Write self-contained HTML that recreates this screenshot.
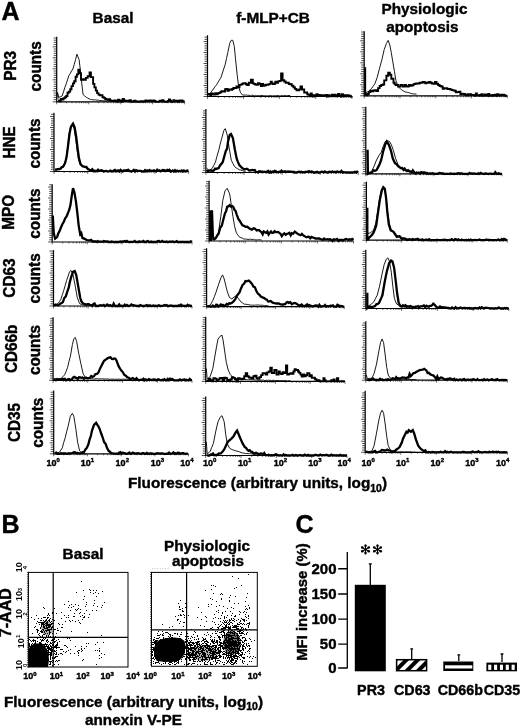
<!DOCTYPE html>
<html><head><meta charset="utf-8"><style>
html,body{margin:0;padding:0;background:#fff;}
body{width:520px;height:726px;overflow:hidden;}
svg{display:block;font-family:"Liberation Sans", sans-serif;filter:blur(0.3px);}
</style></head><body>
<svg width="520" height="726" viewBox="0 0 520 726">
<rect width="520" height="726" fill="#fff"/>
<g><path d="M52.7,101.8h4.0M53.7,99.6h3.0M53.7,97.4h3.0M53.7,95.2h3.0M53.7,93.0h3.0M52.7,90.8h4.0M53.7,88.6h3.0M53.7,86.4h3.0M53.7,84.2h3.0M53.7,82.0h3.0M52.7,79.8h4.0M53.7,77.6h3.0M53.7,75.4h3.0M53.7,73.2h3.0M53.7,71.0h3.0M52.7,68.8h4.0M53.7,66.6h3.0M53.7,64.4h3.0M53.7,62.2h3.0M53.7,60.0h3.0M52.7,57.8h4.0M53.7,55.6h3.0M53.7,53.4h3.0M53.7,51.2h3.0M53.7,49.0h3.0M52.7,46.8h4.0M53.7,44.6h3.0M53.7,42.4h3.0M53.7,40.2h3.0M53.7,38.0h3.0" stroke="#222" stroke-width="0.8" fill="none"/><path d="M56.7,101.8v2.5M66.3,101.8v1.5M72.0,101.8v1.5M76.0,101.8v1.5M79.0,101.8v1.5M81.6,101.8v1.5M83.7,101.8v1.5M85.6,101.8v1.5M87.2,101.8v1.5M88.7,101.8v2.5M98.3,101.8v1.5M103.9,101.8v1.5M107.9,101.8v1.5M111.0,101.8v1.5M113.6,101.8v1.5M115.7,101.8v1.5M117.6,101.8v1.5M119.2,101.8v1.5M120.7,101.8v2.5M130.3,101.8v1.5M135.9,101.8v1.5M139.9,101.8v1.5M143.0,101.8v1.5M145.5,101.8v1.5M147.7,101.8v1.5M149.5,101.8v1.5M151.2,101.8v1.5M152.6,101.8v2.5M162.3,101.8v1.5M167.9,101.8v1.5M171.9,101.8v1.5M175.0,101.8v1.5M177.5,101.8v1.5M179.6,101.8v1.5M181.5,101.8v1.5M183.1,101.8v1.5M184.6,101.8v2.5" stroke="#333" stroke-width="0.7" fill="none"/><path d="M56.7,36.7V101.8H184.6" stroke="#000" stroke-width="1.2" fill="none"/><path d="M58.1,98.7 L57.5,92.5 L58.6,97.3 L60.4,96.8 L62.1,96.0 L63.5,91.9 L64.8,87.5 L66.2,83.9 L67.5,79.9 L68.8,75.8 L70.2,73.6 L71.5,71.0 L72.9,69.0 L74.2,64.5 L75.6,59.6 L76.9,54.2 L79.1,59.6 L80.4,70.4 L81.8,83.9 L83.1,94.6 L84.7,96.0 L86.3,97.3 L87.7,98.0 L89.0,98.8 L90.4,99.5 L91.7,99.6 L93.1,99.8 L94.4,99.9 L95.8,99.9 L97.1,100.2 L98.5,100.1 L99.8,100.6 L101.2,100.6 L102.5,100.5 L103.9,100.8 L105.2,100.9 L106.5,101.0 L107.9,100.7 L109.2,101.0 L110.6,101.1 L111.9,100.7 L113.3,100.9 L114.6,101.2 L116.0,101.1 L117.3,101.2 L118.7,100.9 L120.0,101.1" stroke="#000" stroke-width="0.9" fill="none" stroke-linejoin="round"/><path d="M58.1,100.5 L59.4,100.5 L59.4,101.4 L60.8,101.4 L60.8,99.0 L62.1,99.0 L62.1,99.5 L63.5,99.5 L63.5,98.3 L64.8,98.3 L64.8,97.3 L66.2,97.3 L66.2,96.0 L67.5,96.0 L67.5,92.7 L68.8,92.7 L68.8,91.6 L70.2,91.6 L70.2,89.2 L71.5,89.2 L71.5,86.1 L72.9,86.1 L72.9,83.4 L74.2,83.4 L74.2,81.2 L75.6,81.2 L75.6,76.8 L76.9,76.8 L76.9,74.4 L78.3,74.4 L78.3,69.8 L79.6,69.8 L79.6,73.1 L81.0,73.1 L81.0,79.8 L82.3,79.8 L82.3,79.3 L83.7,79.3 L83.7,79.8 L85.8,79.8 L85.8,77.9 L87.7,77.9 L87.7,76.3 L89.6,76.3 L89.6,72.5 L90.9,72.5 L90.9,77.1 L93.1,77.1 L93.1,83.9 L94.4,83.9 L94.4,87.4 L95.8,87.4 L95.8,90.6 L97.1,90.6 L97.1,93.1 L98.5,93.1 L98.5,94.6 L99.8,94.6 L99.8,95.2 L101.2,95.2 L101.2,95.1 L102.5,95.1 L102.5,97.3 L103.9,97.3 L103.9,97.9 L105.2,97.9 L105.2,99.0 L106.5,99.0 L106.5,99.5 L107.7,99.5 L107.7,99.9 L108.9,99.9 L108.9,99.1 L110.0,99.1 L110.0,100.5 L111.2,100.5 L111.2,100.6 L112.3,100.6 L112.3,100.7 L113.5,100.7 L113.5,101.0 L114.6,101.0 L114.6,100.5 L115.8,100.5 L115.8,100.9 L116.9,100.9 L116.9,101.6 L118.1,101.6 L118.1,99.7 L119.2,99.7 L119.2,100.9 L120.4,100.9 L120.4,100.5 L121.5,100.5 L121.5,101.8 L122.7,101.8 L122.7,98.9 L123.9,98.9 L123.9,100.4 L125.0,100.4 L125.0,101.1 L126.2,101.1 L126.2,100.8 L127.3,100.8 L127.3,100.7 L128.5,100.7 L128.5,101.2 L129.6,101.2 L129.6,100.2 L130.8,100.2 L130.8,101.1 L131.9,101.1 L131.9,101.7 L133.0,101.7 L133.0,101.6 L134.1,101.6 L134.1,100.8 L135.3,100.8 L135.3,101.2 L136.4,101.2 L136.4,101.4 L137.5,101.4 L137.5,101.8 L138.6,101.8 L138.6,101.5 L139.7,101.5 L139.7,101.4 L140.9,101.4 L140.9,101.1 L142.0,101.1 L142.0,101.7 L143.1,101.7 L143.1,101.1 L144.2,101.1 L144.2,101.5 L145.4,101.5 L145.4,100.5 L146.5,100.5 L146.5,101.1 L147.6,101.1 L147.6,100.6 L148.7,100.6 L148.7,101.1 L149.8,101.1 L149.8,100.5 L151.0,100.5 L151.0,100.9 L152.1,100.9 L152.1,101.2 L153.2,101.2 L153.2,100.5 L154.3,100.5 L154.3,100.9 L155.4,100.9 L155.4,101.7 L156.6,101.7 L156.6,101.8 L157.7,101.8 L157.7,101.8 L158.8,101.8 L158.8,101.4 L159.9,101.4 L159.9,100.6 L161.1,100.6 L161.1,101.4 L162.2,101.4 L162.2,100.3 L163.3,100.3 L163.3,101.2 L164.4,101.2 L164.4,101.8 L165.5,101.8 L165.5,101.8 L166.7,101.8 L166.7,101.8 L167.8,101.8 L167.8,101.0 L168.9,101.0 L168.9,99.4 L170.0,99.4 L170.0,100.6 L171.1,100.6 L171.1,101.7 L172.3,101.7 L172.3,101.6 L173.4,101.6 L173.4,100.2 L174.5,100.2 L174.5,101.3 L175.6,101.3 L175.6,101.1 L176.8,101.1 L176.8,100.6 L177.9,100.6 L177.9,101.8 L179.0,101.8 L179.0,100.8 L180.1,100.8 L180.1,100.4 L181.2,100.4 L181.2,100.4 L182.4,100.4 L182.4,101.5 L183.5,101.5 L183.5,101.1 L184.6,101.1 L184.6,101.1" stroke="#000" stroke-width="1.9" fill="none" stroke-linejoin="miter"/></g>
<g><path d="M50.0,171.5h4.0M51.0,169.3h3.0M51.0,167.1h3.0M51.0,164.9h3.0M51.0,162.7h3.0M50.0,160.5h4.0M51.0,158.3h3.0M51.0,156.1h3.0M51.0,153.9h3.0M51.0,151.7h3.0M50.0,149.5h4.0M51.0,147.3h3.0M51.0,145.1h3.0M51.0,142.9h3.0M51.0,140.7h3.0M50.0,138.5h4.0M51.0,136.3h3.0M51.0,134.1h3.0M51.0,131.9h3.0M51.0,129.7h3.0M50.0,127.5h4.0M51.0,125.3h3.0M51.0,123.1h3.0M51.0,120.9h3.0M51.0,118.7h3.0M50.0,116.5h4.0M51.0,114.3h3.0" stroke="#222" stroke-width="0.8" fill="none"/><path d="M54.0,171.5v2.5M64.1,171.5v1.5M70.1,171.5v1.5M74.3,171.5v1.5M77.5,171.5v1.5M80.2,171.5v1.5M82.4,171.5v1.5M84.4,171.5v1.5M86.1,171.5v1.5M87.7,171.5v2.5M97.8,171.5v1.5M103.7,171.5v1.5M107.9,171.5v1.5M111.2,171.5v1.5M113.8,171.5v1.5M116.1,171.5v1.5M118.0,171.5v1.5M119.8,171.5v1.5M121.3,171.5v2.5M131.4,171.5v1.5M137.4,171.5v1.5M141.6,171.5v1.5M144.8,171.5v1.5M147.5,171.5v1.5M149.7,171.5v1.5M151.7,171.5v1.5M153.4,171.5v1.5M154.9,171.5v2.5M165.1,171.5v1.5M171.0,171.5v1.5M175.2,171.5v1.5M178.5,171.5v1.5M181.1,171.5v1.5M183.4,171.5v1.5M185.3,171.5v1.5M187.1,171.5v1.5M188.6,171.5v2.5" stroke="#333" stroke-width="0.7" fill="none"/><path d="M54.0,112.7V171.5H188.6" stroke="#000" stroke-width="1.2" fill="none"/><path d="M55.1,169.0 L56.5,168.9 L58.0,168.8 L59.4,168.5 L60.9,168.5 L62.5,166.3 L64.0,164.4 L65.8,159.8 L67.5,148.3 L68.9,135.3 L70.4,127.5 L72.4,125.2 L74.1,128.7 L75.6,138.2 L77.0,149.7 L78.5,159.2 L80.2,164.4 L82.5,166.2 L83.9,166.6 L85.4,167.2 L86.8,167.9 L88.3,168.3 L89.7,169.3 L91.2,169.9 L92.6,170.0 L94.0,169.9 L95.5,170.1 L96.9,170.3 L98.4,170.3 L99.8,170.3 L101.2,170.2 L102.7,170.5" stroke="#000" stroke-width="0.9" fill="none" stroke-linejoin="round"/><path d="M55.1,169.9 L56.5,169.7 L58.0,169.2 L59.4,169.0 L60.6,168.7 L61.7,167.1 L62.9,167.0 L64.0,165.2 L65.2,162.7 L66.6,156.9 L68.1,145.4 L69.5,133.8 L71.0,126.6 L73.0,123.7 L74.7,127.5 L76.2,136.7 L77.6,148.3 L79.0,158.4 L80.5,164.1 L82.5,166.2 L83.9,166.6 L85.4,167.0 L86.5,167.0 L87.7,169.0 L88.8,169.4 L90.0,170.3 L91.2,170.2 L92.3,169.2 L93.5,171.3 L94.6,171.1 L95.8,171.4 L96.9,171.1 L98.1,169.7 L99.2,170.8 L100.4,170.7 L101.5,170.3 L102.7,170.8 L103.8,171.5 L104.9,171.2 L106.0,171.0 L107.1,171.2 L108.3,171.3 L109.4,171.1 L110.5,170.6 L111.6,171.4 L112.7,171.4 L113.8,170.5 L114.9,169.9 L116.0,171.2 L117.2,170.6 L118.3,170.4 L119.4,171.4 L120.5,169.9 L121.6,170.7 L122.7,171.5 L123.8,170.4 L124.9,170.3 L126.1,170.4 L127.2,170.0 L128.3,169.8 L129.4,171.2 L130.5,171.2 L131.6,171.5 L132.7,170.9 L133.8,169.9 L135.0,171.5 L136.1,170.1 L137.2,170.6 L138.3,170.8 L139.4,170.8 L140.5,170.8 L141.6,171.2 L142.7,171.5 L143.9,171.5 L145.0,170.2 L146.1,171.4 L147.2,170.4 L148.3,171.1 L149.4,170.0 L150.5,171.0 L151.6,170.7 L152.8,170.9 L153.9,170.3 L155.0,170.8 L156.1,171.5 L157.2,169.7 L158.3,170.7 L159.4,170.5 L160.5,171.3 L161.7,170.6 L162.8,169.9 L163.9,170.0 L165.0,170.7 L166.1,170.6 L167.2,169.8 L168.3,170.5 L169.4,169.8 L170.6,171.5 L171.7,171.1 L172.8,170.4 L173.9,171.5 L175.0,170.3 L176.1,171.5 L177.2,170.7 L178.4,171.3 L179.5,170.9 L180.6,171.3 L181.7,170.5 L182.8,171.4 L183.9,170.4 L185.0,171.3 L186.1,171.1 L187.3,170.5 L188.4,170.8" stroke="#000" stroke-width="2.3" fill="none" stroke-linejoin="miter"/></g>
<g><path d="M48.2,242.0h4.0M49.2,239.8h3.0M49.2,237.6h3.0M49.2,235.4h3.0M49.2,233.2h3.0M48.2,231.0h4.0M49.2,228.8h3.0M49.2,226.6h3.0M49.2,224.4h3.0M49.2,222.2h3.0M48.2,220.0h4.0M49.2,217.8h3.0M49.2,215.6h3.0M49.2,213.4h3.0M49.2,211.2h3.0M48.2,209.0h4.0M49.2,206.8h3.0M49.2,204.6h3.0M49.2,202.4h3.0M49.2,200.2h3.0M48.2,198.0h4.0M49.2,195.8h3.0M49.2,193.6h3.0M49.2,191.4h3.0M49.2,189.2h3.0M48.2,187.0h4.0M49.2,184.8h3.0" stroke="#222" stroke-width="0.8" fill="none"/><path d="M52.2,242.0v2.5M62.7,242.0v1.5M68.9,242.0v1.5M73.2,242.0v1.5M76.6,242.0v1.5M79.4,242.0v1.5M81.7,242.0v1.5M83.8,242.0v1.5M85.6,242.0v1.5M87.2,242.0v2.5M97.7,242.0v1.5M103.8,242.0v1.5M108.2,242.0v1.5M111.6,242.0v1.5M114.3,242.0v1.5M116.7,242.0v1.5M118.7,242.0v1.5M120.5,242.0v1.5M122.1,242.0v2.5M132.6,242.0v1.5M138.8,242.0v1.5M143.1,242.0v1.5M146.5,242.0v1.5M149.3,242.0v1.5M151.6,242.0v1.5M153.7,242.0v1.5M155.5,242.0v1.5M157.1,242.0v2.5M167.6,242.0v1.5M173.7,242.0v1.5M178.1,242.0v1.5M181.5,242.0v1.5M184.2,242.0v1.5M186.6,242.0v1.5M188.6,242.0v1.5M190.4,242.0v1.5M192.0,242.0v2.5" stroke="#333" stroke-width="0.7" fill="none"/><path d="M52.2,184.3V242.0H192.0" stroke="#000" stroke-width="1.2" fill="none"/><path d="M52.8,218.4 L53.7,234.2 L55.1,239.2 L57.1,237.7 L59.4,232.2 L60.9,228.6 L62.3,225.0 L63.7,222.1 L65.2,219.2 L66.6,216.3 L68.1,213.2 L70.4,206.0 L71.8,195.9 L73.0,189.0 L74.4,193.0 L75.9,201.7 L77.3,213.2 L78.7,226.2 L80.2,234.8 L82.5,238.6 L83.9,238.9 L85.4,239.7 L86.8,240.1 L88.3,240.4 L89.7,240.6 L91.2,240.9 L92.6,240.9 L94.0,241.1 L95.5,241.1 L96.9,241.3 L98.4,241.6 L99.8,241.4 L101.2,241.9 L102.7,241.7" stroke="#000" stroke-width="0.9" fill="none" stroke-linejoin="round"/><path d="M52.8,215.5 L53.7,232.8 L55.1,238.6 L57.1,237.1 L58.3,233.2 L59.4,231.4 L60.9,227.6 L62.3,224.2 L63.7,222.0 L65.2,218.4 L66.6,216.5 L68.1,212.6 L69.2,210.0 L70.4,205.4 L71.8,195.3 L73.0,188.1 L74.4,192.4 L75.9,201.1 L77.3,212.6 L78.7,225.6 L80.2,234.2 L81.3,233.0 L82.5,238.0 L83.9,238.4 L85.4,239.2 L86.8,240.0 L88.3,240.4 L89.7,240.3 L91.2,239.8 L92.6,241.6 L94.0,241.5 L95.3,241.5 L96.5,242.0 L97.7,241.1 L99.0,241.7 L100.2,241.7 L101.5,241.7 L102.7,241.7 L103.8,241.0 L104.9,241.3 L106.0,241.5 L107.1,241.3 L108.2,241.5 L109.3,242.0 L110.4,242.0 L111.5,241.4 L112.6,241.8 L113.7,242.0 L114.8,242.0 L115.9,241.8 L117.0,242.0 L118.1,242.0 L119.2,241.9 L120.3,241.5 L121.4,241.9 L122.5,241.4 L123.6,241.6 L124.7,241.1 L125.8,241.8 L126.9,241.0 L128.1,241.9 L129.2,242.0 L130.3,242.0 L131.4,241.8 L132.5,241.9 L133.6,241.7 L134.7,241.0 L135.8,242.0 L136.9,242.0 L138.0,242.0 L139.1,241.3 L140.2,242.0 L141.3,241.6 L142.4,241.6 L143.5,240.9 L144.6,242.0 L145.7,242.0 L146.8,241.3 L147.9,241.1 L149.0,242.0 L150.1,242.0 L151.2,241.5 L152.3,242.0 L153.4,242.0 L154.5,242.0 L155.6,241.8 L156.7,241.8 L157.8,241.0 L158.9,240.9 L160.0,241.9 L161.1,241.7 L162.2,240.9 L163.3,241.8 L164.4,241.6 L165.5,242.0 L166.6,241.5 L167.7,242.0 L168.8,242.0 L169.9,241.5 L171.1,242.0 L172.2,241.4 L173.3,241.7 L174.4,242.0 L175.5,241.9 L176.6,241.1 L177.7,242.0 L178.8,242.0 L179.9,242.0 L181.0,242.0 L182.1,241.7 L183.2,242.0 L184.3,241.9 L185.4,242.0 L186.5,242.0 L187.6,242.0 L188.7,242.0 L189.8,242.0 L190.9,241.3 L192.0,242.0" stroke="#000" stroke-width="2.3" fill="none" stroke-linejoin="miter"/></g>
<g><path d="M49.5,306.0h4.0M50.5,303.8h3.0M50.5,301.6h3.0M50.5,299.4h3.0M50.5,297.2h3.0M49.5,295.0h4.0M50.5,292.8h3.0M50.5,290.6h3.0M50.5,288.4h3.0M50.5,286.2h3.0M49.5,284.0h4.0M50.5,281.8h3.0M50.5,279.6h3.0M50.5,277.4h3.0M50.5,275.2h3.0M49.5,273.0h4.0M50.5,270.8h3.0M50.5,268.6h3.0M50.5,266.4h3.0M50.5,264.2h3.0M49.5,262.0h4.0M50.5,259.8h3.0M50.5,257.6h3.0M50.5,255.4h3.0M50.5,253.2h3.0M49.5,251.0h4.0" stroke="#222" stroke-width="0.8" fill="none"/><path d="M53.5,306.0v2.5M63.9,306.0v1.5M70.0,306.0v1.5M74.3,306.0v1.5M77.7,306.0v1.5M80.4,306.0v1.5M82.8,306.0v1.5M84.8,306.0v1.5M86.5,306.0v1.5M88.1,306.0v2.5M98.5,306.0v1.5M104.6,306.0v1.5M109.0,306.0v1.5M112.3,306.0v1.5M115.1,306.0v1.5M117.4,306.0v1.5M119.4,306.0v1.5M121.2,306.0v1.5M122.8,306.0v2.5M133.2,306.0v1.5M139.3,306.0v1.5M143.6,306.0v1.5M147.0,306.0v1.5M149.7,306.0v1.5M152.0,306.0v1.5M154.0,306.0v1.5M155.8,306.0v1.5M157.4,306.0v2.5M167.8,306.0v1.5M173.9,306.0v1.5M178.2,306.0v1.5M181.6,306.0v1.5M184.3,306.0v1.5M186.6,306.0v1.5M188.6,306.0v1.5M190.4,306.0v1.5M192.0,306.0v2.5" stroke="#333" stroke-width="0.7" fill="none"/><path d="M53.5,250.2V306.0H192.0" stroke="#000" stroke-width="1.2" fill="none"/><path d="M54.2,305.0 L56.1,304.4 L58.0,303.6 L59.4,301.6 L60.9,299.2 L62.3,294.8 L63.7,290.6 L65.2,285.4 L66.6,280.5 L68.1,276.2 L69.5,271.8 L71.0,270.4 L73.0,274.7 L75.3,286.3 L77.3,297.8 L79.6,303.6 L81.1,304.3 L82.5,304.6 L83.9,305.0 L85.4,305.0 L86.8,305.1 L88.3,305.4 L89.7,305.6 L91.2,305.6" stroke="#000" stroke-width="0.9" fill="none" stroke-linejoin="round"/><path d="M54.2,305.9 L55.5,304.5 L56.8,305.0 L58.1,305.3 L59.4,304.4 L60.6,303.5 L61.7,303.0 L62.9,302.1 L64.3,298.0 L65.8,296.4 L67.2,291.8 L68.7,287.7 L69.8,282.2 L71.0,277.6 L73.0,271.8 L74.7,271.0 L76.2,274.7 L78.2,286.3 L80.2,297.8 L81.3,301.2 L82.5,303.0 L83.9,303.8 L85.4,304.4 L86.5,304.5 L87.7,304.2 L88.8,304.2 L90.0,304.9 L91.2,305.0 L92.3,305.9 L93.5,303.9 L94.6,303.4 L95.8,306.0 L96.9,306.0 L98.1,305.8 L99.2,305.7 L100.4,305.2 L101.5,305.3 L102.7,305.6 L103.8,304.9 L104.9,306.0 L106.0,305.5 L107.1,304.5 L108.2,305.3 L109.3,305.3 L110.4,305.2 L111.5,306.0 L112.6,306.0 L113.7,303.7 L114.8,305.9 L115.9,306.0 L117.0,306.0 L118.1,306.0 L119.2,304.5 L120.3,306.0 L121.4,305.7 L122.5,306.0 L123.6,306.0 L124.7,304.8 L125.8,306.0 L126.9,305.0 L128.1,306.0 L129.2,306.0 L130.3,305.4 L131.4,304.4 L132.5,305.2 L133.6,305.2 L134.7,305.6 L135.8,305.6 L136.9,306.0 L138.0,306.0 L139.1,306.0 L140.2,305.0 L141.3,305.5 L142.4,306.0 L143.5,306.0 L144.6,306.0 L145.7,305.5 L146.8,305.1 L147.9,306.0 L149.0,305.4 L150.1,305.5 L151.2,306.0 L152.3,305.8 L153.4,305.4 L154.5,306.0 L155.6,305.7 L156.7,306.0 L157.8,305.7 L158.9,305.3 L160.0,306.0 L161.1,306.0 L162.2,305.9 L163.3,305.7 L164.4,305.0 L165.5,305.5 L166.6,305.1 L167.7,306.0 L168.8,306.0 L169.9,305.6 L171.1,305.5 L172.2,306.0 L173.3,305.8 L174.4,306.0 L175.5,306.0 L176.6,306.0 L177.7,306.0 L178.8,305.3 L179.9,306.0 L181.0,304.7 L182.1,305.9 L183.2,305.7 L184.3,306.0 L185.4,305.8 L186.5,306.0 L187.6,304.8 L188.7,305.6 L189.8,305.4 L190.9,306.0 L192.0,305.9" stroke="#000" stroke-width="2.3" fill="none" stroke-linejoin="miter"/></g>
<g><path d="M49.1,380.3h4.0M50.1,378.1h3.0M50.1,375.9h3.0M50.1,373.7h3.0M50.1,371.5h3.0M49.1,369.3h4.0M50.1,367.1h3.0M50.1,364.9h3.0M50.1,362.7h3.0M50.1,360.5h3.0M49.1,358.3h4.0M50.1,356.1h3.0M50.1,353.9h3.0M50.1,351.7h3.0M50.1,349.5h3.0M49.1,347.3h4.0M50.1,345.1h3.0M50.1,342.9h3.0M50.1,340.7h3.0M50.1,338.5h3.0M49.1,336.3h4.0M50.1,334.1h3.0M50.1,331.9h3.0M50.1,329.7h3.0M50.1,327.5h3.0M49.1,325.3h4.0M50.1,323.1h3.0M50.1,320.9h3.0M50.1,318.7h3.0" stroke="#222" stroke-width="0.8" fill="none"/><path d="M53.1,380.3v2.5M63.6,380.3v1.5M69.7,380.3v1.5M74.0,380.3v1.5M77.4,380.3v1.5M80.1,380.3v1.5M82.4,380.3v1.5M84.5,380.3v1.5M86.2,380.3v1.5M87.8,380.3v2.5M98.3,380.3v1.5M104.4,380.3v1.5M108.7,380.3v1.5M112.1,380.3v1.5M114.8,380.3v1.5M117.2,380.3v1.5M119.2,380.3v1.5M121.0,380.3v1.5M122.6,380.3v2.5M133.0,380.3v1.5M139.1,380.3v1.5M143.5,380.3v1.5M146.8,380.3v1.5M149.6,380.3v1.5M151.9,380.3v1.5M153.9,380.3v1.5M155.7,380.3v1.5M157.3,380.3v2.5M167.7,380.3v1.5M173.8,380.3v1.5M178.2,380.3v1.5M181.5,380.3v1.5M184.3,380.3v1.5M186.6,380.3v1.5M188.6,380.3v1.5M190.4,380.3v1.5M192.0,380.3v2.5" stroke="#333" stroke-width="0.7" fill="none"/><path d="M53.1,317.2V380.3H192.0" stroke="#000" stroke-width="1.2" fill="none"/><path d="M53.7,379.2 L55.1,379.2 L56.5,378.8 L58.0,378.8 L59.4,378.6 L60.9,378.7 L62.7,376.8 L64.6,374.9 L66.1,371.4 L67.5,367.7 L68.9,361.8 L70.4,356.2 L72.4,344.6 L73.8,338.8 L75.3,337.4 L76.7,341.7 L78.7,353.3 L81.1,364.8 L83.1,373.5 L85.4,377.8 L86.8,378.3 L88.3,378.7 L89.6,378.5 L90.9,378.8 L92.2,378.7 L93.5,379.0 L94.8,378.9 L96.1,378.8 L97.4,378.6 L98.8,378.9 L100.1,378.9 L101.4,378.9 L102.7,378.7 L104.0,379.1 L105.3,379.0 L106.6,379.0 L107.9,378.9 L109.2,379.3 L110.6,379.1 L111.9,379.3 L113.2,379.1 L114.5,379.2 L115.8,379.4 L117.1,379.2 L118.4,379.1 L119.7,379.1 L121.0,379.4 L122.4,379.3 L123.7,379.1 L125.0,379.4 L126.3,379.2 L127.6,379.4 L128.9,379.6 L130.2,379.5 L131.5,379.5" stroke="#000" stroke-width="0.9" fill="none" stroke-linejoin="round"/><path d="M53.7,379.8 L54.8,379.3 L55.9,380.2 L57.0,379.1 L58.1,379.8 L59.2,379.3 L60.3,379.6 L61.4,379.5 L62.5,378.7 L63.6,379.2 L64.7,378.9 L65.9,380.3 L67.0,379.9 L68.1,379.2 L69.3,379.2 L70.5,380.1 L71.8,379.4 L73.0,377.7 L74.3,376.9 L75.5,377.7 L76.7,378.1 L77.9,378.9 L79.0,377.3 L80.2,377.4 L81.3,377.8 L82.5,377.5 L83.7,378.6 L84.8,378.2 L86.0,377.5 L87.1,378.2 L88.3,378.1 L89.7,377.9 L91.2,376.1 L92.6,376.9 L94.0,376.2 L95.5,374.1 L96.9,374.0 L98.4,372.6 L99.8,369.1 L101.2,366.3 L102.7,363.4 L104.1,360.8 L105.6,359.6 L106.7,359.0 L107.9,358.0 L109.0,357.6 L110.5,357.2 L111.9,359.0 L113.1,359.1 L114.2,358.5 L115.4,358.8 L116.5,360.5 L118.6,366.2 L120.0,368.6 L121.4,370.6 L122.9,372.3 L124.3,374.9 L125.8,375.6 L127.2,377.2 L128.7,377.8 L130.1,379.2 L131.5,378.7 L132.8,378.0 L134.0,378.8 L135.2,379.8 L136.5,378.2 L137.7,379.6 L139.0,380.3 L140.2,379.8 L141.3,379.6 L142.4,380.0 L143.5,378.8 L144.6,380.3 L145.7,379.5 L146.8,380.3 L147.9,380.0 L149.0,379.1 L150.1,379.5 L151.2,379.8 L152.3,379.9 L153.4,379.3 L154.5,379.3 L155.6,379.8 L156.7,380.3 L157.8,379.3 L158.9,379.3 L160.0,380.1 L161.1,380.3 L162.2,379.7 L163.3,380.3 L164.4,379.2 L165.5,380.3 L166.6,380.3 L167.7,379.0 L168.9,380.3 L170.0,378.8 L171.1,379.8 L172.2,379.0 L173.3,379.8 L174.4,380.3 L175.5,380.3 L176.6,380.3 L177.7,380.3 L178.8,380.3 L179.9,379.5 L181.0,380.3 L182.1,380.0 L183.2,379.9 L184.3,379.3 L185.4,380.3 L186.5,379.7 L187.6,380.2 L188.7,380.3 L189.8,378.9 L190.9,380.0 L192.0,380.1" stroke="#000" stroke-width="2.3" fill="none" stroke-linejoin="miter"/></g>
<g><path d="M49.7,453.8h4.0M50.7,451.6h3.0M50.7,449.4h3.0M50.7,447.2h3.0M50.7,445.0h3.0M49.7,442.8h4.0M50.7,440.6h3.0M50.7,438.4h3.0M50.7,436.2h3.0M50.7,434.0h3.0M49.7,431.8h4.0M50.7,429.6h3.0M50.7,427.4h3.0M50.7,425.2h3.0M50.7,423.0h3.0M49.7,420.8h4.0M50.7,418.6h3.0M50.7,416.4h3.0M50.7,414.2h3.0M50.7,412.0h3.0M49.7,409.8h4.0M50.7,407.6h3.0M50.7,405.4h3.0M50.7,403.2h3.0M50.7,401.0h3.0M49.7,398.8h4.0M50.7,396.6h3.0M50.7,394.4h3.0M50.7,392.2h3.0" stroke="#222" stroke-width="0.8" fill="none"/><path d="M53.7,453.8v2.5M63.8,453.8v1.5M69.8,453.8v1.5M74.0,453.8v1.5M77.3,453.8v1.5M79.9,453.8v1.5M82.2,453.8v1.5M84.1,453.8v1.5M85.9,453.8v1.5M87.4,453.8v2.5M97.5,453.8v1.5M103.5,453.8v1.5M107.7,453.8v1.5M111.0,453.8v1.5M113.6,453.8v1.5M115.9,453.8v1.5M117.8,453.8v1.5M119.6,453.8v1.5M121.1,453.8v2.5M131.2,453.8v1.5M137.2,453.8v1.5M141.4,453.8v1.5M144.7,453.8v1.5M147.3,453.8v1.5M149.6,453.8v1.5M151.5,453.8v1.5M153.3,453.8v1.5M154.8,453.8v2.5M164.9,453.8v1.5M170.9,453.8v1.5M175.1,453.8v1.5M178.4,453.8v1.5M181.0,453.8v1.5M183.3,453.8v1.5M185.2,453.8v1.5M187.0,453.8v1.5M188.5,453.8v2.5" stroke="#333" stroke-width="0.7" fill="none"/><path d="M53.7,390.4V453.8H188.5" stroke="#000" stroke-width="1.2" fill="none"/><path d="M55.1,453.1 L56.5,452.8 L58.0,452.7 L59.4,452.2 L60.9,450.0 L62.3,447.9 L63.7,442.5 L65.2,437.8 L66.6,431.9 L68.1,426.3 L70.4,416.2 L72.4,413.3 L73.8,416.2 L75.9,429.2 L77.6,442.1 L79.6,450.8 L81.9,453.1 L83.7,453.5 L85.4,453.7" stroke="#000" stroke-width="0.9" fill="none" stroke-linejoin="round"/><path d="M55.1,453.7 L56.2,452.7 L57.3,453.8 L58.4,453.8 L59.6,453.8 L60.7,453.3 L61.8,453.8 L62.9,453.2 L64.0,453.8 L65.1,453.3 L66.2,453.6 L67.4,453.8 L68.5,453.2 L69.6,453.6 L70.7,453.3 L71.8,453.1 L72.9,452.8 L74.0,452.2 L75.2,452.4 L76.3,453.4 L77.4,452.9 L78.5,453.2 L79.6,453.4 L81.1,453.1 L82.5,452.2 L83.9,452.2 L85.4,449.5 L86.8,447.9 L88.3,444.6 L89.7,439.2 L90.9,435.8 L92.0,430.6 L94.0,424.8 L96.1,422.8 L97.2,424.6 L98.4,426.3 L99.8,429.4 L101.2,433.5 L102.7,437.5 L104.1,442.1 L105.6,443.8 L107.0,447.9 L108.5,450.7 L109.9,451.7 L111.3,453.2 L112.8,453.4 L114.2,453.6 L115.7,453.6 L117.1,453.7 L118.2,453.8 L119.3,452.6 L120.4,452.2 L121.5,453.7 L122.6,452.8 L123.7,453.0 L124.8,453.1 L125.9,453.8 L127.1,453.8 L128.2,453.4 L129.3,452.6 L130.4,453.8 L131.5,453.7 L132.6,452.7 L133.7,452.8 L134.8,453.8 L135.9,453.4 L137.0,453.5 L138.1,453.1 L139.2,453.3 L140.3,453.8 L141.4,453.8 L142.5,453.1 L143.6,453.2 L144.7,453.8 L145.8,453.8 L146.9,453.0 L148.0,453.8 L149.1,453.6 L150.2,453.5 L151.3,453.5 L152.5,453.6 L153.6,453.8 L154.7,453.8 L155.8,453.8 L156.9,453.1 L158.0,453.3 L159.1,453.4 L160.2,453.7 L161.3,453.4 L162.4,453.4 L163.5,453.7 L164.6,453.8 L165.7,453.8 L166.8,453.6 L167.9,453.8 L169.0,452.6 L170.1,453.8 L171.2,453.6 L172.3,453.5 L173.4,452.4 L174.5,453.8 L175.6,453.2 L176.7,453.8 L177.8,452.7 L179.0,452.8 L180.1,453.8 L181.2,453.3 L182.3,453.2 L183.4,453.2 L184.5,453.7 L185.6,453.8 L186.7,453.7 L187.8,453.7" stroke="#000" stroke-width="2.3" fill="none" stroke-linejoin="miter"/></g>
<g><path d="M203.5,96.5h4.0M204.5,94.3h3.0M204.5,92.1h3.0M204.5,89.9h3.0M204.5,87.7h3.0M203.5,85.5h4.0M204.5,83.3h3.0M204.5,81.1h3.0M204.5,78.9h3.0M204.5,76.7h3.0M203.5,74.5h4.0M204.5,72.3h3.0M204.5,70.1h3.0M204.5,67.9h3.0M204.5,65.7h3.0M203.5,63.5h4.0M204.5,61.3h3.0M204.5,59.1h3.0M204.5,56.9h3.0M204.5,54.7h3.0M203.5,52.5h4.0M204.5,50.3h3.0M204.5,48.1h3.0M204.5,45.9h3.0M204.5,43.7h3.0M203.5,41.5h4.0M204.5,39.3h3.0M204.5,37.1h3.0" stroke="#222" stroke-width="0.8" fill="none"/><path d="M207.5,96.5v2.5M218.4,96.5v1.5M224.7,96.5v1.5M229.2,96.5v1.5M232.7,96.5v1.5M235.6,96.5v1.5M238.0,96.5v1.5M240.1,96.5v1.5M241.9,96.5v1.5M243.6,96.5v2.5M254.4,96.5v1.5M260.8,96.5v1.5M265.3,96.5v1.5M268.8,96.5v1.5M271.6,96.5v1.5M274.1,96.5v1.5M276.2,96.5v1.5M278.0,96.5v1.5M279.6,96.5v2.5M290.5,96.5v1.5M296.9,96.5v1.5M301.4,96.5v1.5M304.9,96.5v1.5M307.7,96.5v1.5M310.1,96.5v1.5M312.2,96.5v1.5M314.1,96.5v1.5M315.7,96.5v2.5M326.6,96.5v1.5M332.9,96.5v1.5M337.4,96.5v1.5M340.9,96.5v1.5M343.8,96.5v1.5M346.2,96.5v1.5M348.3,96.5v1.5M350.1,96.5v1.5M351.8,96.5v2.5" stroke="#333" stroke-width="0.7" fill="none"/><path d="M207.5,35.3V96.5H351.8" stroke="#000" stroke-width="1.2" fill="none"/><path d="M207.5,83.4 L207.5,94.2 L208.8,95.1 L210.3,93.2 L211.8,91.1 L213.4,89.0 L214.9,86.8 L216.5,84.9 L218.0,82.3 L219.5,79.9 L221.1,77.2 L222.4,73.0 L223.7,69.0 L225.1,64.9 L226.5,58.5 L227.8,52.6 L229.7,43.4 L231.2,40.3 L232.8,40.3 L234.3,46.5 L235.5,58.8 L237.1,74.2 L238.6,86.5 L240.5,92.6 L242.6,95.1 L243.9,95.0 L245.2,95.1 L246.5,95.0 L247.8,95.3 L249.1,95.3 L250.4,95.5 L251.7,95.2 L253.0,95.4 L254.3,95.8 L255.6,95.4 L256.9,95.9 L258.2,95.5 L259.5,95.7 L260.9,95.5 L262.2,95.5 L263.6,95.5 L264.9,95.9 L266.2,95.7 L267.6,95.9 L268.9,95.7 L270.2,95.7 L271.6,95.5 L272.9,96.0 L274.3,95.5 L275.6,95.8 L276.9,95.5 L278.3,95.6 L279.6,95.8 L280.9,95.9 L282.3,95.5 L283.6,95.7 L285.0,95.6 L286.3,95.7 L287.6,95.5 L289.0,95.5 L290.3,95.7" stroke="#000" stroke-width="0.9" fill="none" stroke-linejoin="round"/><path d="M207.5,94.2 L208.9,94.2 L208.9,93.9 L210.3,93.9 L210.3,95.1 L211.5,95.1 L211.5,93.5 L212.8,93.5 L212.8,94.1 L214.0,94.1 L214.0,94.6 L215.2,94.6 L215.2,93.3 L216.5,93.3 L216.5,94.2 L217.7,94.2 L217.7,93.4 L218.9,93.4 L218.9,92.9 L220.2,92.9 L220.2,92.3 L221.4,92.3 L221.4,91.3 L222.6,91.3 L222.6,91.1 L223.8,91.1 L223.8,91.5 L225.1,91.5 L225.1,89.2 L226.3,89.2 L226.3,89.0 L227.5,89.0 L227.5,90.9 L228.8,90.9 L228.8,89.5 L229.9,89.5 L229.9,89.5 L231.1,89.5 L231.1,89.8 L232.2,89.8 L232.2,89.0 L233.4,89.0 L233.4,88.0 L234.9,88.0 L234.9,88.1 L236.5,88.1 L236.5,86.5 L238.0,86.5 L238.0,87.4 L239.5,87.4 L239.5,84.9 L241.1,84.9 L241.1,84.4 L242.6,84.4 L242.6,83.4 L244.2,83.4 L244.2,83.2 L245.7,83.2 L245.7,84.3 L247.2,84.3 L247.2,85.1 L248.8,85.1 L248.8,82.8 L250.9,82.8 L250.9,79.7 L252.8,79.7 L252.8,83.4 L254.0,83.4 L254.0,83.9 L255.2,83.9 L255.2,84.5 L256.5,84.5 L256.5,84.9 L258.0,84.9 L258.0,83.2 L259.5,83.2 L259.5,84.0 L260.8,84.0 L260.8,86.0 L262.0,86.0 L262.0,84.0 L263.2,84.0 L263.2,85.8 L264.6,85.8 L264.6,85.2 L265.9,85.2 L265.9,84.7 L267.2,84.7 L267.2,84.9 L268.4,84.9 L268.4,84.4 L269.5,84.4 L269.5,83.9 L270.7,83.9 L270.7,81.8 L271.8,81.8 L271.8,83.4 L273.0,83.4 L273.0,84.1 L274.2,84.1 L274.2,83.8 L275.3,83.8 L275.3,81.7 L276.5,81.7 L276.5,82.8 L278.0,82.8 L278.0,81.4 L279.5,81.4 L279.5,80.9 L281.1,80.9 L281.1,73.5 L282.6,73.5 L282.6,80.3 L284.2,80.3 L284.2,81.5 L285.7,81.5 L285.7,82.8 L287.2,82.8 L287.2,82.6 L288.8,82.6 L288.8,84.0 L290.3,84.0 L290.3,84.3 L291.8,84.3 L291.8,85.8 L293.4,85.8 L293.4,87.2 L294.9,87.2 L294.9,88.9 L296.5,88.9 L296.5,90.3 L298.0,90.3 L298.0,90.2 L299.2,90.2 L299.2,89.4 L300.5,89.4 L300.5,86.5 L302.0,86.5 L302.0,89.5 L304.2,89.5 L304.2,92.6 L305.7,92.6 L305.7,92.4 L307.2,92.4 L307.2,94.2 L308.4,94.2 L308.4,94.9 L309.5,94.9 L309.5,95.5 L310.7,95.5 L310.7,93.4 L311.8,93.4 L311.8,95.1 L313.0,95.1 L313.0,96.2 L314.2,96.2 L314.2,95.3 L315.3,95.3 L315.3,95.4 L316.5,95.4 L316.5,94.2 L317.6,94.2 L317.6,95.3 L318.8,95.3 L318.8,94.9 L319.9,94.9 L319.9,95.2 L321.1,95.2 L321.1,95.7 L322.3,95.7 L322.3,95.3 L323.4,95.3 L323.4,95.5 L324.6,95.5 L324.6,95.7 L325.8,95.7 L325.8,95.0 L327.0,95.0 L327.0,96.5 L328.2,96.5 L328.2,95.2 L329.4,95.2 L329.4,96.4 L330.5,96.4 L330.5,96.0 L331.7,96.0 L331.7,94.6 L332.9,94.6 L332.9,95.2 L334.1,95.2 L334.1,94.8 L335.3,94.8 L335.3,96.4 L336.5,96.4 L336.5,95.1 L338.0,95.1 L338.0,94.0 L339.5,94.0 L339.5,95.7 L340.7,95.7 L340.7,96.5 L341.8,96.5 L341.8,94.1 L342.9,94.1 L342.9,95.3 L344.0,95.3 L344.0,96.4 L345.1,96.4 L345.1,95.1 L346.2,95.1 L346.2,95.1 L347.3,95.1 L347.3,95.3 L348.5,95.3 L348.5,95.8 L349.6,95.8 L349.6,95.8 L350.7,95.8 L350.7,96.5 L351.8,96.5 L351.8,96.3" stroke="#000" stroke-width="1.9" fill="none" stroke-linejoin="miter"/></g>
<g><path d="M201.9,172.5h4.0M202.9,170.3h3.0M202.9,168.1h3.0M202.9,165.9h3.0M202.9,163.7h3.0M201.9,161.5h4.0M202.9,159.3h3.0M202.9,157.1h3.0M202.9,154.9h3.0M202.9,152.7h3.0M201.9,150.5h4.0M202.9,148.3h3.0M202.9,146.1h3.0M202.9,143.9h3.0M202.9,141.7h3.0M201.9,139.5h4.0M202.9,137.3h3.0M202.9,135.1h3.0M202.9,132.9h3.0M202.9,130.7h3.0M201.9,128.5h4.0M202.9,126.3h3.0M202.9,124.1h3.0M202.9,121.9h3.0M202.9,119.7h3.0M201.9,117.5h4.0M202.9,115.3h3.0M202.9,113.1h3.0M202.9,110.9h3.0" stroke="#222" stroke-width="0.8" fill="none"/><path d="M205.9,172.5v2.5M217.4,172.5v1.5M224.1,172.5v1.5M228.8,172.5v1.5M232.5,172.5v1.5M235.5,172.5v1.5M238.1,172.5v1.5M240.3,172.5v1.5M242.2,172.5v1.5M244.0,172.5v2.5M255.4,172.5v1.5M262.1,172.5v1.5M266.9,172.5v1.5M270.6,172.5v1.5M273.6,172.5v1.5M276.2,172.5v1.5M278.4,172.5v1.5M280.3,172.5v1.5M282.1,172.5v2.5M293.5,172.5v1.5M300.2,172.5v1.5M305.0,172.5v1.5M308.7,172.5v1.5M311.7,172.5v1.5M314.2,172.5v1.5M316.4,172.5v1.5M318.4,172.5v1.5M320.1,172.5v2.5M331.6,172.5v1.5M338.3,172.5v1.5M343.0,172.5v1.5M346.7,172.5v1.5M349.8,172.5v1.5M352.3,172.5v1.5M354.5,172.5v1.5M356.5,172.5v1.5M358.2,172.5v2.5" stroke="#333" stroke-width="0.7" fill="none"/><path d="M205.9,108.9V172.5H358.2" stroke="#000" stroke-width="1.2" fill="none"/><path d="M206.6,168.2 L209.1,170.4 L210.7,169.5 L212.3,168.2 L213.9,165.2 L215.5,161.9 L217.0,156.1 L218.6,150.8 L220.2,144.1 L221.8,138.1 L224.0,130.1 L225.3,128.6 L227.2,134.9 L229.1,147.6 L231.3,160.3 L232.9,163.4 L234.5,166.6 L236.1,167.8 L237.7,168.7 L239.3,169.8 L240.8,170.0 L242.4,170.5 L244.0,171.2 L245.6,171.4" stroke="#000" stroke-width="0.9" fill="none" stroke-linejoin="round"/><path d="M206.6,171.4 L207.8,170.6 L209.0,170.8 L210.2,170.5 L211.4,170.5 L212.6,171.1 L213.9,170.4 L215.1,168.7 L216.2,169.1 L217.4,168.4 L218.6,168.2 L220.0,165.4 L221.4,163.9 L222.8,161.9 L224.3,156.3 L225.9,150.8 L227.0,148.8 L228.1,141.3 L229.7,134.9 L231.0,134.0 L232.9,138.1 L234.8,149.2 L236.7,158.7 L238.0,162.1 L239.3,165.0 L240.8,166.6 L242.4,168.2 L244.0,169.3 L245.6,169.2 L246.8,168.7 L248.0,169.4 L249.2,170.5 L250.4,170.4 L251.5,170.2 L252.6,170.0 L253.7,170.4 L254.8,170.1 L255.9,171.8 L257.0,172.0 L258.1,172.5 L259.2,171.3 L260.4,171.4 L261.5,171.7 L262.6,171.6 L263.7,172.1 L264.8,171.7 L265.9,172.2 L267.0,171.6 L268.1,170.9 L269.2,172.5 L270.4,171.5 L271.5,172.5 L272.6,171.6 L273.7,171.9 L274.8,170.8 L275.9,171.2 L277.0,172.1 L278.1,172.2 L279.3,171.7 L280.4,171.9 L281.5,170.7 L282.6,171.9 L283.7,171.5 L284.8,171.2 L285.9,172.1 L287.0,171.6 L288.1,171.4 L289.3,171.7 L290.4,171.7 L291.5,171.7 L292.6,172.0 L293.7,171.7 L294.8,172.5 L295.9,172.5 L297.0,172.5 L298.2,171.8 L299.3,171.6 L300.4,172.2 L301.5,171.8 L302.6,172.5 L303.7,172.1 L304.8,172.3 L305.9,171.7 L307.1,172.1 L308.2,171.4 L309.3,171.2 L310.4,172.1 L311.5,171.4 L312.6,171.7 L313.7,172.5 L314.8,172.5 L315.9,172.1 L317.1,171.8 L318.2,172.5 L319.3,172.5 L320.4,172.4 L321.5,171.6 L322.6,171.8 L323.7,172.5 L324.8,171.5 L326.0,172.2 L327.1,172.5 L328.2,172.5 L329.3,171.8 L330.4,172.0 L331.5,172.0 L332.6,171.5 L333.7,172.2 L334.8,171.7 L336.0,172.5 L337.1,171.6 L338.2,171.9 L339.3,171.9 L340.4,172.3 L341.5,170.9 L342.6,172.5 L343.7,172.1 L344.9,172.3 L346.0,172.5 L347.1,172.3 L348.2,172.5 L349.3,172.4 L350.4,172.5 L351.5,172.5 L352.6,172.5 L353.8,172.3 L354.9,171.8 L356.0,172.5 L357.1,171.7 L358.2,172.3" stroke="#000" stroke-width="2.3" fill="none" stroke-linejoin="miter"/></g>
<g><path d="M205.1,241.0h4.0M206.1,238.8h3.0M206.1,236.6h3.0M206.1,234.4h3.0M206.1,232.2h3.0M205.1,230.0h4.0M206.1,227.8h3.0M206.1,225.6h3.0M206.1,223.4h3.0M206.1,221.2h3.0M205.1,219.0h4.0M206.1,216.8h3.0M206.1,214.6h3.0M206.1,212.4h3.0M206.1,210.2h3.0M205.1,208.0h4.0M206.1,205.8h3.0M206.1,203.6h3.0M206.1,201.4h3.0M206.1,199.2h3.0M205.1,197.0h4.0M206.1,194.8h3.0M206.1,192.6h3.0M206.1,190.4h3.0M206.1,188.2h3.0M205.1,186.0h4.0M206.1,183.8h3.0M206.1,181.6h3.0" stroke="#222" stroke-width="0.8" fill="none"/><path d="M209.1,241.0v2.5M220.0,241.0v1.5M226.3,241.0v1.5M230.8,241.0v1.5M234.3,241.0v1.5M237.2,241.0v1.5M239.6,241.0v1.5M241.7,241.0v1.5M243.5,241.0v1.5M245.2,241.0v2.5M256.1,241.0v1.5M262.4,241.0v1.5M266.9,241.0v1.5M270.4,241.0v1.5M273.3,241.0v1.5M275.7,241.0v1.5M277.8,241.0v1.5M279.6,241.0v1.5M281.3,241.0v2.5M292.2,241.0v1.5M298.5,241.0v1.5M303.0,241.0v1.5M306.5,241.0v1.5M309.4,241.0v1.5M311.8,241.0v1.5M313.9,241.0v1.5M315.7,241.0v1.5M317.4,241.0v2.5M328.3,241.0v1.5M334.6,241.0v1.5M339.1,241.0v1.5M342.6,241.0v1.5M345.5,241.0v1.5M347.9,241.0v1.5M350.0,241.0v1.5M351.8,241.0v1.5M353.5,241.0v2.5" stroke="#333" stroke-width="0.7" fill="none"/><path d="M209.1,180.7V241.0H353.5" stroke="#000" stroke-width="1.2" fill="none"/><path d="M210.7,240.0 L212.3,239.4 L213.9,239.1 L215.5,238.5 L217.0,235.2 L218.6,232.1 L220.8,216.3 L222.8,200.4 L225.0,190.9 L227.2,188.3 L229.7,194.0 L231.3,205.1 L232.9,216.3 L234.5,225.8 L236.1,232.1 L237.7,234.8 L239.3,236.9 L240.8,237.6 L242.4,238.2 L244.0,239.1 L245.4,239.0 L246.7,239.3 L248.0,239.4 L249.4,239.4 L250.7,239.1 L252.1,239.7 L253.4,239.3 L254.7,239.7 L256.1,240.0 L257.4,239.8 L258.8,239.8 L260.1,239.8 L261.5,240.0" stroke="#000" stroke-width="0.9" fill="none" stroke-linejoin="round"/><path d="M210.1,211.5 L212.0,211.5 L212.9,236.9 L214.2,239.4 L215.5,238.5 L217.0,235.9 L218.6,233.7 L220.2,227.8 L221.8,225.8 L223.4,219.2 L225.0,213.1 L226.1,211.3 L227.2,206.7 L228.5,206.4 L229.7,205.1 L231.0,206.6 L232.3,206.1 L233.4,207.2 L234.5,209.9 L235.6,211.0 L236.7,214.7 L238.6,219.4 L239.7,220.7 L240.8,222.6 L242.4,225.3 L244.0,225.8 L245.6,226.9 L247.2,226.7 L248.8,228.0 L250.4,228.9 L251.9,229.7 L253.5,228.3 L255.1,228.8 L256.7,230.5 L257.9,230.2 L259.1,230.2 L260.3,231.4 L261.5,232.1 L262.7,234.3 L263.8,231.5 L265.0,232.2 L266.2,232.8 L267.4,231.5 L268.6,234.6 L269.8,232.8 L271.0,231.5 L272.2,233.0 L273.4,232.7 L274.6,231.2 L275.7,232.1 L276.9,232.2 L278.1,231.9 L279.3,232.9 L280.5,233.7 L281.8,236.1 L283.0,234.5 L284.3,233.3 L285.6,234.8 L286.8,234.0 L288.1,233.5 L289.4,232.8 L290.7,235.3 L291.9,233.2 L293.2,233.7 L294.8,231.6 L296.4,232.8 L298.0,234.1 L299.5,234.7 L300.7,235.2 L301.9,234.0 L303.1,235.2 L304.3,235.9 L305.5,236.8 L306.7,237.2 L307.9,236.7 L309.1,236.9 L310.3,238.3 L311.6,236.9 L312.9,237.5 L314.1,237.8 L315.4,238.5 L316.7,238.6 L317.9,238.5 L319.2,238.5 L320.5,239.1 L321.8,239.4 L322.9,239.8 L324.1,238.6 L325.3,239.6 L326.5,239.3 L327.7,239.1 L328.9,239.5 L330.1,239.3 L331.3,240.0 L332.5,241.0 L333.6,239.3 L334.8,239.7 L336.0,239.6 L337.2,239.0 L338.4,240.8 L339.6,240.0 L340.8,240.0 L342.1,240.0 L343.3,240.5 L344.6,239.4 L345.9,238.9 L347.1,239.4 L348.4,239.7 L349.7,239.3 L350.9,239.8 L352.2,238.9 L353.5,240.0" stroke="#000" stroke-width="2.3" fill="none" stroke-linejoin="miter"/><rect x="209.1" y="210.8" width="3.2" height="30.2" fill="#000"/></g>
<g><path d="M202.6,306.6h4.0M203.6,304.4h3.0M203.6,302.2h3.0M203.6,300.0h3.0M203.6,297.8h3.0M202.6,295.6h4.0M203.6,293.4h3.0M203.6,291.2h3.0M203.6,289.0h3.0M203.6,286.8h3.0M202.6,284.6h4.0M203.6,282.4h3.0M203.6,280.2h3.0M203.6,278.0h3.0M203.6,275.8h3.0M202.6,273.6h4.0M203.6,271.4h3.0M203.6,269.2h3.0M203.6,267.0h3.0M203.6,264.8h3.0M202.6,262.6h4.0M203.6,260.4h3.0M203.6,258.2h3.0M203.6,256.0h3.0M203.6,253.8h3.0M202.6,251.6h4.0M203.6,249.4h3.0" stroke="#222" stroke-width="0.8" fill="none"/><path d="M206.6,306.6v2.5M217.0,306.6v1.5M223.0,306.6v1.5M227.3,306.6v1.5M230.6,306.6v1.5M233.4,306.6v1.5M235.7,306.6v1.5M237.7,306.6v1.5M239.4,306.6v1.5M241.0,306.6v2.5M251.4,306.6v1.5M257.4,306.6v1.5M261.7,306.6v1.5M265.0,306.6v1.5M267.8,306.6v1.5M270.1,306.6v1.5M272.1,306.6v1.5M273.8,306.6v1.5M275.4,306.6v2.5M285.8,306.6v1.5M291.8,306.6v1.5M296.1,306.6v1.5M299.4,306.6v1.5M302.2,306.6v1.5M304.5,306.6v1.5M306.5,306.6v1.5M308.2,306.6v1.5M309.8,306.6v2.5M320.2,306.6v1.5M326.2,306.6v1.5M330.5,306.6v1.5M333.8,306.6v1.5M336.6,306.6v1.5M338.9,306.6v1.5M340.9,306.6v1.5M342.6,306.6v1.5M344.2,306.6v2.5" stroke="#333" stroke-width="0.7" fill="none"/><path d="M206.6,248.2V306.6H344.2" stroke="#000" stroke-width="1.2" fill="none"/><path d="M207.2,306.0 L208.8,305.5 L210.3,305.1 L212.8,300.5 L214.3,296.8 L215.8,292.8 L217.4,288.0 L218.9,283.5 L221.1,277.4 L222.6,274.9 L224.2,278.9 L225.7,285.1 L227.2,291.2 L229.4,297.4 L231.8,298.9 L234.3,296.8 L236.5,295.8 L238.6,298.9 L241.1,302.0 L242.6,303.0 L244.2,304.2 L245.7,304.2 L247.2,304.5 L248.8,304.7 L250.3,305.1 L251.6,305.1 L252.9,305.2 L254.3,305.2 L255.6,305.1 L256.9,305.0 L258.2,305.0 L259.5,305.1 L260.9,305.3 L262.2,305.2 L263.5,305.4 L264.8,305.8 L266.1,305.5 L267.5,305.8 L268.8,306.0" stroke="#000" stroke-width="0.9" fill="none" stroke-linejoin="round"/><path d="M207.2,306.6 L208.3,306.4 L209.5,306.2 L210.6,306.6 L211.7,306.6 L212.8,305.6 L213.9,306.6 L215.1,306.6 L216.2,304.7 L217.3,304.9 L218.4,306.6 L219.5,306.0 L220.8,304.5 L222.0,305.1 L223.2,305.0 L224.5,306.1 L225.7,305.1 L226.8,304.0 L228.0,304.6 L229.2,303.3 L230.3,303.5 L231.6,303.0 L233.0,301.8 L234.3,300.5 L235.5,298.8 L236.8,295.9 L238.0,294.3 L239.5,292.5 L241.1,288.2 L242.6,285.0 L244.2,283.5 L245.4,281.1 L246.6,281.4 L248.8,280.5 L250.9,282.6 L252.2,284.3 L253.4,286.6 L254.9,287.3 L256.5,291.2 L258.0,293.8 L259.5,294.9 L261.1,296.7 L262.6,297.4 L264.2,298.1 L265.7,299.2 L266.9,299.7 L268.2,301.6 L269.4,301.4 L270.7,301.0 L272.1,302.2 L273.4,302.9 L274.5,303.2 L275.7,303.4 L276.8,303.5 L278.0,303.5 L279.2,303.7 L280.5,304.4 L281.7,304.4 L282.9,304.8 L284.2,304.2 L285.3,304.2 L286.5,302.4 L287.6,302.0 L288.8,302.9 L290.3,302.2 L291.8,304.2 L293.4,303.3 L294.9,302.9 L296.5,303.8 L298.0,304.8 L299.2,305.3 L300.3,305.3 L301.5,304.4 L302.6,305.4 L303.7,306.1 L304.9,305.8 L306.0,305.3 L307.1,304.4 L308.2,305.6 L309.3,305.0 L310.4,305.7 L311.6,306.1 L312.7,306.6 L313.8,306.1 L314.9,305.7 L316.0,305.4 L317.2,305.6 L318.3,306.6 L319.4,304.8 L320.5,306.4 L321.6,306.5 L322.8,306.2 L323.9,306.2 L325.0,305.0 L326.1,306.6 L327.2,306.0 L328.4,306.5 L329.5,306.0 L330.6,305.7 L331.7,305.8 L332.9,305.4 L334.0,306.6 L335.1,306.6 L336.3,306.6 L337.4,304.7 L338.5,305.2 L339.6,306.6 L340.8,305.9 L341.9,306.0 L343.0,306.6 L344.2,306.6" stroke="#000" stroke-width="2.3" fill="none" stroke-linejoin="miter"/></g>
<g><path d="M201.7,381.4h4.0M202.7,379.2h3.0M202.7,377.0h3.0M202.7,374.8h3.0M202.7,372.6h3.0M201.7,370.4h4.0M202.7,368.2h3.0M202.7,366.0h3.0M202.7,363.8h3.0M202.7,361.6h3.0M201.7,359.4h4.0M202.7,357.2h3.0M202.7,355.0h3.0M202.7,352.8h3.0M202.7,350.6h3.0M201.7,348.4h4.0M202.7,346.2h3.0M202.7,344.0h3.0M202.7,341.8h3.0M202.7,339.6h3.0M201.7,337.4h4.0M202.7,335.2h3.0M202.7,333.0h3.0M202.7,330.8h3.0M202.7,328.6h3.0M201.7,326.4h4.0M202.7,324.2h3.0M202.7,322.0h3.0M202.7,319.8h3.0M202.7,317.6h3.0" stroke="#222" stroke-width="0.8" fill="none"/><path d="M205.7,381.4v2.5M216.2,381.4v1.5M222.3,381.4v1.5M226.7,381.4v1.5M230.0,381.4v1.5M232.8,381.4v1.5M235.1,381.4v1.5M237.2,381.4v1.5M238.9,381.4v1.5M240.5,381.4v2.5M251.0,381.4v1.5M257.1,381.4v1.5M261.5,381.4v1.5M264.9,381.4v1.5M267.6,381.4v1.5M270.0,381.4v1.5M272.0,381.4v1.5M273.8,381.4v1.5M275.4,381.4v2.5M285.8,381.4v1.5M292.0,381.4v1.5M296.3,381.4v1.5M299.7,381.4v1.5M302.4,381.4v1.5M304.8,381.4v1.5M306.8,381.4v1.5M308.6,381.4v1.5M310.2,381.4v2.5M320.7,381.4v1.5M326.8,381.4v1.5M331.1,381.4v1.5M334.5,381.4v1.5M337.3,381.4v1.5M339.6,381.4v1.5M341.6,381.4v1.5M343.4,381.4v1.5M345.0,381.4v2.5" stroke="#333" stroke-width="0.7" fill="none"/><path d="M205.7,316.8V381.4H345.0" stroke="#000" stroke-width="1.2" fill="none"/><path d="M206.3,368.5 L207.2,379.2 L208.8,377.9 L210.3,376.2 L212.8,368.5 L214.9,356.2 L216.5,346.9 L218.0,339.2 L220.2,336.2 L222.0,335.2 L223.2,340.8 L224.5,350.0 L226.3,362.3 L228.2,370.0 L230.3,374.6 L231.8,376.1 L233.4,377.7 L234.9,378.3 L236.5,378.6 L238.0,379.2 L239.3,379.4 L240.7,379.1 L242.0,379.6 L243.4,379.4 L244.7,379.3 L246.1,379.7 L247.4,379.7 L248.8,379.8 L250.1,379.6 L251.5,379.7 L252.8,379.7 L254.2,379.9 L255.5,380.1 L256.8,380.0 L258.2,380.2 L259.5,380.2 L260.9,380.2 L262.2,380.1 L263.6,380.1 L264.9,380.6 L266.2,380.3 L267.6,380.4 L268.9,380.2 L270.2,380.3 L271.6,380.6 L272.9,380.3 L274.3,380.4 L275.6,380.5 L276.9,380.6 L278.3,380.4 L279.6,380.6 L280.9,380.8 L282.3,380.5 L283.6,380.7 L285.0,380.6 L286.3,380.9 L287.6,381.0 L289.0,380.7 L290.3,380.8" stroke="#000" stroke-width="0.9" fill="none" stroke-linejoin="round"/><path d="M206.3,380.8 L207.6,380.8 L207.6,381.1 L209.0,381.1 L209.0,378.8 L210.3,378.8 L210.3,380.2 L211.8,380.2 L211.8,381.4 L213.4,381.4 L213.4,378.3 L214.9,378.3 L214.9,378.6 L216.5,378.6 L216.5,380.2 L218.0,380.2 L218.0,379.6 L219.5,379.6 L219.5,378.3 L221.1,378.3 L221.1,378.0 L222.6,378.0 L222.6,380.2 L224.2,380.2 L224.2,377.8 L225.7,377.8 L225.7,378.3 L227.2,378.3 L227.2,380.0 L228.8,380.0 L228.8,380.2 L230.3,380.2 L230.3,379.5 L231.8,379.5 L231.8,377.1 L233.4,377.1 L233.4,377.9 L234.9,377.9 L234.9,379.2 L236.5,379.2 L236.5,381.4 L238.0,381.4 L238.0,378.3 L239.5,378.3 L239.5,378.7 L241.1,378.7 L241.1,379.2 L242.6,379.2 L242.6,378.7 L244.2,378.7 L244.2,376.2 L245.7,376.2 L245.7,373.1 L247.2,373.1 L247.2,376.2 L248.8,376.2 L248.8,377.5 L250.3,377.5 L250.3,377.7 L251.8,377.7 L251.8,378.6 L253.4,378.6 L253.4,376.2 L254.9,376.2 L254.9,375.7 L256.5,375.7 L256.5,378.3 L258.0,378.3 L258.0,378.9 L259.5,378.9 L259.5,377.1 L261.1,377.1 L261.1,375.1 L262.6,375.1 L262.6,373.1 L264.2,373.1 L264.2,373.3 L265.7,373.3 L265.7,374.6 L267.2,374.6 L267.2,372.4 L268.8,372.4 L268.8,371.5 L270.3,371.5 L270.3,367.8 L271.8,367.8 L271.8,373.1 L273.1,373.1 L273.1,373.0 L274.3,373.0 L274.3,370.0 L276.5,370.0 L276.5,374.6 L278.6,374.6 L278.6,371.5 L279.8,371.5 L279.8,373.4 L281.1,373.4 L281.1,374.0 L282.6,374.0 L282.6,372.3 L284.2,372.3 L284.2,373.1 L286.0,373.1 L286.0,365.4 L287.2,365.4 L287.2,374.6 L288.8,374.6 L288.8,373.9 L290.3,373.9 L290.3,373.1 L291.8,373.1 L291.8,373.7 L293.4,373.7 L293.4,371.5 L294.6,371.5 L294.6,369.2 L295.8,369.2 L295.8,370.0 L298.0,370.0 L298.0,371.5 L299.2,371.5 L299.2,372.9 L300.5,372.9 L300.5,374.6 L301.7,374.6 L301.7,376.5 L302.9,376.5 L302.9,374.4 L304.2,374.4 L304.2,376.2 L305.7,376.2 L305.7,375.3 L307.2,375.3 L307.2,373.1 L309.4,373.1 L309.4,376.2 L310.6,376.2 L310.6,375.2 L311.8,375.2 L311.8,377.7 L313.4,377.7 L313.4,377.8 L314.9,377.8 L314.9,379.2 L316.5,379.2 L316.5,380.1 L318.0,380.1 L318.0,380.2 L319.5,380.2 L319.5,381.2 L321.1,381.2 L321.1,381.4 L322.2,381.4 L322.2,381.4 L323.4,381.4 L323.4,378.3 L324.5,378.3 L324.5,380.1 L325.6,380.1 L325.6,381.4 L326.8,381.4 L326.8,381.4 L327.9,381.4 L327.9,381.4 L329.1,381.4 L329.1,381.4 L330.2,381.4 L330.2,381.3 L331.3,381.3 L331.3,380.3 L332.5,380.3 L332.5,381.3 L333.6,381.3 L333.6,379.4 L334.7,379.4 L334.7,381.4 L335.9,381.4 L335.9,381.4 L337.0,381.4 L337.0,378.2 L338.2,378.2 L338.2,381.4 L339.3,381.4 L339.3,381.4 L340.4,381.4 L340.4,381.4 L341.6,381.4 L341.6,381.3 L342.7,381.3 L342.7,381.4 L343.9,381.4 L343.9,381.4 L345.0,381.4 L345.0,381.4" stroke="#000" stroke-width="1.9" fill="none" stroke-linejoin="miter"/></g>
<g><path d="M201.7,455.5h4.0M202.7,453.3h3.0M202.7,451.1h3.0M202.7,448.9h3.0M202.7,446.7h3.0M201.7,444.5h4.0M202.7,442.3h3.0M202.7,440.1h3.0M202.7,437.9h3.0M202.7,435.7h3.0M201.7,433.5h4.0M202.7,431.3h3.0M202.7,429.1h3.0M202.7,426.9h3.0M202.7,424.7h3.0M201.7,422.5h4.0M202.7,420.3h3.0M202.7,418.1h3.0M202.7,415.9h3.0M202.7,413.7h3.0M201.7,411.5h4.0M202.7,409.3h3.0M202.7,407.1h3.0M202.7,404.9h3.0M202.7,402.7h3.0M201.7,400.5h4.0M202.7,398.3h3.0" stroke="#222" stroke-width="0.8" fill="none"/><path d="M205.7,455.5v2.5M216.3,455.5v1.5M222.6,455.5v1.5M227.0,455.5v1.5M230.4,455.5v1.5M233.2,455.5v1.5M235.6,455.5v1.5M237.6,455.5v1.5M239.4,455.5v1.5M241.0,455.5v2.5M251.7,455.5v1.5M257.9,455.5v1.5M262.3,455.5v1.5M265.7,455.5v1.5M268.5,455.5v1.5M270.9,455.5v1.5M272.9,455.5v1.5M274.7,455.5v1.5M276.4,455.5v2.5M287.0,455.5v1.5M293.2,455.5v1.5M297.6,455.5v1.5M301.0,455.5v1.5M303.8,455.5v1.5M306.2,455.5v1.5M308.3,455.5v1.5M310.1,455.5v1.5M311.7,455.5v2.5M322.3,455.5v1.5M328.5,455.5v1.5M332.9,455.5v1.5M336.4,455.5v1.5M339.2,455.5v1.5M341.5,455.5v1.5M343.6,455.5v1.5M345.4,455.5v1.5M347.0,455.5v2.5" stroke="#333" stroke-width="0.7" fill="none"/><path d="M205.7,396.6V455.5H347.0" stroke="#000" stroke-width="1.2" fill="none"/><path d="M206.3,441.8 L207.2,454.2 L208.8,452.7 L210.3,451.1 L211.8,447.2 L213.4,443.4 L215.8,431.1 L218.0,421.8 L220.2,417.2 L222.0,415.7 L224.2,421.8 L225.7,434.2 L227.2,443.4 L229.4,448.0 L231.8,449.5 L233.4,450.1 L234.9,450.5 L236.5,451.1 L238.0,451.3 L239.5,451.9 L241.1,452.6 L242.6,452.9 L244.2,453.2 L245.5,453.5 L246.8,453.5 L248.1,453.5 L249.4,453.7 L250.7,453.7 L252.1,453.9 L253.4,454.2 L254.9,454.6 L256.5,454.8 L258.0,454.7 L259.5,455.1" stroke="#000" stroke-width="0.9" fill="none" stroke-linejoin="round"/><path d="M207.2,455.5 L208.4,455.3 L209.5,455.5 L210.7,454.5 L211.8,454.8 L213.0,453.5 L214.2,455.2 L215.3,454.9 L216.5,455.1 L217.6,454.5 L218.8,453.4 L219.9,453.6 L221.1,453.2 L222.6,451.5 L224.2,449.5 L226.3,444.9 L227.5,442.2 L228.8,440.9 L230.0,439.8 L231.2,438.8 L233.4,436.6 L235.5,432.6 L237.1,430.5 L238.6,434.2 L240.5,438.8 L242.6,443.4 L244.8,447.1 L246.0,447.8 L247.2,449.5 L248.5,450.8 L249.7,450.2 L250.9,451.7 L252.3,451.9 L253.6,453.5 L254.9,453.2 L256.1,452.8 L257.2,453.4 L258.4,454.0 L259.5,454.2 L260.7,453.4 L261.8,453.5 L263.0,454.6 L264.2,453.0 L265.3,454.8 L266.5,455.2 L267.6,455.2 L268.8,454.8 L269.9,455.4 L271.1,455.1 L272.2,455.4 L273.4,455.2 L274.5,455.0 L275.7,454.2 L276.8,454.6 L278.0,455.4 L279.1,455.5 L280.2,455.2 L281.4,455.5 L282.5,455.5 L283.6,454.4 L284.7,455.5 L285.8,454.9 L287.0,455.4 L288.1,455.5 L289.2,455.5 L290.3,455.5 L291.4,455.4 L292.5,454.8 L293.6,455.5 L294.8,455.5 L295.9,455.0 L297.0,455.5 L298.1,455.5 L299.2,455.1 L300.3,455.1 L301.4,455.3 L302.5,455.5 L303.6,455.5 L304.8,454.7 L305.9,455.3 L307.0,455.5 L308.1,454.9 L309.2,455.5 L310.3,455.5 L311.4,455.5 L312.5,455.5 L313.7,455.5 L314.8,454.9 L315.9,455.0 L317.0,455.2 L318.1,455.5 L319.2,455.3 L320.3,454.6 L321.4,455.4 L322.5,455.2 L323.7,455.2 L324.8,455.4 L325.9,454.9 L327.0,455.0 L328.1,455.5 L329.2,455.5 L330.3,455.5 L331.4,454.7 L332.5,455.5 L333.7,455.2 L334.8,455.3 L335.9,455.5 L337.0,455.2 L338.1,455.5 L339.2,455.5 L340.3,454.9 L341.4,455.5 L342.6,455.5 L343.7,455.5 L344.8,455.4 L345.9,455.5 L347.0,455.5" stroke="#000" stroke-width="2.3" fill="none" stroke-linejoin="miter"/></g>
<g><path d="M360.2,95.8h4.0M361.2,93.6h3.0M361.2,91.4h3.0M361.2,89.2h3.0M361.2,87.0h3.0M360.2,84.8h4.0M361.2,82.6h3.0M361.2,80.4h3.0M361.2,78.2h3.0M361.2,76.0h3.0M360.2,73.8h4.0M361.2,71.6h3.0M361.2,69.4h3.0M361.2,67.2h3.0M361.2,65.0h3.0M360.2,62.8h4.0M361.2,60.6h3.0M361.2,58.4h3.0M361.2,56.2h3.0M361.2,54.0h3.0M360.2,51.8h4.0M361.2,49.6h3.0M361.2,47.4h3.0M361.2,45.2h3.0M361.2,43.0h3.0M360.2,40.8h4.0M361.2,38.6h3.0M361.2,36.4h3.0M361.2,34.2h3.0M361.2,32.0h3.0" stroke="#222" stroke-width="0.8" fill="none"/><path d="M364.2,95.8v2.5M375.0,95.8v1.5M381.3,95.8v1.5M385.7,95.8v1.5M389.2,95.8v1.5M392.0,95.8v1.5M394.4,95.8v1.5M396.5,95.8v1.5M398.3,95.8v1.5M400.0,95.8v2.5M410.7,95.8v1.5M417.0,95.8v1.5M421.5,95.8v1.5M425.0,95.8v1.5M427.8,95.8v1.5M430.2,95.8v1.5M432.3,95.8v1.5M434.1,95.8v1.5M435.8,95.8v2.5M446.5,95.8v1.5M452.8,95.8v1.5M457.3,95.8v1.5M460.8,95.8v1.5M463.6,95.8v1.5M466.0,95.8v1.5M468.1,95.8v1.5M469.9,95.8v1.5M471.5,95.8v2.5M482.3,95.8v1.5M488.6,95.8v1.5M493.1,95.8v1.5M496.5,95.8v1.5M499.4,95.8v1.5M501.8,95.8v1.5M503.8,95.8v1.5M505.7,95.8v1.5M507.3,95.8v2.5" stroke="#333" stroke-width="0.7" fill="none"/><path d="M364.2,31.2V95.8H507.3" stroke="#000" stroke-width="1.2" fill="none"/><path d="M365.8,92.7 L367.3,92.0 L368.8,91.2 L370.4,89.5 L371.9,88.1 L373.5,85.7 L375.0,83.5 L377.2,77.3 L379.6,68.1 L382.1,58.8 L384.2,49.6 L386.4,43.5 L388.2,40.4 L389.8,45.0 L391.3,52.7 L392.8,61.9 L394.4,71.2 L395.9,80.4 L398.1,86.5 L399.6,88.0 L401.2,89.6 L402.7,90.6 L404.2,91.4 L405.8,92.1 L407.3,92.3 L408.8,92.7 L410.4,93.3 L411.9,93.6 L413.5,94.0 L415.0,93.9 L416.5,94.2" stroke="#000" stroke-width="0.9" fill="none" stroke-linejoin="round"/><path d="M364.2,68.1 L365.2,68.1 L365.2,68.1 L365.2,68.1 L365.2,94.2 L366.4,94.2 L366.4,95.4 L367.6,95.4 L367.6,94.0 L368.8,94.0 L368.8,92.1 L370.4,92.1 L370.4,90.7 L371.9,90.7 L371.9,91.2 L373.5,91.2 L373.5,90.5 L375.0,90.5 L375.0,90.2 L376.5,90.2 L376.5,91.0 L378.1,91.0 L378.1,88.1 L379.6,88.1 L379.6,86.0 L381.2,86.0 L381.2,85.0 L382.7,85.0 L382.7,84.5 L384.2,84.5 L384.2,80.4 L386.4,80.4 L386.4,75.8 L388.2,75.8 L388.2,72.7 L389.8,72.7 L389.8,74.8 L391.3,74.8 L391.3,78.8 L393.5,78.8 L393.5,82.8 L394.7,82.8 L394.7,84.4 L395.9,84.4 L395.9,85.0 L398.1,85.0 L398.1,86.5 L399.3,86.5 L399.3,86.5 L400.5,86.5 L400.5,85.0 L402.7,85.0 L402.7,86.5 L404.8,86.5 L404.8,85.0 L406.1,85.0 L406.1,86.3 L407.3,86.3 L407.3,86.5 L408.8,86.5 L408.8,85.0 L410.4,85.0 L410.4,85.9 L411.9,85.9 L411.9,85.2 L413.5,85.2 L413.5,84.1 L415.0,84.1 L415.0,83.8 L416.5,83.8 L416.5,83.5 L418.1,83.5 L418.1,83.5 L419.6,83.5 L419.6,82.8 L421.2,82.8 L421.2,82.8 L422.7,82.8 L422.7,81.9 L423.9,81.9 L423.9,82.1 L425.2,82.1 L425.2,83.2 L426.4,83.2 L426.4,82.8 L427.6,82.8 L427.6,82.9 L428.8,82.9 L428.8,81.9 L430.4,81.9 L430.4,82.8 L431.9,82.8 L431.9,83.5 L433.5,83.5 L433.5,83.7 L435.0,83.7 L435.0,81.9 L436.5,81.9 L436.5,83.7 L438.1,83.7 L438.1,85.0 L439.6,85.0 L439.6,86.0 L441.2,86.0 L441.2,86.5 L442.7,86.5 L442.7,88.8 L444.2,88.8 L444.2,88.1 L445.8,88.1 L445.8,88.3 L447.3,88.3 L447.3,89.0 L448.8,89.0 L448.8,88.9 L450.4,88.9 L450.4,89.6 L451.9,89.6 L451.9,90.1 L453.5,90.1 L453.5,90.5 L454.6,90.5 L454.6,90.7 L455.8,90.7 L455.8,92.4 L456.9,92.4 L456.9,92.0 L458.1,92.0 L458.1,92.1 L459.2,92.1 L459.2,91.7 L460.4,91.7 L460.4,94.1 L461.5,94.1 L461.5,93.6 L462.7,93.6 L462.7,93.9 L463.9,93.9 L463.9,94.0 L465.2,94.0 L465.2,94.9 L466.4,94.9 L466.4,95.3 L467.6,95.3 L467.6,94.3 L468.8,94.3 L468.8,94.8 L470.0,94.8 L470.0,94.1 L471.2,94.1 L471.2,95.0 L472.3,95.0 L472.3,94.9 L473.5,94.9 L473.5,95.1 L474.6,95.1 L474.6,95.8 L475.8,95.8 L475.8,93.5 L476.9,93.5 L476.9,95.3 L478.1,95.3 L478.1,95.2 L479.2,95.2 L479.2,95.8 L480.3,95.8 L480.3,95.0 L481.4,95.0 L481.4,94.3 L482.6,94.3 L482.6,95.5 L483.7,95.5 L483.7,95.8 L484.8,95.8 L484.8,94.5 L485.9,94.5 L485.9,95.0 L487.1,95.0 L487.1,95.8 L488.2,95.8 L488.2,94.0 L489.3,94.0 L489.3,95.8 L490.4,95.8 L490.4,95.1 L491.6,95.1 L491.6,95.7 L492.7,95.7 L492.7,95.0 L493.8,95.0 L493.8,95.6 L494.9,95.6 L494.9,94.7 L496.1,94.7 L496.1,95.8 L497.2,95.8 L497.2,94.1 L498.3,94.1 L498.3,95.3 L499.4,95.3 L499.4,95.5 L500.6,95.5 L500.6,94.8 L501.7,94.8 L501.7,95.3 L502.8,95.3 L502.8,94.8 L503.9,94.8 L503.9,95.1 L505.1,95.1 L505.1,95.8 L506.2,95.8 L506.2,95.8 L507.3,95.8 L507.3,95.8" stroke="#000" stroke-width="1.9" fill="none" stroke-linejoin="miter"/></g>
<g><path d="M361.8,173.8h4.0M362.8,171.6h3.0M362.8,169.4h3.0M362.8,167.2h3.0M362.8,165.0h3.0M361.8,162.8h4.0M362.8,160.6h3.0M362.8,158.4h3.0M362.8,156.2h3.0M362.8,154.0h3.0M361.8,151.8h4.0M362.8,149.6h3.0M362.8,147.4h3.0M362.8,145.2h3.0M362.8,143.0h3.0M361.8,140.8h4.0M362.8,138.6h3.0M362.8,136.4h3.0M362.8,134.2h3.0M362.8,132.0h3.0M361.8,129.8h4.0M362.8,127.6h3.0M362.8,125.4h3.0M362.8,123.2h3.0M362.8,121.0h3.0M361.8,118.8h4.0M362.8,116.6h3.0M362.8,114.4h3.0M362.8,112.2h3.0M362.8,110.0h3.0M361.8,107.8h4.0" stroke="#222" stroke-width="0.8" fill="none"/><path d="M365.8,173.8v2.5M376.1,173.8v1.5M382.0,173.8v1.5M386.3,173.8v1.5M389.6,173.8v1.5M392.3,173.8v1.5M394.6,173.8v1.5M396.6,173.8v1.5M398.3,173.8v1.5M399.9,173.8v2.5M410.1,173.8v1.5M416.1,173.8v1.5M420.4,173.8v1.5M423.6,173.8v1.5M426.3,173.8v1.5M428.6,173.8v1.5M430.6,173.8v1.5M432.3,173.8v1.5M433.9,173.8v2.5M444.2,173.8v1.5M450.1,173.8v1.5M454.4,173.8v1.5M457.7,173.8v1.5M460.4,173.8v1.5M462.7,173.8v1.5M464.7,173.8v1.5M466.4,173.8v1.5M467.9,173.8v2.5M478.2,173.8v1.5M484.2,173.8v1.5M488.5,173.8v1.5M491.7,173.8v1.5M494.4,173.8v1.5M496.7,173.8v1.5M498.7,173.8v1.5M500.4,173.8v1.5M502.0,173.8v2.5" stroke="#333" stroke-width="0.7" fill="none"/><path d="M365.8,106.8V173.8H502.0" stroke="#000" stroke-width="1.2" fill="none"/><path d="M368.8,173.2 L370.4,172.0 L371.9,170.8 L374.1,166.2 L376.5,160.0 L379.0,155.4 L381.2,152.3 L383.3,146.2 L385.2,141.5 L387.3,140.6 L389.5,141.5 L391.3,144.6 L393.5,150.8 L395.6,158.5 L398.1,164.6 L399.6,166.6 L401.2,168.3 L402.7,169.0 L404.2,170.1 L405.8,170.8 L407.3,171.2 L408.8,171.7 L410.4,172.3 L411.9,172.7 L413.5,172.9 L415.0,172.8 L416.5,173.2 L417.9,173.3 L419.3,173.5 L420.7,173.3 L422.1,173.4 L423.5,173.6 L424.9,173.5 L426.3,173.4 L427.7,173.6 L429.1,173.8 L430.5,173.7 L431.9,173.8" stroke="#000" stroke-width="0.9" fill="none" stroke-linejoin="round"/><path d="M366.4,150.8 L367.6,150.8 L367.9,173.8 L369.3,173.0 L370.6,172.9 L371.9,172.6 L373.5,170.3 L375.0,170.8 L376.5,170.2 L378.1,167.1 L379.6,164.2 L381.2,160.0 L383.3,150.8 L385.2,144.6 L386.7,141.5 L388.8,144.6 L391.0,150.8 L392.8,158.5 L395.0,163.1 L396.5,164.1 L398.1,166.2 L399.6,167.2 L401.2,168.3 L402.3,168.1 L403.5,169.9 L404.6,168.6 L405.8,170.2 L406.9,171.0 L408.1,170.2 L409.2,171.1 L410.4,171.4 L411.6,172.3 L412.8,170.4 L414.1,172.2 L415.3,173.5 L416.5,172.6 L417.7,173.1 L418.8,172.6 L420.0,173.4 L421.2,172.2 L422.3,172.6 L423.5,172.4 L424.6,172.4 L425.8,173.2 L426.9,173.0 L428.0,173.8 L429.2,173.3 L430.3,173.4 L431.4,173.6 L432.6,173.2 L433.7,173.5 L434.8,173.8 L436.0,173.8 L437.1,173.6 L438.2,173.8 L439.4,173.0 L440.5,173.1 L441.6,173.6 L442.8,173.3 L443.9,173.8 L445.0,173.8 L446.2,173.8 L447.3,173.8 L448.4,173.8 L449.5,173.8 L450.7,173.4 L451.8,173.8 L452.9,173.8 L454.0,173.6 L455.1,173.8 L456.2,173.8 L457.4,173.3 L458.5,173.2 L459.6,173.8 L460.7,173.4 L461.8,173.4 L462.9,173.8 L464.1,173.8 L465.2,173.8 L466.3,173.8 L467.4,173.8 L468.5,173.8 L469.6,172.9 L470.7,173.6 L471.9,173.4 L473.0,173.8 L474.1,173.4 L475.2,173.7 L476.3,173.8 L477.4,173.8 L478.6,173.3 L479.7,173.8 L480.8,172.9 L481.9,173.5 L483.0,173.8 L484.1,173.8 L485.3,173.4 L486.4,173.6 L487.5,173.8 L488.6,173.8 L489.7,173.7 L490.8,173.6 L492.0,173.8 L493.1,173.8 L494.2,173.8 L495.3,172.3 L496.4,173.8 L497.5,173.8 L498.7,173.2 L499.8,173.8 L500.9,173.8 L502.0,173.8" stroke="#000" stroke-width="2.3" fill="none" stroke-linejoin="miter"/></g>
<g><path d="M362.4,240.2h4.0M363.4,238.0h3.0M363.4,235.8h3.0M363.4,233.6h3.0M363.4,231.4h3.0M362.4,229.2h4.0M363.4,227.0h3.0M363.4,224.8h3.0M363.4,222.6h3.0M363.4,220.4h3.0M362.4,218.2h4.0M363.4,216.0h3.0M363.4,213.8h3.0M363.4,211.6h3.0M363.4,209.4h3.0M362.4,207.2h4.0M363.4,205.0h3.0M363.4,202.8h3.0M363.4,200.6h3.0M363.4,198.4h3.0M362.4,196.2h4.0M363.4,194.0h3.0M363.4,191.8h3.0M363.4,189.6h3.0M363.4,187.4h3.0M362.4,185.2h4.0M363.4,183.0h3.0" stroke="#222" stroke-width="0.8" fill="none"/><path d="M366.4,240.2v2.5M377.0,240.2v1.5M383.2,240.2v1.5M387.6,240.2v1.5M391.0,240.2v1.5M393.8,240.2v1.5M396.2,240.2v1.5M398.2,240.2v1.5M400.0,240.2v1.5M401.6,240.2v2.5M412.2,240.2v1.5M418.4,240.2v1.5M422.8,240.2v1.5M426.2,240.2v1.5M429.0,240.2v1.5M431.4,240.2v1.5M433.4,240.2v1.5M435.2,240.2v1.5M436.9,240.2v2.5M447.5,240.2v1.5M453.7,240.2v1.5M458.1,240.2v1.5M461.5,240.2v1.5M464.3,240.2v1.5M466.6,240.2v1.5M468.7,240.2v1.5M470.5,240.2v1.5M472.1,240.2v2.5M482.7,240.2v1.5M488.9,240.2v1.5M493.3,240.2v1.5M496.7,240.2v1.5M499.5,240.2v1.5M501.8,240.2v1.5M503.9,240.2v1.5M505.7,240.2v1.5M507.3,240.2v2.5" stroke="#333" stroke-width="0.7" fill="none"/><path d="M366.4,181.8V240.2H507.3" stroke="#000" stroke-width="1.2" fill="none"/><path d="M367.9,233.5 L370.4,232.8 L371.9,231.5 L373.5,230.4 L375.9,222.7 L377.8,210.4 L379.6,198.1 L381.5,189.8 L383.0,187.3 L384.5,188.8 L386.1,197.2 L387.6,211.3 L389.2,223.6 L391.3,229.8 L393.5,232.2 L395.0,233.8 L396.5,235.3 L398.1,236.2 L399.6,236.8 L401.2,237.8 L402.5,238.0 L403.8,237.9 L405.1,238.3 L406.4,238.4 L407.7,239.0 L409.1,239.0 L410.4,239.3 L411.8,239.5 L413.1,239.6 L414.5,239.4 L415.9,239.7 L417.2,239.6 L418.6,239.5 L420.0,239.6 L421.3,239.7 L422.7,239.9" stroke="#000" stroke-width="0.9" fill="none" stroke-linejoin="round"/><path d="M366.4,208.8 L367.3,208.8 L367.3,239.6 L367.9,239.6 L369.2,237.6 L370.4,236.5 L371.9,235.0 L373.5,232.8 L374.8,229.7 L376.2,225.8 L378.1,211.9 L379.9,199.6 L381.8,190.4 L383.3,187.3 L384.8,188.8 L386.1,198.1 L387.3,211.9 L388.8,224.2 L390.7,230.4 L392.1,231.0 L393.5,231.9 L395.6,235.0 L396.8,236.9 L398.1,236.5 L399.6,236.3 L401.2,238.1 L402.3,239.0 L403.5,238.5 L404.6,238.6 L405.8,239.0 L406.9,240.0 L408.1,239.8 L409.2,239.3 L410.4,239.6 L411.6,239.6 L412.8,239.0 L414.1,239.7 L415.3,239.4 L416.5,239.0 L417.7,238.8 L418.8,239.8 L420.0,239.7 L421.2,240.2 L422.3,239.4 L423.5,240.2 L424.6,240.1 L425.8,239.6 L426.9,239.7 L428.0,240.2 L429.2,239.3 L430.3,240.2 L431.4,240.1 L432.6,240.2 L433.7,240.2 L434.8,240.2 L436.0,240.2 L437.1,239.7 L438.2,240.2 L439.4,240.2 L440.5,240.2 L441.6,240.2 L442.8,240.0 L443.9,240.0 L445.0,239.8 L446.2,240.2 L447.3,240.2 L448.4,240.2 L449.5,240.0 L450.6,240.0 L451.8,239.2 L452.9,240.0 L454.0,240.2 L455.1,239.1 L456.2,239.4 L457.3,240.2 L458.4,239.4 L459.5,240.2 L460.6,240.2 L461.8,239.6 L462.9,240.2 L464.0,240.2 L465.1,240.2 L466.2,239.9 L467.3,240.2 L468.4,239.7 L469.5,240.2 L470.6,239.6 L471.7,240.2 L472.9,240.1 L474.0,240.2 L475.1,240.0 L476.2,240.2 L477.3,240.2 L478.4,240.0 L479.5,239.5 L480.6,240.2 L481.7,240.2 L482.9,240.2 L484.0,240.2 L485.1,240.2 L486.2,239.5 L487.3,239.8 L488.4,240.0 L489.5,239.9 L490.6,240.2 L491.7,240.2 L492.9,240.2 L494.0,240.2 L495.1,240.2 L496.2,240.2 L497.3,239.9 L498.4,239.5 L499.5,240.2 L500.6,240.2 L501.7,239.0 L502.9,240.1 L504.0,238.9 L505.1,239.4 L506.2,240.0 L507.3,240.2" stroke="#000" stroke-width="2.3" fill="none" stroke-linejoin="miter"/></g>
<g><path d="M361.8,308.5h4.0M362.8,306.3h3.0M362.8,304.1h3.0M362.8,301.9h3.0M362.8,299.7h3.0M361.8,297.5h4.0M362.8,295.3h3.0M362.8,293.1h3.0M362.8,290.9h3.0M362.8,288.7h3.0M361.8,286.5h4.0M362.8,284.3h3.0M362.8,282.1h3.0M362.8,279.9h3.0M362.8,277.7h3.0M361.8,275.5h4.0M362.8,273.3h3.0M362.8,271.1h3.0M362.8,268.9h3.0M362.8,266.7h3.0M361.8,264.5h4.0M362.8,262.3h3.0M362.8,260.1h3.0M362.8,257.9h3.0M362.8,255.7h3.0M361.8,253.5h4.0M362.8,251.3h3.0" stroke="#222" stroke-width="0.8" fill="none"/><path d="M365.8,308.5v2.5M376.6,308.5v1.5M382.9,308.5v1.5M387.3,308.5v1.5M390.8,308.5v1.5M393.6,308.5v1.5M396.0,308.5v1.5M398.1,308.5v1.5M399.9,308.5v1.5M401.6,308.5v2.5M412.3,308.5v1.5M418.6,308.5v1.5M423.1,308.5v1.5M426.5,308.5v1.5M429.4,308.5v1.5M431.8,308.5v1.5M433.8,308.5v1.5M435.7,308.5v1.5M437.3,308.5v2.5M448.1,308.5v1.5M454.4,308.5v1.5M458.8,308.5v1.5M462.3,308.5v1.5M465.1,308.5v1.5M467.5,308.5v1.5M469.6,308.5v1.5M471.4,308.5v1.5M473.1,308.5v2.5M483.8,308.5v1.5M490.1,308.5v1.5M494.6,308.5v1.5M498.0,308.5v1.5M500.9,308.5v1.5M503.3,308.5v1.5M505.3,308.5v1.5M507.2,308.5v1.5M508.8,308.5v2.5" stroke="#333" stroke-width="0.7" fill="none"/><path d="M365.8,249.8V308.5H508.8" stroke="#000" stroke-width="1.2" fill="none"/><path d="M367.9,306.1 L369.5,305.4 L371.0,304.5 L372.5,302.9 L374.1,301.5 L375.6,298.2 L377.2,295.3 L379.6,286.1 L382.1,273.8 L384.2,264.5 L386.4,259.0 L387.9,257.8 L389.5,261.5 L391.3,272.2 L392.8,286.1 L394.4,298.4 L396.5,303.9 L398.1,304.9 L399.6,306.1 L401.2,306.5 L402.7,306.6 L404.2,307.0 L405.6,307.1 L407.0,306.9 L408.3,307.1 L409.7,307.2 L411.1,307.1 L412.4,307.5 L413.8,307.5 L415.2,307.7 L416.5,307.6" stroke="#000" stroke-width="0.9" fill="none" stroke-linejoin="round"/><path d="M366.4,293.8 L367.3,293.8 L367.3,308.2 L368.5,307.5 L369.6,306.8 L370.8,306.9 L371.9,307.0 L373.5,306.6 L375.0,306.1 L376.3,304.3 L377.7,303.9 L379.0,303.0 L380.1,300.5 L381.3,297.9 L382.4,295.3 L384.5,283.0 L385.8,276.4 L387.0,270.7 L389.2,263.0 L391.0,260.5 L392.5,261.5 L394.1,267.6 L395.6,279.9 L397.2,293.8 L398.7,303.0 L400.5,306.1 L401.8,306.6 L403.0,305.2 L404.2,306.1 L405.5,305.3 L406.7,306.8 L407.9,306.3 L409.2,306.8 L410.4,306.1 L411.6,306.6 L412.8,306.9 L414.1,307.5 L415.3,306.7 L416.5,306.7 L417.8,306.2 L419.0,307.4 L420.2,306.3 L421.5,306.3 L422.7,306.1 L423.9,305.4 L425.2,307.2 L426.4,305.7 L427.6,306.4 L428.8,306.7 L430.0,305.9 L431.1,305.8 L432.2,305.2 L433.3,303.7 L434.4,304.5 L436.5,307.0 L437.7,307.6 L438.8,307.6 L440.0,306.5 L441.2,307.3 L442.4,307.2 L443.6,307.5 L444.8,307.3 L446.1,307.5 L447.3,307.9 L448.5,307.8 L449.7,308.4 L450.9,308.5 L452.0,307.5 L453.2,308.3 L454.4,308.5 L455.6,307.2 L456.8,308.5 L458.0,308.2 L459.1,308.2 L460.3,307.5 L461.5,308.1 L462.7,308.2 L463.8,307.9 L464.9,308.0 L466.1,308.1 L467.2,308.2 L468.3,308.4 L469.4,308.0 L470.6,308.5 L471.7,308.2 L472.8,308.5 L473.9,308.5 L475.1,307.9 L476.2,308.3 L477.3,308.1 L478.4,308.5 L479.6,307.5 L480.7,308.5 L481.8,307.3 L482.9,308.0 L484.1,308.5 L485.2,307.8 L486.3,307.9 L487.4,307.9 L488.6,308.2 L489.7,308.1 L490.8,308.5 L491.9,308.1 L493.1,308.5 L494.2,308.5 L495.3,308.1 L496.4,308.5 L497.6,308.0 L498.7,307.5 L499.8,308.0 L500.9,308.5 L502.1,308.3 L503.2,308.5 L504.3,308.0 L505.4,308.5 L506.6,308.0 L507.7,308.5 L508.8,308.5" stroke="#000" stroke-width="2.3" fill="none" stroke-linejoin="miter"/></g>
<g><path d="M361.8,380.2h4.0M362.8,378.0h3.0M362.8,375.8h3.0M362.8,373.6h3.0M362.8,371.4h3.0M361.8,369.2h4.0M362.8,367.0h3.0M362.8,364.8h3.0M362.8,362.6h3.0M362.8,360.4h3.0M361.8,358.2h4.0M362.8,356.0h3.0M362.8,353.8h3.0M362.8,351.6h3.0M362.8,349.4h3.0M361.8,347.2h4.0M362.8,345.0h3.0M362.8,342.8h3.0M362.8,340.6h3.0M362.8,338.4h3.0M361.8,336.2h4.0M362.8,334.0h3.0M362.8,331.8h3.0M362.8,329.6h3.0M362.8,327.4h3.0M361.8,325.2h4.0M362.8,323.0h3.0" stroke="#222" stroke-width="0.8" fill="none"/><path d="M365.8,380.2v2.5M376.4,380.2v1.5M382.7,380.2v1.5M387.1,380.2v1.5M390.5,380.2v1.5M393.3,380.2v1.5M395.7,380.2v1.5M397.7,380.2v1.5M399.6,380.2v1.5M401.2,380.2v2.5M411.8,380.2v1.5M418.1,380.2v1.5M422.5,380.2v1.5M425.9,380.2v1.5M428.7,380.2v1.5M431.1,380.2v1.5M433.1,380.2v1.5M434.9,380.2v1.5M436.6,380.2v2.5M447.2,380.2v1.5M453.4,380.2v1.5M457.8,380.2v1.5M461.3,380.2v1.5M464.1,380.2v1.5M466.4,380.2v1.5M468.5,380.2v1.5M470.3,380.2v1.5M471.9,380.2v2.5M482.6,380.2v1.5M488.8,380.2v1.5M493.2,380.2v1.5M496.7,380.2v1.5M499.5,380.2v1.5M501.8,380.2v1.5M503.9,380.2v1.5M505.7,380.2v1.5M507.3,380.2v2.5" stroke="#333" stroke-width="0.7" fill="none"/><path d="M365.8,321.2V380.2H507.3" stroke="#000" stroke-width="1.2" fill="none"/><path d="M366.4,375.0 L367.3,379.0 L368.8,378.4 L370.4,378.4 L371.9,378.1 L374.1,373.5 L376.5,364.2 L378.7,351.9 L380.5,342.7 L382.1,339.0 L383.6,342.7 L385.2,355.0 L386.7,367.3 L388.2,375.0 L390.4,378.1 L391.9,378.5 L393.5,378.7 L395.0,379.0 L396.3,379.2 L397.7,379.0 L399.0,379.1 L400.4,378.8 L401.7,379.2 L403.1,379.1 L404.4,379.3 L405.8,379.4 L407.1,379.2 L408.5,379.4 L409.8,379.3 L411.2,379.6 L412.5,379.5 L413.8,379.5 L415.2,379.7 L416.5,379.6" stroke="#000" stroke-width="0.9" fill="none" stroke-linejoin="round"/><path d="M367.3,379.6 L368.5,380.1 L369.6,380.0 L370.8,379.8 L371.9,379.0 L373.1,378.5 L374.2,379.6 L375.4,380.0 L376.5,380.0 L377.7,379.9 L378.8,380.2 L380.0,378.8 L381.2,379.7 L382.3,379.4 L383.5,380.2 L384.6,380.2 L385.8,379.6 L386.9,380.2 L388.1,379.2 L389.2,379.8 L390.4,380.0 L391.5,379.1 L392.7,378.3 L393.8,378.5 L395.0,379.0 L396.2,377.1 L397.5,378.7 L398.7,378.3 L399.9,378.9 L401.2,378.1 L402.4,377.4 L403.6,377.6 L404.8,377.6 L406.1,378.6 L407.3,377.5 L408.5,377.5 L409.6,373.9 L410.8,376.1 L411.9,375.0 L413.5,373.1 L415.0,372.8 L416.5,371.8 L418.1,371.0 L419.6,370.0 L421.2,369.8 L422.7,369.7 L424.2,368.8 L426.4,370.4 L427.6,373.0 L428.8,372.8 L430.4,374.4 L431.9,375.0 L433.5,375.6 L435.0,377.2 L436.2,379.1 L437.3,376.5 L438.5,379.3 L439.6,378.4 L440.9,377.4 L442.2,377.7 L443.5,378.6 L444.7,379.4 L446.0,379.5 L447.3,379.0 L448.5,379.0 L449.6,378.5 L450.8,378.7 L451.9,379.3 L453.1,379.5 L454.2,378.8 L455.4,380.2 L456.5,379.6 L457.6,379.9 L458.7,380.2 L459.8,379.4 L461.0,379.7 L462.1,380.2 L463.2,379.4 L464.3,379.1 L465.4,380.2 L466.5,379.8 L467.6,379.6 L468.7,379.7 L469.8,379.9 L470.9,379.6 L472.0,380.0 L473.1,379.2 L474.2,379.4 L475.3,380.2 L476.4,380.2 L477.5,379.1 L478.6,380.2 L479.7,380.2 L480.8,380.2 L481.9,379.7 L483.0,380.2 L484.1,379.2 L485.2,380.2 L486.3,379.8 L487.4,379.5 L488.5,380.2 L489.6,379.8 L490.7,379.9 L491.9,379.2 L493.0,379.9 L494.1,379.9 L495.2,380.2 L496.3,379.4 L497.4,379.3 L498.5,380.1 L499.6,380.1 L500.7,380.2 L501.8,379.9 L502.9,380.0 L504.0,380.2 L505.1,379.9 L506.2,380.2 L507.3,380.2" stroke="#000" stroke-width="2.3" fill="none" stroke-linejoin="miter"/></g>
<g><path d="M361.2,452.3h4.0M362.2,450.1h3.0M362.2,447.9h3.0M362.2,445.7h3.0M362.2,443.5h3.0M361.2,441.3h4.0M362.2,439.1h3.0M362.2,436.9h3.0M362.2,434.7h3.0M362.2,432.5h3.0M361.2,430.3h4.0M362.2,428.1h3.0M362.2,425.9h3.0M362.2,423.7h3.0M362.2,421.5h3.0M361.2,419.3h4.0M362.2,417.1h3.0M362.2,414.9h3.0M362.2,412.7h3.0M362.2,410.5h3.0M361.2,408.3h4.0M362.2,406.1h3.0M362.2,403.9h3.0M362.2,401.7h3.0M362.2,399.5h3.0M361.2,397.3h4.0M362.2,395.1h3.0M362.2,392.9h3.0" stroke="#222" stroke-width="0.8" fill="none"/><path d="M365.2,452.3v2.5M375.9,452.3v1.5M382.1,452.3v1.5M386.6,452.3v1.5M390.0,452.3v1.5M392.8,452.3v1.5M395.2,452.3v1.5M397.3,452.3v1.5M399.1,452.3v1.5M400.7,452.3v2.5M411.4,452.3v1.5M417.7,452.3v1.5M422.1,452.3v1.5M425.6,452.3v1.5M428.4,452.3v1.5M430.7,452.3v1.5M432.8,452.3v1.5M434.6,452.3v1.5M436.2,452.3v2.5M446.9,452.3v1.5M453.2,452.3v1.5M457.6,452.3v1.5M461.1,452.3v1.5M463.9,452.3v1.5M466.3,452.3v1.5M468.3,452.3v1.5M470.1,452.3v1.5M471.8,452.3v2.5M482.5,452.3v1.5M488.7,452.3v1.5M493.2,452.3v1.5M496.6,452.3v1.5M499.4,452.3v1.5M501.8,452.3v1.5M503.9,452.3v1.5M505.7,452.3v1.5M507.3,452.3v2.5" stroke="#333" stroke-width="0.7" fill="none"/><path d="M365.2,390.8V452.3H507.3" stroke="#000" stroke-width="1.2" fill="none"/><path d="M365.8,451.7 L367.3,451.5 L368.8,451.6 L370.4,451.3 L371.9,451.1 L374.1,445.5 L376.5,433.2 L378.7,420.9 L380.5,413.2 L382.1,410.2 L383.6,413.2 L385.2,424.0 L386.7,436.3 L388.2,445.5 L390.4,450.2 L391.9,450.9 L393.5,451.1 L395.0,451.7 L396.3,451.7 L397.7,452.0 L399.0,452.1 L400.4,451.8 L401.7,451.8 L403.1,452.0 L404.4,452.0 L405.8,451.9 L407.1,452.0 L408.5,452.0 L409.8,451.9 L411.2,452.0 L412.5,452.3 L413.8,452.3 L415.2,452.3 L416.5,452.3" stroke="#000" stroke-width="0.9" fill="none" stroke-linejoin="round"/><path d="M365.8,452.3 L366.9,451.8 L368.1,452.3 L369.2,452.3 L370.4,452.1 L371.5,452.3 L372.7,452.3 L373.8,451.5 L375.0,450.9 L376.2,452.3 L377.3,452.3 L378.5,451.9 L379.6,451.7 L380.8,450.9 L381.9,450.0 L383.1,450.2 L384.2,450.5 L385.8,450.4 L387.3,449.5 L388.8,450.4 L390.4,450.5 L391.9,452.2 L393.5,451.1 L395.0,450.9 L396.5,449.5 L398.1,448.3 L399.6,447.1 L401.8,442.5 L403.0,438.7 L404.2,436.3 L406.4,431.7 L407.6,432.6 L408.8,430.2 L411.0,431.7 L412.8,430.2 L414.1,433.2 L415.9,439.4 L418.1,445.5 L419.6,447.6 L421.2,449.2 L422.7,450.2 L424.2,451.1 L425.4,450.3 L426.5,452.3 L427.7,452.3 L428.8,452.0 L430.1,452.3 L431.3,452.3 L432.5,452.0 L433.8,452.1 L435.0,452.3 L436.1,452.3 L437.2,452.1 L438.3,452.3 L439.4,452.3 L440.6,451.8 L441.7,452.3 L442.8,452.3 L443.9,452.3 L445.0,451.2 L446.1,452.3 L447.2,451.8 L448.3,452.3 L449.5,452.3 L450.6,451.7 L451.7,452.1 L452.8,452.3 L453.9,452.3 L455.0,452.3 L456.1,452.3 L457.2,452.3 L458.4,452.3 L459.5,452.3 L460.6,452.3 L461.7,452.3 L462.8,452.0 L463.9,451.9 L465.0,452.3 L466.1,452.3 L467.3,452.3 L468.4,452.3 L469.5,452.3 L470.6,452.3 L471.7,451.9 L472.8,451.6 L473.9,452.2 L475.0,452.3 L476.2,451.9 L477.3,452.3 L478.4,451.3 L479.5,452.3 L480.6,452.2 L481.7,452.3 L482.8,452.3 L483.9,452.2 L485.1,452.0 L486.2,452.3 L487.3,452.3 L488.4,452.0 L489.5,451.8 L490.6,452.3 L491.7,452.2 L492.8,451.6 L494.0,452.3 L495.1,452.0 L496.2,451.8 L497.3,452.3 L498.4,451.8 L499.5,452.3 L500.6,452.3 L501.7,452.3 L502.9,452.3 L504.0,452.1 L505.1,452.3 L506.2,452.3 L507.3,452.3" stroke="#000" stroke-width="2.3" fill="none" stroke-linejoin="miter"/></g>
<g font-family='"Liberation Sans", sans-serif' fill="#000" stroke="#000" stroke-width="0.4">
<text x="1.5" y="20" font-size="25" font-weight="bold" text-anchor="start" >A</text>
<text x="113" y="23" font-size="15.3" font-weight="bold" text-anchor="middle" >Basal</text>
<text x="273" y="22.8" font-size="15.3" font-weight="bold" text-anchor="middle" >f-MLP+CB</text>
<text x="424.5" y="13.5" font-size="15.3" font-weight="bold" text-anchor="middle" >Physiologic</text>
<text x="422.3" y="32.2" font-size="15.3" font-weight="bold" text-anchor="middle" >apoptosis</text>
<text transform="translate(15.8,65.9) rotate(-90) scale(1,1.06)" font-size="15.3" font-weight="bold" text-anchor="middle">PR3</text>
<text transform="translate(40.6,66.4) rotate(-90) scale(1,1.06)" font-size="15.3" font-weight="bold" text-anchor="middle">counts</text>
<text transform="translate(15.3,142.4) rotate(-90) scale(1,1.06)" font-size="15.3" font-weight="bold" text-anchor="middle">HNE</text>
<text transform="translate(40.2,143.5) rotate(-90) scale(1,1.06)" font-size="15.3" font-weight="bold" text-anchor="middle">counts</text>
<text transform="translate(14.1,212.3) rotate(-90) scale(1,1.06)" font-size="15.3" font-weight="bold" text-anchor="middle">MPO</text>
<text transform="translate(40.2,213.6) rotate(-90) scale(1,1.06)" font-size="15.3" font-weight="bold" text-anchor="middle">counts</text>
<text transform="translate(14.9,278.1) rotate(-90) scale(1,1.06)" font-size="15.3" font-weight="bold" text-anchor="middle">CD63</text>
<text transform="translate(39.6,278.4) rotate(-90) scale(1,1.06)" font-size="15.3" font-weight="bold" text-anchor="middle">counts</text>
<text transform="translate(17.2,348.8) rotate(-90) scale(1,1.06)" font-size="15.3" font-weight="bold" text-anchor="middle">CD66b</text>
<text transform="translate(40.2,350.0) rotate(-90) scale(1,1.06)" font-size="15.3" font-weight="bold" text-anchor="middle">counts</text>
<text transform="translate(19.6,422.5) rotate(-90) scale(1,1.06)" font-size="15.3" font-weight="bold" text-anchor="middle">CD35</text>
<text transform="translate(42.8,422.7) rotate(-90) scale(1,1.06)" font-size="15.3" font-weight="bold" text-anchor="middle">counts</text>
<text x="53.1" y="465.5" font-size="9" font-weight="bold" text-anchor="middle">10<tspan font-size="6" dy="-3.5">0</tspan></text>
<text x="87.4" y="465.5" font-size="9" font-weight="bold" text-anchor="middle">10<tspan font-size="6" dy="-3.5">1</tspan></text>
<text x="122.3" y="465.5" font-size="9" font-weight="bold" text-anchor="middle">10<tspan font-size="6" dy="-3.5">2</tspan></text>
<text x="157.4" y="465.5" font-size="9" font-weight="bold" text-anchor="middle">10<tspan font-size="6" dy="-3.5">3</tspan></text>
<text x="186.9" y="465.5" font-size="9" font-weight="bold" text-anchor="middle">10<tspan font-size="6" dy="-3.5">4</tspan></text>
<text x="209.6" y="465.5" font-size="9" font-weight="bold" text-anchor="middle">10<tspan font-size="6" dy="-3.5">0</tspan></text>
<text x="244.7" y="465.5" font-size="9" font-weight="bold" text-anchor="middle">10<tspan font-size="6" dy="-3.5">1</tspan></text>
<text x="280.4" y="465.5" font-size="9" font-weight="bold" text-anchor="middle">10<tspan font-size="6" dy="-3.5">2</tspan></text>
<text x="315" y="465.5" font-size="9" font-weight="bold" text-anchor="middle">10<tspan font-size="6" dy="-3.5">3</tspan></text>
<text x="344.2" y="465.5" font-size="9" font-weight="bold" text-anchor="middle">10<tspan font-size="6" dy="-3.5">4</tspan></text>
<text x="368.1" y="465.5" font-size="9" font-weight="bold" text-anchor="middle">10<tspan font-size="6" dy="-3.5">0</tspan></text>
<text x="402.7" y="465.5" font-size="9" font-weight="bold" text-anchor="middle">10<tspan font-size="6" dy="-3.5">1</tspan></text>
<text x="437.3" y="465.5" font-size="9" font-weight="bold" text-anchor="middle">10<tspan font-size="6" dy="-3.5">2</tspan></text>
<text x="471.9" y="465.5" font-size="9" font-weight="bold" text-anchor="middle">10<tspan font-size="6" dy="-3.5">3</tspan></text>
<text x="502.6" y="465.5" font-size="9" font-weight="bold" text-anchor="middle">10<tspan font-size="6" dy="-3.5">4</tspan></text>
<text x="128" y="488" font-size="15.3" font-weight="bold">Fluorescence (arbitrary units, log<tspan font-size="10.5" dy="3.5">10</tspan><tspan dy="-3.5">)</tspan></text>
<text x="1.5" y="532.7" font-size="25" font-weight="bold" text-anchor="start" >B</text>
<text x="83" y="558.5" font-size="15.3" font-weight="bold" text-anchor="middle" >Basal</text>
<text x="207" y="551.2" font-size="15.3" font-weight="bold" text-anchor="middle" >Physiologic</text>
<text x="208" y="566.3" font-size="15.3" font-weight="bold" text-anchor="middle" >apoptosis</text>
</g>
<g><clipPath id="clip1"><rect x="28.4" y="572.4" width="99.6" height="94.60000000000002"/></clipPath><g clip-path="url(#clip1)"><path d="M28.4,649.0 L31.0,645.5 L35.0,643.5 L40.0,643.5 L44.0,645.5 L47.0,649.0 L48.5,654.0 L49.0,660.0 L48.0,667.0 L28.4,667.0Z" fill="#000" fill-opacity="1.0"/><path d="M42.0,622.0 L46.0,620.0 L50.0,622.0 L52.0,627.0 L52.0,633.0 L48.0,636.0 L43.0,634.0 L41.0,628.0Z" fill="#000" fill-opacity="0.3"/><path d="M38 648h1v1h-1zM29 655h1v1h-1zM29 643h1v1h-1zM39 656h1v1h-1zM42 647h1v1h-1zM38 654h1v1h-1zM39 653h1v1h-1zM47 656h1v1h-1zM45 652h1v1h-1zM39 663h1v1h-1zM43 656h1v1h-1zM29 658h1v1h-1zM38 660h1v1h-1zM39 663h1v1h-1zM37 656h1v1h-1zM43 646h1v1h-1zM34 650h1v1h-1zM53 654h1v1h-1zM43 659h1v1h-1zM35 642h1v1h-1zM45 651h1v1h-1zM43 644h1v1h-1zM34 665h1v1h-1zM49 644h1v1h-1zM43 656h1v1h-1zM40 647h1v1h-1zM42 663h1v1h-1zM34 643h1v1h-1zM31 661h1v1h-1zM30 653h1v1h-1zM36 655h1v1h-1zM50 658h1v1h-1zM48 653h1v1h-1zM34 658h1v1h-1zM39 645h1v1h-1zM41 650h1v1h-1zM30 650h1v1h-1zM36 665h1v1h-1zM38 654h1v1h-1zM41 640h1v1h-1zM47 646h1v1h-1zM41 645h1v1h-1zM30 651h1v1h-1zM53 660h1v1h-1zM33 652h1v1h-1zM33 660h1v1h-1zM31 649h1v1h-1zM43 656h1v1h-1zM42 664h1v1h-1zM47 644h1v1h-1zM42 640h1v1h-1zM36 652h1v1h-1zM39 655h1v1h-1zM38 648h1v1h-1zM46 662h1v1h-1zM36 657h1v1h-1zM43 663h1v1h-1zM41 660h1v1h-1zM35 646h1v1h-1zM34 663h1v1h-1zM45 656h1v1h-1zM33 657h1v1h-1zM32 654h1v1h-1zM39 655h1v1h-1zM45 665h1v1h-1zM44 665h1v1h-1zM33 645h1v1h-1zM40 645h1v1h-1zM29 661h1v1h-1zM33 665h1v1h-1zM44 657h1v1h-1zM54 651h1v1h-1zM37 646h1v1h-1zM37 656h1v1h-1zM39 653h1v1h-1zM46 636h1v1h-1zM33 652h1v1h-1zM52 639h1v1h-1zM35 645h1v1h-1zM32 660h1v1h-1zM33 657h1v1h-1zM47 662h1v1h-1zM35 664h1v1h-1zM39 654h1v1h-1zM40 661h1v1h-1zM51 653h1v1h-1zM35 659h1v1h-1zM31 641h1v1h-1zM44 651h1v1h-1zM47 646h1v1h-1zM42 657h1v1h-1zM42 652h1v1h-1zM38 644h1v1h-1zM42 648h1v1h-1zM34 660h1v1h-1zM45 646h1v1h-1zM54 650h1v1h-1zM44 662h1v1h-1zM39 656h1v1h-1zM52 662h1v1h-1zM41 640h1v1h-1zM32 664h1v1h-1zM39 647h1v1h-1zM32 652h1v1h-1zM43 658h1v1h-1zM45 648h1v1h-1zM45 650h1v1h-1zM38 653h1v1h-1zM36 651h1v1h-1zM43 656h1v1h-1zM46 654h1v1h-1zM41 658h1v1h-1zM52 665h1v1h-1zM43 651h1v1h-1zM37 664h1v1h-1zM47 661h1v1h-1zM39 655h1v1h-1zM44 654h1v1h-1zM30 650h1v1h-1zM36 657h1v1h-1zM56 644h1v1h-1zM41 654h1v1h-1zM47 653h1v1h-1zM33 644h1v1h-1zM37 664h1v1h-1zM35 660h1v1h-1zM43 658h1v1h-1zM46 654h1v1h-1zM31 645h1v1h-1zM45 652h1v1h-1zM35 661h1v1h-1zM43 650h1v1h-1zM32 663h1v1h-1zM38 656h1v1h-1zM38 658h1v1h-1zM35 654h1v1h-1zM48 660h1v1h-1zM43 662h1v1h-1zM38 651h1v1h-1zM42 653h1v1h-1zM41 632h1v1h-1zM41 648h1v1h-1zM45 660h1v1h-1zM43 651h1v1h-1zM41 652h1v1h-1zM39 653h1v1h-1zM43 638h1v1h-1zM45 643h1v1h-1zM36 650h1v1h-1zM33 656h1v1h-1zM35 643h1v1h-1zM37 657h1v1h-1zM52 651h1v1h-1zM43 647h1v1h-1zM32 659h1v1h-1zM37 656h1v1h-1zM32 648h1v1h-1zM35 653h1v1h-1zM35 658h1v1h-1zM42 659h1v1h-1zM41 647h1v1h-1zM29 661h1v1h-1zM38 655h1v1h-1zM32 648h1v1h-1zM32 643h1v1h-1zM38 664h1v1h-1zM32 655h1v1h-1zM29 660h1v1h-1zM52 645h1v1h-1zM40 655h1v1h-1zM43 650h1v1h-1zM32 640h1v1h-1zM29 663h1v1h-1zM37 644h1v1h-1zM48 641h1v1h-1zM48 652h1v1h-1zM40 660h1v1h-1zM40 665h1v1h-1zM38 652h1v1h-1zM32 643h1v1h-1zM32 662h1v1h-1zM59 660h1v1h-1zM42 644h1v1h-1zM42 653h1v1h-1zM40 639h1v1h-1zM31 644h1v1h-1zM45 653h1v1h-1zM40 646h1v1h-1zM41 661h1v1h-1zM41 653h1v1h-1zM31 650h1v1h-1zM42 659h1v1h-1zM43 655h1v1h-1zM36 655h1v1h-1zM30 647h1v1h-1zM40 650h1v1h-1zM35 664h1v1h-1zM36 665h1v1h-1zM41 640h1v1h-1zM47 653h1v1h-1zM39 644h1v1h-1zM33 659h1v1h-1zM49 664h1v1h-1zM47 663h1v1h-1zM39 633h1v1h-1zM44 662h1v1h-1zM31 651h1v1h-1zM30 654h1v1h-1zM37 654h1v1h-1zM29 658h1v1h-1zM35 662h1v1h-1zM40 643h1v1h-1zM34 658h1v1h-1zM44 655h1v1h-1zM42 646h1v1h-1zM46 654h1v1h-1zM42 647h1v1h-1zM37 631h1v1h-1zM36 659h1v1h-1zM30 648h1v1h-1zM37 655h1v1h-1zM31 660h1v1h-1zM48 647h1v1h-1zM30 646h1v1h-1zM32 649h1v1h-1zM30 646h1v1h-1zM50 649h1v1h-1zM45 643h1v1h-1zM42 644h1v1h-1zM34 660h1v1h-1zM33 639h1v1h-1zM33 653h1v1h-1zM42 647h1v1h-1zM35 655h1v1h-1zM31 658h1v1h-1zM37 653h1v1h-1zM35 647h1v1h-1zM33 644h1v1h-1zM39 660h1v1h-1zM42 650h1v1h-1zM51 661h1v1h-1zM30 653h1v1h-1zM43 665h1v1h-1zM34 640h1v1h-1zM39 665h1v1h-1zM42 649h1v1h-1zM33 640h1v1h-1zM54 658h1v1h-1zM32 650h1v1h-1zM39 649h1v1h-1zM34 651h1v1h-1zM46 653h1v1h-1zM49 648h1v1h-1zM33 651h1v1h-1zM33 654h1v1h-1zM46 664h1v1h-1zM29 665h1v1h-1zM36 648h1v1h-1zM44 659h1v1h-1zM34 655h1v1h-1zM39 657h1v1h-1zM38 657h1v1h-1zM33 640h1v1h-1zM48 652h1v1h-1zM47 663h1v1h-1zM44 659h1v1h-1zM30 655h1v1h-1zM40 660h1v1h-1zM41 646h1v1h-1zM33 652h1v1h-1zM36 648h1v1h-1zM40 654h1v1h-1zM42 639h1v1h-1zM34 662h1v1h-1zM38 650h1v1h-1zM39 654h1v1h-1zM45 664h1v1h-1zM45 657h1v1h-1zM44 661h1v1h-1zM47 640h1v1h-1zM40 655h1v1h-1zM39 653h1v1h-1zM37 658h1v1h-1zM39 656h1v1h-1zM29 644h1v1h-1zM32 640h1v1h-1zM33 648h1v1h-1zM34 650h1v1h-1zM55 661h1v1h-1zM31 651h1v1h-1zM29 648h1v1h-1zM35 654h1v1h-1zM33 661h1v1h-1zM35 642h1v1h-1zM35 641h1v1h-1zM47 642h1v1h-1zM41 656h1v1h-1zM41 646h1v1h-1zM47 657h1v1h-1zM34 656h1v1h-1zM39 653h1v1h-1zM34 654h1v1h-1zM39 651h1v1h-1zM45 656h1v1h-1zM37 648h1v1h-1zM47 665h1v1h-1zM43 640h1v1h-1zM35 662h1v1h-1zM38 665h1v1h-1zM34 661h1v1h-1zM42 635h1v1h-1zM34 653h1v1h-1zM32 647h1v1h-1zM50 654h1v1h-1zM44 644h1v1h-1zM41 649h1v1h-1zM42 661h1v1h-1zM34 654h1v1h-1zM32 663h1v1h-1zM52 658h1v1h-1zM33 649h1v1h-1zM35 662h1v1h-1zM34 661h1v1h-1zM58 664h1v1h-1zM57 645h1v1h-1zM45 638h1v1h-1zM50 648h1v1h-1zM44 662h1v1h-1zM40 642h1v1h-1zM37 647h1v1h-1zM48 650h1v1h-1zM30 660h1v1h-1zM47 653h1v1h-1zM40 658h1v1h-1zM34 645h1v1h-1zM42 652h1v1h-1zM41 656h1v1h-1zM31 653h1v1h-1zM42 658h1v1h-1zM31 647h1v1h-1zM40 656h1v1h-1zM44 645h1v1h-1zM45 656h1v1h-1zM45 644h1v1h-1zM44 649h1v1h-1zM33 646h1v1h-1zM51 650h1v1h-1zM35 640h1v1h-1zM44 654h1v1h-1zM39 645h1v1h-1zM29 655h1v1h-1zM48 645h1v1h-1zM36 653h1v1h-1zM43 647h1v1h-1zM40 661h1v1h-1zM37 654h1v1h-1zM42 659h1v1h-1zM48 646h1v1h-1zM47 653h1v1h-1zM46 637h1v1h-1zM35 661h1v1h-1zM43 664h1v1h-1zM51 654h1v1h-1zM30 651h1v1h-1zM47 647h1v1h-1zM52 644h1v1h-1zM42 648h1v1h-1zM30 655h1v1h-1zM34 656h1v1h-1zM32 661h1v1h-1zM42 655h1v1h-1zM32 651h1v1h-1zM44 654h1v1h-1zM34 647h1v1h-1zM39 645h1v1h-1zM35 645h1v1h-1zM50 652h1v1h-1zM41 657h1v1h-1zM43 653h1v1h-1zM44 655h1v1h-1zM39 652h1v1h-1zM41 654h1v1h-1zM30 652h1v1h-1zM36 651h1v1h-1zM37 661h1v1h-1zM46 644h1v1h-1zM36 651h1v1h-1zM35 664h1v1h-1zM41 652h1v1h-1zM40 651h1v1h-1zM40 664h1v1h-1zM44 654h1v1h-1zM32 653h1v1h-1zM38 647h1v1h-1zM36 655h1v1h-1zM49 654h1v1h-1zM56 645h1v1h-1zM36 664h1v1h-1zM41 650h1v1h-1zM34 657h1v1h-1zM41 664h1v1h-1zM42 661h1v1h-1zM37 660h1v1h-1zM31 661h1v1h-1zM32 664h1v1h-1zM34 645h1v1h-1zM44 657h1v1h-1zM33 644h1v1h-1zM44 639h1v1h-1zM34 663h1v1h-1zM35 658h1v1h-1zM41 659h1v1h-1zM46 660h1v1h-1zM34 645h1v1h-1zM35 649h1v1h-1zM41 664h1v1h-1zM44 649h1v1h-1zM39 655h1v1h-1zM34 665h1v1h-1zM42 657h1v1h-1zM32 664h1v1h-1zM36 654h1v1h-1zM35 658h1v1h-1zM37 652h1v1h-1zM49 661h1v1h-1zM43 659h1v1h-1zM37 657h1v1h-1zM42 655h1v1h-1zM34 650h1v1h-1zM35 649h1v1h-1zM30 654h1v1h-1zM45 652h1v1h-1zM41 644h1v1h-1zM44 645h1v1h-1zM43 649h1v1h-1zM33 644h1v1h-1zM30 653h1v1h-1zM47 648h1v1h-1zM35 654h1v1h-1zM33 654h1v1h-1zM39 663h1v1h-1zM32 653h1v1h-1zM36 664h1v1h-1zM29 656h1v1h-1zM44 659h1v1h-1zM32 646h1v1h-1zM35 643h1v1h-1zM44 656h1v1h-1zM36 650h1v1h-1zM41 652h1v1h-1zM42 651h1v1h-1zM46 641h1v1h-1zM31 660h1v1h-1zM46 662h1v1h-1zM41 644h1v1h-1zM57 656h1v1h-1zM48 649h1v1h-1zM30 662h1v1h-1zM44 649h1v1h-1zM39 644h1v1h-1zM46 657h1v1h-1zM50 657h1v1h-1zM40 655h1v1h-1zM41 657h1v1h-1zM30 654h1v1h-1zM47 648h1v1h-1zM42 640h1v1h-1zM38 665h1v1h-1zM35 658h1v1h-1zM40 637h1v1h-1zM31 664h1v1h-1zM51 654h1v1h-1zM46 657h1v1h-1zM33 659h1v1h-1zM41 647h1v1h-1zM34 644h1v1h-1zM35 654h1v1h-1zM30 640h1v1h-1zM43 665h1v1h-1zM30 655h1v1h-1zM32 633h1v1h-1zM54 657h1v1h-1zM43 659h1v1h-1zM49 652h1v1h-1zM39 646h1v1h-1zM39 642h1v1h-1zM40 663h1v1h-1zM51 648h1v1h-1zM42 661h1v1h-1zM39 656h1v1h-1zM42 657h1v1h-1zM39 643h1v1h-1zM39 648h1v1h-1zM46 637h1v1h-1zM45 655h1v1h-1zM29 645h1v1h-1zM46 649h1v1h-1zM37 655h1v1h-1zM45 633h1v1h-1zM47 648h1v1h-1zM34 659h1v1h-1zM40 636h1v1h-1zM42 653h1v1h-1zM29 650h1v1h-1zM49 649h1v1h-1zM34 643h1v1h-1zM32 646h1v1h-1zM46 662h1v1h-1zM30 661h1v1h-1zM32 647h1v1h-1zM43 654h1v1h-1zM57 656h1v1h-1zM35 660h1v1h-1zM50 653h1v1h-1zM33 663h1v1h-1zM29 657h1v1h-1zM33 657h1v1h-1zM31 659h1v1h-1zM35 658h1v1h-1zM40 644h1v1h-1zM37 647h1v1h-1zM41 659h1v1h-1zM34 660h1v1h-1zM33 655h1v1h-1zM42 659h1v1h-1zM32 653h1v1h-1zM29 650h1v1h-1zM33 658h1v1h-1zM35 652h1v1h-1zM38 652h1v1h-1zM37 647h1v1h-1zM33 645h1v1h-1zM44 662h1v1h-1zM43 657h1v1h-1zM33 659h1v1h-1zM32 663h1v1h-1zM50 662h1v1h-1zM40 663h1v1h-1zM38 648h1v1h-1zM52 660h1v1h-1zM48 651h1v1h-1zM50 664h1v1h-1zM33 650h1v1h-1zM40 664h1v1h-1zM34 640h1v1h-1zM46 664h1v1h-1zM37 655h1v1h-1zM41 658h1v1h-1zM38 647h1v1h-1zM29 639h1v1h-1zM51 652h1v1h-1zM32 658h1v1h-1zM50 663h1v1h-1zM45 662h1v1h-1zM35 655h1v1h-1zM40 653h1v1h-1zM36 652h1v1h-1zM30 659h1v1h-1zM48 652h1v1h-1zM41 663h1v1h-1zM32 654h1v1h-1zM51 653h1v1h-1zM53 661h1v1h-1zM40 659h1v1h-1zM43 651h1v1h-1zM47 657h1v1h-1zM53 654h1v1h-1zM42 640h1v1h-1zM33 648h1v1h-1zM45 649h1v1h-1zM47 650h1v1h-1zM45 650h1v1h-1zM36 659h1v1h-1zM41 641h1v1h-1zM40 644h1v1h-1zM45 661h1v1h-1zM55 656h1v1h-1zM34 661h1v1h-1zM30 650h1v1h-1zM29 658h1v1h-1zM38 654h1v1h-1zM41 661h1v1h-1zM40 658h1v1h-1zM34 663h1v1h-1zM49 631h1v1h-1zM44 646h1v1h-1zM40 655h1v1h-1zM35 652h1v1h-1zM37 658h1v1h-1zM37 660h1v1h-1zM36 664h1v1h-1zM37 648h1v1h-1zM53 639h1v1h-1zM39 652h1v1h-1zM40 651h1v1h-1zM30 657h1v1h-1zM37 653h1v1h-1zM39 653h1v1h-1zM43 648h1v1h-1zM43 654h1v1h-1zM41 657h1v1h-1zM34 652h1v1h-1zM37 660h1v1h-1zM57 661h1v1h-1zM37 649h1v1h-1zM38 654h1v1h-1zM40 654h1v1h-1zM37 665h1v1h-1zM51 655h1v1h-1zM50 662h1v1h-1zM47 657h1v1h-1zM39 661h1v1h-1zM30 655h1v1h-1zM39 659h1v1h-1zM35 648h1v1h-1zM45 651h1v1h-1zM36 655h1v1h-1zM41 655h1v1h-1zM29 646h1v1h-1zM46 652h1v1h-1zM36 647h1v1h-1zM45 658h1v1h-1zM33 641h1v1h-1zM52 650h1v1h-1zM33 645h1v1h-1zM43 648h1v1h-1zM33 646h1v1h-1zM33 651h1v1h-1zM33 665h1v1h-1zM46 657h1v1h-1zM42 651h1v1h-1zM49 649h1v1h-1zM32 649h1v1h-1zM51 655h1v1h-1zM37 648h1v1h-1zM45 655h1v1h-1zM41 651h1v1h-1zM41 656h1v1h-1zM49 654h1v1h-1zM46 663h1v1h-1zM48 652h1v1h-1zM36 650h1v1h-1zM38 645h1v1h-1zM31 651h1v1h-1zM35 663h1v1h-1zM29 653h1v1h-1zM40 652h1v1h-1zM29 648h1v1h-1zM33 650h1v1h-1zM33 658h1v1h-1zM37 638h1v1h-1zM50 655h1v1h-1zM34 663h1v1h-1zM37 653h1v1h-1zM31 662h1v1h-1zM44 648h1v1h-1zM33 664h1v1h-1zM32 651h1v1h-1zM31 653h1v1h-1zM44 655h1v1h-1zM45 659h1v1h-1zM37 641h1v1h-1zM44 654h1v1h-1zM33 659h1v1h-1zM45 660h1v1h-1zM33 654h1v1h-1zM57 644h1v1h-1zM38 655h1v1h-1zM50 659h1v1h-1zM39 652h1v1h-1zM47 655h1v1h-1zM37 656h1v1h-1zM43 655h1v1h-1zM40 661h1v1h-1zM32 653h1v1h-1zM38 660h1v1h-1zM42 651h1v1h-1zM29 652h1v1h-1zM33 662h1v1h-1zM43 655h1v1h-1zM29 644h1v1h-1zM38 659h1v1h-1zM41 652h1v1h-1zM42 639h1v1h-1zM39 656h1v1h-1zM36 662h1v1h-1zM30 650h1v1h-1zM41 643h1v1h-1zM41 658h1v1h-1zM37 651h1v1h-1zM51 650h1v1h-1zM39 661h1v1h-1zM37 663h1v1h-1zM38 657h1v1h-1zM37 660h1v1h-1zM32 662h1v1h-1zM46 646h1v1h-1zM31 660h1v1h-1zM50 642h1v1h-1zM34 652h1v1h-1zM50 661h1v1h-1zM45 648h1v1h-1zM54 646h1v1h-1zM38 647h1v1h-1zM30 657h1v1h-1zM30 660h1v1h-1zM42 655h1v1h-1zM43 664h1v1h-1zM46 645h1v1h-1zM43 662h1v1h-1zM34 651h1v1h-1zM47 660h1v1h-1zM34 662h1v1h-1zM51 647h1v1h-1zM36 652h1v1h-1zM41 664h1v1h-1zM50 653h1v1h-1zM40 662h1v1h-1zM47 652h1v1h-1zM53 617h1v1h-1zM47 617h1v1h-1zM44 621h1v1h-1zM55 636h1v1h-1zM50 626h1v1h-1zM36 615h1v1h-1zM47 630h1v1h-1zM49 621h1v1h-1zM42 629h1v1h-1zM57 630h1v1h-1zM46 625h1v1h-1zM48 627h1v1h-1zM39 635h1v1h-1zM48 629h1v1h-1zM44 632h1v1h-1zM51 621h1v1h-1zM51 621h1v1h-1zM37 631h1v1h-1zM41 622h1v1h-1zM41 625h1v1h-1zM44 626h1v1h-1zM48 635h1v1h-1zM48 629h1v1h-1zM48 630h1v1h-1zM51 627h1v1h-1zM40 620h1v1h-1zM47 624h1v1h-1zM44 622h1v1h-1zM42 632h1v1h-1zM50 618h1v1h-1zM47 625h1v1h-1zM44 632h1v1h-1zM48 626h1v1h-1zM42 631h1v1h-1zM47 627h1v1h-1zM43 634h1v1h-1zM31 617h1v1h-1zM38 618h1v1h-1zM41 622h1v1h-1zM44 627h1v1h-1zM53 629h1v1h-1zM47 625h1v1h-1zM48 630h1v1h-1zM42 636h1v1h-1zM46 631h1v1h-1zM34 627h1v1h-1zM44 634h1v1h-1zM51 627h1v1h-1zM49 624h1v1h-1zM41 632h1v1h-1zM40 622h1v1h-1zM40 620h1v1h-1zM44 631h1v1h-1zM41 630h1v1h-1zM37 621h1v1h-1zM42 629h1v1h-1zM53 612h1v1h-1zM46 635h1v1h-1zM46 635h1v1h-1zM52 627h1v1h-1zM39 622h1v1h-1zM54 620h1v1h-1zM41 623h1v1h-1zM52 626h1v1h-1zM38 622h1v1h-1zM49 632h1v1h-1zM54 629h1v1h-1zM48 620h1v1h-1zM43 617h1v1h-1zM45 628h1v1h-1zM46 620h1v1h-1zM49 631h1v1h-1zM52 613h1v1h-1zM34 619h1v1h-1zM49 632h1v1h-1zM50 626h1v1h-1zM47 624h1v1h-1zM43 620h1v1h-1zM62 624h1v1h-1zM49 629h1v1h-1zM50 625h1v1h-1zM51 637h1v1h-1zM43 622h1v1h-1zM41 623h1v1h-1zM40 627h1v1h-1zM49 633h1v1h-1zM52 623h1v1h-1zM47 621h1v1h-1zM46 626h1v1h-1zM49 625h1v1h-1zM41 631h1v1h-1zM45 617h1v1h-1zM37 630h1v1h-1zM37 630h1v1h-1zM54 629h1v1h-1zM50 629h1v1h-1zM43 627h1v1h-1zM37 629h1v1h-1zM49 626h1v1h-1zM51 624h1v1h-1zM38 634h1v1h-1zM46 622h1v1h-1zM43 623h1v1h-1zM47 618h1v1h-1zM47 623h1v1h-1zM49 624h1v1h-1zM49 620h1v1h-1zM48 624h1v1h-1zM51 628h1v1h-1zM51 623h1v1h-1zM43 625h1v1h-1zM41 624h1v1h-1zM52 619h1v1h-1zM43 626h1v1h-1zM54 638h1v1h-1zM43 623h1v1h-1zM47 622h1v1h-1zM36 629h1v1h-1zM48 627h1v1h-1zM49 627h1v1h-1zM43 629h1v1h-1zM46 626h1v1h-1zM41 626h1v1h-1zM46 620h1v1h-1zM42 623h1v1h-1zM46 622h1v1h-1zM41 626h1v1h-1zM40 627h1v1h-1zM42 624h1v1h-1zM52 612h1v1h-1zM39 622h1v1h-1zM45 620h1v1h-1zM41 622h1v1h-1zM41 626h1v1h-1zM43 625h1v1h-1zM46 630h1v1h-1zM43 623h1v1h-1zM48 613h1v1h-1zM46 620h1v1h-1zM50 624h1v1h-1zM42 632h1v1h-1zM43 620h1v1h-1zM48 614h1v1h-1zM45 630h1v1h-1zM40 631h1v1h-1zM44 622h1v1h-1zM38 634h1v1h-1zM53 623h1v1h-1zM48 614h1v1h-1zM46 628h1v1h-1zM42 622h1v1h-1zM45 621h1v1h-1zM38 630h1v1h-1zM50 629h1v1h-1zM50 632h1v1h-1zM44 608h1v1h-1zM46 622h1v1h-1zM40 628h1v1h-1zM41 618h1v1h-1zM58 623h1v1h-1zM47 629h1v1h-1zM49 625h1v1h-1zM48 625h1v1h-1zM44 624h1v1h-1zM49 630h1v1h-1zM48 617h1v1h-1zM45 628h1v1h-1zM44 628h1v1h-1zM47 633h1v1h-1zM35 626h1v1h-1zM51 629h1v1h-1zM43 624h1v1h-1zM44 628h1v1h-1zM50 622h1v1h-1zM51 628h1v1h-1zM36 623h1v1h-1zM45 621h1v1h-1zM46 625h1v1h-1zM46 624h1v1h-1zM47 622h1v1h-1zM49 615h1v1h-1zM46 623h1v1h-1zM44 627h1v1h-1zM43 607h1v1h-1zM39 624h1v1h-1zM45 623h1v1h-1zM43 630h1v1h-1zM46 619h1v1h-1zM42 631h1v1h-1zM47 628h1v1h-1zM46 627h1v1h-1zM43 620h1v1h-1zM41 620h1v1h-1zM55 629h1v1h-1zM46 625h1v1h-1zM38 630h1v1h-1zM37 632h1v1h-1zM44 617h1v1h-1zM53 620h1v1h-1zM45 625h1v1h-1zM71 604h1v1h-1zM72 620h1v1h-1zM61 612h1v1h-1zM65 621h1v1h-1zM66 617h1v1h-1zM64 604h1v1h-1zM64 615h1v1h-1zM49 619h1v1h-1zM90 592h1v1h-1zM80 609h1v1h-1zM75 604h1v1h-1zM47 615h1v1h-1zM74 616h1v1h-1zM101 607h1v1h-1zM44 621h1v1h-1zM62 627h1v1h-1zM73 606h1v1h-1zM53 620h1v1h-1zM76 610h1v1h-1zM89 614h1v1h-1zM70 610h1v1h-1zM61 612h1v1h-1zM84 616h1v1h-1zM84 596h1v1h-1zM69 605h1v1h-1zM71 607h1v1h-1zM69 638h1v1h-1zM96 596h1v1h-1zM93 593h1v1h-1zM87 632h1v1h-1zM102 591h1v1h-1zM94 600h1v1h-1zM69 620h1v1h-1zM86 602h1v1h-1zM80 612h1v1h-1zM93 590h1v1h-1zM56 613h1v1h-1zM76 592h1v1h-1zM68 607h1v1h-1zM78 605h1v1h-1zM59 624h1v1h-1zM75 621h1v1h-1zM71 631h1v1h-1zM53 631h1v1h-1zM79 613h1v1h-1zM80 623h1v1h-1zM68 617h1v1h-1zM80 616h1v1h-1zM75 609h1v1h-1zM97 606h1v1h-1zM78 608h1v1h-1zM61 627h1v1h-1zM98 593h1v1h-1zM86 610h1v1h-1zM70 621h1v1h-1zM93 605h1v1h-1zM54 608h1v1h-1zM94 603h1v1h-1zM81 581h1v1h-1zM96 590h1v1h-1zM83 617h1v1h-1zM77 609h1v1h-1zM83 590h1v1h-1zM77 609h1v1h-1zM60 631h1v1h-1zM57 628h1v1h-1zM86 604h1v1h-1zM68 615h1v1h-1zM85 606h1v1h-1zM58 630h1v1h-1zM84 613h1v1h-1zM79 622h1v1h-1zM61 618h1v1h-1zM89 589h1v1h-1zM104 602h1v1h-1zM95 592h1v1h-1zM84 617h1v1h-1zM74 613h1v1h-1zM88 617h1v1h-1zM83 599h1v1h-1zM78 620h1v1h-1zM82 619h1v1h-1zM102 605h1v1h-1zM73 616h1v1h-1zM55 629h1v1h-1zM68 601h1v1h-1zM96 610h1v1h-1zM92 610h1v1h-1zM90 590h1v1h-1zM82 615h1v1h-1zM70 649h1v1h-1zM79 650h1v1h-1zM99 650h1v1h-1zM66 646h1v1h-1zM62 649h1v1h-1zM62 654h1v1h-1zM82 660h1v1h-1zM86 643h1v1h-1zM70 653h1v1h-1zM56 647h1v1h-1zM65 652h1v1h-1zM70 640h1v1h-1zM65 645h1v1h-1zM95 644h1v1h-1zM77 651h1v1h-1zM66 651h1v1h-1zM81 648h1v1h-1zM54 642h1v1h-1zM103 642h1v1h-1zM63 651h1v1h-1zM66 651h1v1h-1zM101 657h1v1h-1zM67 647h1v1h-1zM55 654h1v1h-1zM54 653h1v1h-1zM56 633h1v1h-1zM57 645h1v1h-1zM66 651h1v1h-1zM99 651h1v1h-1zM101 653h1v1h-1zM86 646h1v1h-1zM55 641h1v1h-1zM104 654h1v1h-1zM78 650h1v1h-1zM97 650h1v1h-1zM61 649h1v1h-1zM54 658h1v1h-1zM58 660h1v1h-1zM82 650h1v1h-1zM68 650h1v1h-1zM67 638h1v1h-1zM81 646h1v1h-1zM81 649h1v1h-1zM78 653h1v1h-1zM74 653h1v1h-1zM55 647h1v1h-1zM56 648h1v1h-1zM74 653h1v1h-1zM99 648h1v1h-1zM97 642h1v1h-1zM99 658h1v1h-1zM60 653h1v1h-1zM75 646h1v1h-1zM56 653h1v1h-1zM64 645h1v1h-1zM101 635h1v1h-1zM55 646h1v1h-1zM81 648h1v1h-1zM81 651h1v1h-1zM78 652h1v1h-1zM56 656h1v1h-1zM54 639h1v1h-1zM95 650h1v1h-1zM84 648h1v1h-1zM78 655h1v1h-1zM83 659h1v1h-1zM96 664h1v1h-1zM88 643h1v1h-1zM99 655h1v1h-1zM78 652h1v1h-1zM48 647h1v1h-1zM54 639h1v1h-1zM54 641h1v1h-1zM55 645h1v1h-1zM57 647h1v1h-1zM48 654h1v1h-1zM56 654h1v1h-1zM46 640h1v1h-1zM55 651h1v1h-1zM50 646h1v1h-1zM52 633h1v1h-1zM47 639h1v1h-1zM56 645h1v1h-1zM43 646h1v1h-1zM50 642h1v1h-1zM46 641h1v1h-1zM53 644h1v1h-1zM55 657h1v1h-1zM50 636h1v1h-1zM48 648h1v1h-1zM54 646h1v1h-1zM51 649h1v1h-1zM56 652h1v1h-1zM50 643h1v1h-1zM51 643h1v1h-1zM48 655h1v1h-1zM52 640h1v1h-1zM53 640h1v1h-1zM48 636h1v1h-1zM47 644h1v1h-1zM52 647h1v1h-1zM53 648h1v1h-1zM50 656h1v1h-1zM47 640h1v1h-1zM60 649h1v1h-1zM47 659h1v1h-1zM51 646h1v1h-1zM48 647h1v1h-1zM54 647h1v1h-1zM50 650h1v1h-1zM56 648h1v1h-1zM50 645h1v1h-1zM53 643h1v1h-1zM57 643h1v1h-1zM56 646h1v1h-1zM54 639h1v1h-1zM51 640h1v1h-1zM48 647h1v1h-1zM47 661h1v1h-1zM58 654h1v1h-1zM51 643h1v1h-1zM45 653h1v1h-1zM47 647h1v1h-1zM49 647h1v1h-1zM58 647h1v1h-1zM51 654h1v1h-1zM49 634h1v1h-1zM48 646h1v1h-1zM48 654h1v1h-1zM56 640h1v1h-1zM52 649h1v1h-1zM50 643h1v1h-1zM53 645h1v1h-1zM59 647h1v1h-1zM51 649h1v1h-1zM52 644h1v1h-1zM54 653h1v1h-1zM52 650h1v1h-1zM46 644h1v1h-1zM52 645h1v1h-1zM56 650h1v1h-1zM51 643h1v1h-1zM50 646h1v1h-1zM58 639h1v1h-1zM55 645h1v1h-1zM58 654h1v1h-1zM48 650h1v1h-1zM46 652h1v1h-1zM51 640h1v1h-1zM51 651h1v1h-1zM61 653h1v1h-1zM53 647h1v1h-1zM43 637h1v1h-1zM42 639h1v1h-1zM55 656h1v1h-1zM53 645h1v1h-1zM54 664h1v1h-1zM52 657h1v1h-1zM57 642h1v1h-1zM52 642h1v1h-1zM53 644h1v1h-1zM48 652h1v1h-1zM51 646h1v1h-1zM55 651h1v1h-1zM56 660h1v1h-1zM46 651h1v1h-1zM44 654h1v1h-1zM59 641h1v1h-1zM56 652h1v1h-1z" fill="#000" shape-rendering="crispEdges"/></g><rect x="28.4" y="572.4" width="99.6" height="94.60000000000002" fill="none" stroke="#000" stroke-width="1"/><path d="M26.9,572.4h2M26.9,574.6h2M26.9,576.8h2M26.9,579.0h2M26.9,581.2h2M26.9,583.4h2M26.9,585.6h2M26.9,587.8h2M26.9,590.0h2M26.9,592.2h2M26.9,594.4h2M26.9,596.6h2M26.9,598.8h2M26.9,601.0h2M26.9,603.2h2M26.9,605.4h2M26.9,607.6h2M26.9,609.8h2M26.9,612.0h2M26.9,614.2h2M26.9,616.4h2M26.9,618.6h2M26.9,620.8h2M26.9,623.0h2M26.9,625.2h2M26.9,627.4h2M26.9,629.6h2M26.9,631.8h2M26.9,634.0h2M26.9,636.2h2M26.9,638.4h2M26.9,640.6h2M26.9,642.8h2M26.9,645.0h2M26.9,647.2h2M26.9,649.4h2M26.9,651.6h2M26.9,653.8h2M26.9,656.0h2M26.9,658.2h2M26.9,660.4h2M26.9,662.6h2M26.9,664.8h2M26.9,667.0h2" stroke="#000" stroke-width="0.7"/><path d="M53.2,572.4V667.0M28.4,637.3H128.0" stroke="#000" stroke-width="1.2"/></g>
<g><clipPath id="clip2"><rect x="151.5" y="572.4" width="105.80000000000001" height="93.89999999999998"/></clipPath><g clip-path="url(#clip2)"><ellipse cx="232" cy="643" rx="9" ry="12" fill="#000" fill-opacity="0.55"/><ellipse cx="204" cy="653" rx="14" ry="8" fill="#000" fill-opacity="0.3"/><path d="M154.0,648.0 L156.0,642.5 L160.0,639.5 L167.0,638.0 L175.0,637.5 L181.0,638.5 L184.5,641.0 L185.5,646.0 L184.5,654.0 L181.0,659.0 L175.0,661.5 L165.0,662.0 L157.0,661.0 L154.0,656.0Z" fill="#000" fill-opacity="1.0"/><path d="M197 644h1v1h-1zM173 651h1v1h-1zM179 638h1v1h-1zM164 643h1v1h-1zM156 643h1v1h-1zM162 647h1v1h-1zM158 653h1v1h-1zM162 624h1v1h-1zM183 646h1v1h-1zM160 652h1v1h-1zM171 650h1v1h-1zM158 651h1v1h-1zM153 648h1v1h-1zM169 651h1v1h-1zM166 653h1v1h-1zM165 645h1v1h-1zM185 641h1v1h-1zM166 632h1v1h-1zM170 635h1v1h-1zM175 648h1v1h-1zM169 637h1v1h-1zM154 652h1v1h-1zM153 663h1v1h-1zM179 644h1v1h-1zM166 640h1v1h-1zM170 656h1v1h-1zM166 645h1v1h-1zM176 646h1v1h-1zM177 646h1v1h-1zM187 646h1v1h-1zM154 649h1v1h-1zM159 641h1v1h-1zM165 655h1v1h-1zM165 647h1v1h-1zM177 638h1v1h-1zM175 647h1v1h-1zM168 647h1v1h-1zM163 644h1v1h-1zM180 656h1v1h-1zM174 645h1v1h-1zM152 655h1v1h-1zM180 651h1v1h-1zM177 660h1v1h-1zM194 659h1v1h-1zM188 652h1v1h-1zM178 650h1v1h-1zM171 645h1v1h-1zM176 661h1v1h-1zM166 651h1v1h-1zM175 649h1v1h-1zM179 651h1v1h-1zM154 641h1v1h-1zM177 654h1v1h-1zM181 651h1v1h-1zM170 636h1v1h-1zM185 642h1v1h-1zM181 640h1v1h-1zM160 650h1v1h-1zM163 644h1v1h-1zM179 655h1v1h-1zM173 647h1v1h-1zM158 645h1v1h-1zM162 649h1v1h-1zM177 648h1v1h-1zM159 644h1v1h-1zM184 651h1v1h-1zM171 652h1v1h-1zM175 650h1v1h-1zM183 656h1v1h-1zM204 639h1v1h-1zM170 658h1v1h-1zM168 660h1v1h-1zM153 639h1v1h-1zM166 644h1v1h-1zM156 654h1v1h-1zM172 650h1v1h-1zM164 652h1v1h-1zM167 644h1v1h-1zM175 652h1v1h-1zM169 655h1v1h-1zM155 648h1v1h-1zM162 660h1v1h-1zM187 647h1v1h-1zM155 653h1v1h-1zM165 648h1v1h-1zM156 654h1v1h-1zM171 653h1v1h-1zM172 642h1v1h-1zM161 645h1v1h-1zM180 649h1v1h-1zM187 651h1v1h-1zM177 654h1v1h-1zM178 639h1v1h-1zM182 650h1v1h-1zM157 654h1v1h-1zM173 660h1v1h-1zM177 652h1v1h-1zM186 656h1v1h-1zM174 659h1v1h-1zM158 655h1v1h-1zM169 641h1v1h-1zM173 652h1v1h-1zM189 657h1v1h-1zM168 648h1v1h-1zM157 638h1v1h-1zM166 640h1v1h-1zM160 656h1v1h-1zM171 643h1v1h-1zM155 648h1v1h-1zM189 645h1v1h-1zM189 643h1v1h-1zM166 655h1v1h-1zM159 650h1v1h-1zM152 655h1v1h-1zM182 644h1v1h-1zM171 646h1v1h-1zM176 656h1v1h-1zM173 651h1v1h-1zM197 635h1v1h-1zM165 646h1v1h-1zM166 655h1v1h-1zM160 639h1v1h-1zM155 653h1v1h-1zM180 656h1v1h-1zM188 645h1v1h-1zM180 655h1v1h-1zM167 643h1v1h-1zM179 644h1v1h-1zM165 642h1v1h-1zM189 649h1v1h-1zM162 648h1v1h-1zM166 650h1v1h-1zM175 658h1v1h-1zM156 650h1v1h-1zM162 631h1v1h-1zM165 641h1v1h-1zM179 648h1v1h-1zM168 638h1v1h-1zM170 634h1v1h-1zM171 661h1v1h-1zM154 656h1v1h-1zM185 648h1v1h-1zM182 650h1v1h-1zM163 633h1v1h-1zM156 638h1v1h-1zM197 652h1v1h-1zM166 639h1v1h-1zM189 640h1v1h-1zM186 658h1v1h-1zM169 644h1v1h-1zM168 639h1v1h-1zM176 663h1v1h-1zM179 658h1v1h-1zM160 652h1v1h-1zM156 646h1v1h-1zM169 650h1v1h-1zM158 638h1v1h-1zM164 655h1v1h-1zM166 649h1v1h-1zM186 656h1v1h-1zM178 661h1v1h-1zM171 642h1v1h-1zM159 637h1v1h-1zM173 646h1v1h-1zM175 656h1v1h-1zM159 651h1v1h-1zM184 650h1v1h-1zM180 648h1v1h-1zM157 648h1v1h-1zM162 660h1v1h-1zM154 651h1v1h-1zM173 648h1v1h-1zM173 643h1v1h-1zM156 638h1v1h-1zM162 643h1v1h-1zM171 647h1v1h-1zM161 644h1v1h-1zM174 639h1v1h-1zM165 655h1v1h-1zM160 651h1v1h-1zM185 659h1v1h-1zM160 655h1v1h-1zM166 652h1v1h-1zM162 651h1v1h-1zM159 652h1v1h-1zM190 638h1v1h-1zM152 654h1v1h-1zM178 646h1v1h-1zM176 653h1v1h-1zM175 661h1v1h-1zM161 655h1v1h-1zM171 644h1v1h-1zM175 639h1v1h-1zM155 663h1v1h-1zM181 645h1v1h-1zM158 631h1v1h-1zM168 636h1v1h-1zM188 636h1v1h-1zM169 627h1v1h-1zM164 660h1v1h-1zM163 643h1v1h-1zM163 653h1v1h-1zM179 648h1v1h-1zM170 651h1v1h-1zM162 656h1v1h-1zM190 641h1v1h-1zM169 641h1v1h-1zM160 648h1v1h-1zM174 643h1v1h-1zM165 661h1v1h-1zM175 655h1v1h-1zM173 648h1v1h-1zM174 654h1v1h-1zM168 658h1v1h-1zM168 657h1v1h-1zM169 655h1v1h-1zM160 645h1v1h-1zM154 659h1v1h-1zM175 651h1v1h-1zM176 643h1v1h-1zM170 645h1v1h-1zM158 661h1v1h-1zM159 644h1v1h-1zM180 649h1v1h-1zM152 651h1v1h-1zM159 663h1v1h-1zM155 643h1v1h-1zM191 648h1v1h-1zM157 652h1v1h-1zM165 649h1v1h-1zM188 663h1v1h-1zM157 633h1v1h-1zM178 653h1v1h-1zM169 648h1v1h-1zM177 654h1v1h-1zM172 653h1v1h-1zM166 646h1v1h-1zM186 647h1v1h-1zM193 655h1v1h-1zM169 659h1v1h-1zM162 648h1v1h-1zM164 649h1v1h-1zM175 641h1v1h-1zM158 635h1v1h-1zM177 657h1v1h-1zM173 652h1v1h-1zM175 653h1v1h-1zM176 651h1v1h-1zM156 657h1v1h-1zM185 636h1v1h-1zM166 640h1v1h-1zM175 647h1v1h-1zM186 659h1v1h-1zM163 646h1v1h-1zM161 654h1v1h-1zM157 653h1v1h-1zM174 640h1v1h-1zM159 651h1v1h-1zM172 626h1v1h-1zM171 662h1v1h-1zM163 638h1v1h-1zM183 651h1v1h-1zM171 655h1v1h-1zM153 644h1v1h-1zM155 640h1v1h-1zM165 641h1v1h-1zM188 654h1v1h-1zM179 636h1v1h-1zM166 648h1v1h-1zM170 653h1v1h-1zM159 642h1v1h-1zM194 647h1v1h-1zM159 651h1v1h-1zM174 664h1v1h-1zM166 643h1v1h-1zM181 644h1v1h-1zM158 654h1v1h-1zM166 641h1v1h-1zM165 646h1v1h-1zM166 643h1v1h-1zM176 647h1v1h-1zM161 658h1v1h-1zM157 656h1v1h-1zM176 647h1v1h-1zM171 637h1v1h-1zM171 641h1v1h-1zM158 652h1v1h-1zM159 651h1v1h-1zM173 658h1v1h-1zM173 658h1v1h-1zM159 646h1v1h-1zM176 659h1v1h-1zM174 645h1v1h-1zM155 642h1v1h-1zM182 641h1v1h-1zM166 655h1v1h-1zM174 644h1v1h-1zM193 651h1v1h-1zM172 656h1v1h-1zM165 655h1v1h-1zM167 642h1v1h-1zM157 653h1v1h-1zM170 648h1v1h-1zM163 647h1v1h-1zM178 658h1v1h-1zM165 652h1v1h-1zM160 642h1v1h-1zM177 633h1v1h-1zM174 655h1v1h-1zM195 645h1v1h-1zM174 661h1v1h-1zM180 642h1v1h-1zM164 640h1v1h-1zM169 655h1v1h-1zM185 654h1v1h-1zM179 658h1v1h-1zM159 655h1v1h-1zM180 648h1v1h-1zM157 651h1v1h-1zM170 655h1v1h-1zM193 660h1v1h-1zM167 647h1v1h-1zM165 642h1v1h-1zM163 649h1v1h-1zM154 649h1v1h-1zM172 639h1v1h-1zM163 637h1v1h-1zM169 651h1v1h-1zM162 650h1v1h-1zM175 655h1v1h-1zM152 647h1v1h-1zM181 656h1v1h-1zM184 656h1v1h-1zM162 651h1v1h-1zM162 660h1v1h-1zM162 655h1v1h-1zM183 644h1v1h-1zM185 658h1v1h-1zM154 639h1v1h-1zM180 644h1v1h-1zM171 649h1v1h-1zM156 662h1v1h-1zM186 650h1v1h-1zM188 649h1v1h-1zM172 647h1v1h-1zM153 647h1v1h-1zM157 653h1v1h-1zM170 645h1v1h-1zM184 652h1v1h-1zM190 646h1v1h-1zM164 644h1v1h-1zM171 648h1v1h-1zM169 664h1v1h-1zM178 645h1v1h-1zM173 647h1v1h-1zM165 648h1v1h-1zM169 655h1v1h-1zM181 650h1v1h-1zM159 649h1v1h-1zM166 647h1v1h-1zM154 648h1v1h-1zM177 656h1v1h-1zM157 651h1v1h-1zM184 648h1v1h-1zM156 649h1v1h-1zM174 638h1v1h-1zM177 659h1v1h-1zM176 655h1v1h-1zM187 651h1v1h-1zM185 648h1v1h-1zM160 647h1v1h-1zM156 653h1v1h-1zM160 652h1v1h-1zM172 663h1v1h-1zM190 645h1v1h-1zM166 648h1v1h-1zM161 664h1v1h-1zM183 648h1v1h-1zM152 644h1v1h-1zM169 662h1v1h-1zM153 661h1v1h-1zM155 646h1v1h-1zM169 641h1v1h-1zM168 638h1v1h-1zM174 648h1v1h-1zM155 643h1v1h-1zM180 648h1v1h-1zM153 640h1v1h-1zM165 642h1v1h-1zM172 642h1v1h-1zM179 659h1v1h-1zM161 643h1v1h-1zM173 642h1v1h-1zM182 644h1v1h-1zM154 656h1v1h-1zM174 633h1v1h-1zM160 639h1v1h-1zM166 651h1v1h-1zM163 651h1v1h-1zM179 647h1v1h-1zM153 642h1v1h-1zM178 663h1v1h-1zM166 652h1v1h-1zM159 645h1v1h-1zM180 645h1v1h-1zM170 650h1v1h-1zM182 651h1v1h-1zM168 647h1v1h-1zM162 658h1v1h-1zM194 637h1v1h-1zM181 641h1v1h-1zM161 647h1v1h-1zM163 646h1v1h-1zM161 664h1v1h-1zM159 651h1v1h-1zM153 649h1v1h-1zM176 649h1v1h-1zM170 664h1v1h-1zM167 644h1v1h-1zM161 646h1v1h-1zM179 641h1v1h-1zM161 649h1v1h-1zM157 655h1v1h-1zM164 653h1v1h-1zM174 661h1v1h-1zM189 642h1v1h-1zM153 640h1v1h-1zM174 654h1v1h-1zM168 649h1v1h-1zM187 656h1v1h-1zM171 654h1v1h-1zM193 651h1v1h-1zM163 659h1v1h-1zM162 650h1v1h-1zM176 648h1v1h-1zM177 634h1v1h-1zM175 651h1v1h-1zM164 650h1v1h-1zM174 640h1v1h-1zM171 643h1v1h-1zM193 652h1v1h-1zM172 658h1v1h-1zM180 657h1v1h-1zM161 651h1v1h-1zM179 651h1v1h-1zM170 645h1v1h-1zM171 661h1v1h-1zM154 639h1v1h-1zM154 637h1v1h-1zM184 664h1v1h-1zM174 650h1v1h-1zM185 658h1v1h-1zM198 646h1v1h-1zM160 645h1v1h-1zM187 646h1v1h-1zM174 659h1v1h-1zM171 650h1v1h-1zM156 640h1v1h-1zM181 639h1v1h-1zM181 659h1v1h-1zM186 648h1v1h-1zM159 650h1v1h-1zM184 654h1v1h-1zM174 649h1v1h-1zM180 634h1v1h-1zM155 662h1v1h-1zM174 655h1v1h-1zM163 649h1v1h-1zM183 645h1v1h-1zM170 644h1v1h-1zM166 652h1v1h-1zM173 657h1v1h-1zM154 656h1v1h-1zM174 643h1v1h-1zM184 644h1v1h-1zM164 654h1v1h-1zM185 646h1v1h-1zM186 653h1v1h-1zM159 655h1v1h-1zM169 644h1v1h-1zM167 659h1v1h-1zM173 648h1v1h-1zM178 638h1v1h-1zM176 660h1v1h-1zM155 641h1v1h-1zM158 648h1v1h-1zM160 649h1v1h-1zM157 652h1v1h-1zM175 653h1v1h-1zM162 656h1v1h-1zM168 660h1v1h-1zM164 654h1v1h-1zM189 643h1v1h-1zM172 654h1v1h-1zM177 654h1v1h-1zM167 650h1v1h-1zM152 655h1v1h-1zM172 645h1v1h-1zM190 650h1v1h-1zM161 654h1v1h-1zM174 655h1v1h-1zM168 656h1v1h-1zM170 659h1v1h-1zM172 643h1v1h-1zM157 654h1v1h-1zM180 638h1v1h-1zM176 649h1v1h-1zM172 643h1v1h-1zM155 645h1v1h-1zM159 646h1v1h-1zM170 650h1v1h-1zM191 642h1v1h-1zM163 650h1v1h-1zM176 641h1v1h-1zM152 652h1v1h-1zM173 654h1v1h-1zM176 638h1v1h-1zM181 649h1v1h-1zM193 647h1v1h-1zM171 652h1v1h-1zM171 645h1v1h-1zM165 644h1v1h-1zM169 647h1v1h-1zM159 648h1v1h-1zM188 649h1v1h-1zM175 633h1v1h-1zM183 645h1v1h-1zM175 641h1v1h-1zM168 656h1v1h-1zM168 651h1v1h-1zM160 644h1v1h-1zM172 648h1v1h-1zM170 644h1v1h-1zM164 655h1v1h-1zM185 646h1v1h-1zM161 651h1v1h-1zM179 652h1v1h-1zM181 648h1v1h-1zM157 635h1v1h-1zM179 652h1v1h-1zM161 652h1v1h-1zM155 658h1v1h-1zM181 659h1v1h-1zM163 661h1v1h-1zM178 662h1v1h-1zM184 647h1v1h-1zM180 651h1v1h-1zM186 648h1v1h-1zM169 640h1v1h-1zM193 643h1v1h-1zM156 643h1v1h-1zM170 650h1v1h-1zM174 662h1v1h-1zM180 638h1v1h-1zM171 648h1v1h-1zM178 651h1v1h-1zM184 651h1v1h-1zM192 642h1v1h-1zM182 657h1v1h-1zM160 639h1v1h-1zM161 653h1v1h-1zM188 638h1v1h-1zM165 640h1v1h-1zM178 651h1v1h-1zM169 655h1v1h-1zM172 661h1v1h-1zM165 645h1v1h-1zM169 649h1v1h-1zM184 647h1v1h-1zM163 644h1v1h-1zM160 634h1v1h-1zM170 654h1v1h-1zM171 644h1v1h-1zM180 655h1v1h-1zM172 655h1v1h-1zM167 653h1v1h-1zM175 640h1v1h-1zM163 644h1v1h-1zM173 629h1v1h-1zM172 649h1v1h-1zM167 653h1v1h-1zM160 645h1v1h-1zM185 647h1v1h-1zM181 649h1v1h-1zM165 647h1v1h-1zM152 647h1v1h-1zM170 661h1v1h-1zM178 656h1v1h-1zM158 644h1v1h-1zM173 654h1v1h-1zM156 658h1v1h-1zM161 652h1v1h-1zM163 655h1v1h-1zM179 658h1v1h-1zM158 651h1v1h-1zM195 650h1v1h-1zM174 651h1v1h-1zM163 663h1v1h-1zM187 644h1v1h-1zM175 664h1v1h-1zM174 650h1v1h-1zM180 656h1v1h-1zM154 643h1v1h-1zM187 645h1v1h-1zM168 645h1v1h-1zM191 640h1v1h-1zM171 647h1v1h-1zM165 640h1v1h-1zM159 648h1v1h-1zM172 635h1v1h-1zM170 643h1v1h-1zM168 646h1v1h-1zM167 648h1v1h-1zM174 650h1v1h-1zM152 652h1v1h-1zM190 647h1v1h-1zM166 652h1v1h-1zM176 645h1v1h-1zM170 634h1v1h-1zM172 654h1v1h-1zM191 629h1v1h-1zM166 661h1v1h-1zM177 644h1v1h-1zM161 647h1v1h-1zM177 643h1v1h-1zM159 663h1v1h-1zM156 652h1v1h-1zM166 638h1v1h-1zM162 634h1v1h-1zM173 642h1v1h-1zM154 637h1v1h-1zM185 654h1v1h-1zM156 648h1v1h-1zM176 654h1v1h-1zM168 633h1v1h-1zM189 648h1v1h-1zM185 639h1v1h-1zM178 660h1v1h-1zM182 640h1v1h-1zM165 662h1v1h-1zM159 655h1v1h-1zM166 638h1v1h-1zM180 658h1v1h-1zM176 651h1v1h-1zM181 634h1v1h-1zM168 663h1v1h-1zM174 658h1v1h-1zM166 652h1v1h-1zM155 654h1v1h-1zM172 647h1v1h-1zM168 650h1v1h-1zM171 656h1v1h-1zM181 632h1v1h-1zM172 658h1v1h-1zM155 648h1v1h-1zM197 645h1v1h-1zM180 651h1v1h-1zM179 655h1v1h-1zM172 645h1v1h-1zM176 659h1v1h-1zM178 657h1v1h-1zM174 653h1v1h-1zM158 662h1v1h-1zM156 642h1v1h-1zM160 644h1v1h-1zM184 648h1v1h-1zM165 647h1v1h-1zM169 660h1v1h-1zM186 646h1v1h-1zM189 654h1v1h-1zM172 660h1v1h-1zM170 652h1v1h-1zM170 640h1v1h-1zM154 642h1v1h-1zM158 645h1v1h-1zM162 658h1v1h-1zM169 656h1v1h-1zM173 643h1v1h-1zM165 638h1v1h-1zM168 650h1v1h-1zM180 639h1v1h-1zM167 632h1v1h-1zM158 654h1v1h-1zM165 663h1v1h-1zM177 648h1v1h-1zM176 650h1v1h-1zM163 645h1v1h-1zM174 648h1v1h-1zM177 645h1v1h-1zM178 646h1v1h-1zM182 657h1v1h-1zM173 644h1v1h-1zM153 650h1v1h-1zM170 643h1v1h-1zM155 646h1v1h-1zM155 644h1v1h-1zM158 653h1v1h-1zM163 649h1v1h-1zM152 658h1v1h-1zM166 647h1v1h-1zM157 654h1v1h-1zM174 644h1v1h-1zM188 642h1v1h-1zM182 651h1v1h-1zM152 647h1v1h-1zM175 646h1v1h-1zM169 649h1v1h-1zM173 644h1v1h-1zM190 652h1v1h-1zM186 647h1v1h-1zM171 642h1v1h-1zM169 661h1v1h-1zM172 644h1v1h-1zM162 654h1v1h-1zM171 650h1v1h-1zM177 662h1v1h-1zM160 634h1v1h-1zM166 649h1v1h-1zM178 654h1v1h-1zM176 654h1v1h-1zM186 647h1v1h-1zM158 653h1v1h-1zM180 653h1v1h-1zM178 657h1v1h-1zM173 642h1v1h-1zM163 635h1v1h-1zM179 645h1v1h-1zM159 650h1v1h-1zM159 635h1v1h-1zM180 649h1v1h-1zM168 656h1v1h-1zM166 655h1v1h-1zM183 644h1v1h-1zM174 651h1v1h-1zM157 662h1v1h-1zM170 655h1v1h-1zM173 648h1v1h-1zM154 649h1v1h-1zM158 661h1v1h-1zM174 645h1v1h-1zM164 658h1v1h-1zM152 651h1v1h-1zM170 642h1v1h-1zM181 646h1v1h-1zM181 651h1v1h-1zM161 649h1v1h-1zM180 642h1v1h-1zM159 649h1v1h-1zM175 654h1v1h-1zM157 640h1v1h-1zM167 648h1v1h-1zM172 637h1v1h-1zM162 641h1v1h-1zM187 633h1v1h-1zM157 645h1v1h-1zM159 637h1v1h-1zM163 660h1v1h-1zM170 660h1v1h-1zM183 650h1v1h-1zM165 632h1v1h-1zM169 651h1v1h-1zM158 647h1v1h-1zM156 656h1v1h-1zM169 634h1v1h-1zM161 659h1v1h-1zM156 641h1v1h-1zM157 645h1v1h-1zM169 648h1v1h-1zM170 645h1v1h-1zM176 660h1v1h-1zM158 652h1v1h-1zM172 651h1v1h-1zM168 653h1v1h-1zM166 644h1v1h-1zM159 655h1v1h-1zM162 635h1v1h-1zM163 645h1v1h-1zM178 657h1v1h-1zM156 659h1v1h-1zM172 661h1v1h-1zM162 655h1v1h-1zM177 662h1v1h-1zM153 649h1v1h-1zM170 648h1v1h-1zM158 647h1v1h-1zM169 658h1v1h-1zM163 651h1v1h-1zM168 650h1v1h-1zM152 649h1v1h-1zM199 649h1v1h-1zM174 652h1v1h-1zM166 648h1v1h-1zM157 655h1v1h-1zM153 658h1v1h-1zM168 646h1v1h-1zM173 638h1v1h-1zM188 648h1v1h-1zM156 642h1v1h-1zM152 642h1v1h-1zM165 641h1v1h-1zM171 641h1v1h-1zM167 632h1v1h-1zM162 649h1v1h-1zM175 646h1v1h-1zM169 652h1v1h-1zM158 653h1v1h-1zM172 645h1v1h-1zM154 659h1v1h-1zM181 651h1v1h-1zM181 661h1v1h-1zM166 654h1v1h-1zM175 653h1v1h-1zM167 646h1v1h-1zM177 651h1v1h-1zM187 653h1v1h-1zM169 640h1v1h-1zM167 651h1v1h-1zM167 644h1v1h-1zM170 662h1v1h-1zM155 653h1v1h-1zM153 657h1v1h-1zM204 664h1v1h-1zM194 654h1v1h-1zM198 642h1v1h-1zM212 653h1v1h-1zM190 644h1v1h-1zM202 658h1v1h-1zM194 657h1v1h-1zM208 634h1v1h-1zM204 656h1v1h-1zM213 658h1v1h-1zM197 644h1v1h-1zM196 654h1v1h-1zM207 647h1v1h-1zM196 653h1v1h-1zM214 652h1v1h-1zM200 653h1v1h-1zM213 653h1v1h-1zM193 657h1v1h-1zM207 648h1v1h-1zM198 649h1v1h-1zM195 648h1v1h-1zM190 660h1v1h-1zM220 655h1v1h-1zM186 656h1v1h-1zM191 648h1v1h-1zM187 650h1v1h-1zM203 654h1v1h-1zM202 659h1v1h-1zM206 664h1v1h-1zM212 652h1v1h-1zM210 663h1v1h-1zM213 658h1v1h-1zM188 657h1v1h-1zM217 649h1v1h-1zM193 659h1v1h-1zM205 655h1v1h-1zM209 647h1v1h-1zM212 646h1v1h-1zM204 657h1v1h-1zM198 659h1v1h-1zM205 654h1v1h-1zM195 656h1v1h-1zM209 659h1v1h-1zM200 653h1v1h-1zM216 658h1v1h-1zM214 657h1v1h-1zM200 657h1v1h-1zM203 650h1v1h-1zM196 651h1v1h-1zM213 654h1v1h-1zM208 656h1v1h-1zM192 645h1v1h-1zM209 660h1v1h-1zM195 648h1v1h-1zM204 659h1v1h-1zM207 641h1v1h-1zM211 655h1v1h-1zM186 652h1v1h-1zM201 650h1v1h-1zM214 652h1v1h-1zM205 649h1v1h-1zM212 633h1v1h-1zM212 646h1v1h-1zM212 645h1v1h-1zM213 648h1v1h-1zM191 664h1v1h-1zM204 656h1v1h-1zM217 649h1v1h-1zM202 651h1v1h-1zM187 648h1v1h-1zM194 639h1v1h-1zM205 643h1v1h-1zM204 645h1v1h-1zM210 657h1v1h-1zM216 646h1v1h-1zM198 660h1v1h-1zM194 658h1v1h-1zM207 654h1v1h-1zM203 640h1v1h-1zM201 655h1v1h-1zM210 635h1v1h-1zM197 646h1v1h-1zM201 652h1v1h-1zM213 646h1v1h-1zM197 656h1v1h-1zM205 659h1v1h-1zM196 648h1v1h-1zM210 644h1v1h-1zM196 656h1v1h-1zM191 657h1v1h-1zM196 642h1v1h-1zM200 649h1v1h-1zM207 651h1v1h-1zM220 648h1v1h-1zM190 644h1v1h-1zM204 642h1v1h-1zM216 646h1v1h-1zM204 663h1v1h-1zM217 640h1v1h-1zM207 642h1v1h-1zM211 640h1v1h-1zM212 639h1v1h-1zM220 647h1v1h-1zM193 654h1v1h-1zM201 641h1v1h-1zM202 648h1v1h-1zM219 651h1v1h-1zM204 652h1v1h-1zM209 652h1v1h-1zM192 663h1v1h-1zM217 635h1v1h-1zM207 657h1v1h-1zM211 655h1v1h-1zM191 648h1v1h-1zM216 650h1v1h-1zM216 662h1v1h-1zM199 645h1v1h-1zM208 655h1v1h-1zM205 653h1v1h-1zM211 651h1v1h-1zM187 653h1v1h-1zM197 641h1v1h-1zM210 662h1v1h-1zM216 652h1v1h-1zM212 641h1v1h-1zM193 652h1v1h-1zM208 642h1v1h-1zM203 639h1v1h-1zM213 656h1v1h-1zM192 657h1v1h-1zM188 645h1v1h-1zM213 657h1v1h-1zM201 646h1v1h-1zM195 654h1v1h-1zM201 660h1v1h-1zM208 649h1v1h-1zM212 648h1v1h-1zM201 648h1v1h-1zM207 654h1v1h-1zM209 654h1v1h-1zM198 639h1v1h-1zM205 646h1v1h-1zM186 647h1v1h-1zM211 658h1v1h-1zM218 647h1v1h-1zM187 645h1v1h-1zM208 648h1v1h-1zM198 651h1v1h-1zM196 647h1v1h-1zM200 645h1v1h-1zM218 655h1v1h-1zM203 648h1v1h-1zM204 650h1v1h-1zM212 646h1v1h-1zM206 635h1v1h-1zM219 637h1v1h-1zM190 650h1v1h-1zM195 648h1v1h-1zM213 658h1v1h-1zM197 645h1v1h-1zM203 650h1v1h-1zM193 657h1v1h-1zM219 656h1v1h-1zM215 650h1v1h-1zM212 651h1v1h-1zM204 646h1v1h-1zM214 647h1v1h-1zM187 636h1v1h-1zM197 647h1v1h-1zM220 657h1v1h-1zM219 657h1v1h-1zM213 643h1v1h-1zM215 654h1v1h-1zM220 661h1v1h-1zM191 645h1v1h-1zM215 654h1v1h-1zM202 656h1v1h-1zM208 657h1v1h-1zM205 664h1v1h-1zM195 654h1v1h-1zM187 644h1v1h-1zM207 644h1v1h-1zM189 663h1v1h-1zM203 653h1v1h-1zM186 649h1v1h-1zM202 650h1v1h-1zM210 653h1v1h-1zM211 659h1v1h-1zM195 650h1v1h-1zM210 650h1v1h-1zM194 631h1v1h-1zM213 661h1v1h-1zM192 654h1v1h-1zM203 645h1v1h-1zM195 661h1v1h-1zM193 653h1v1h-1zM200 648h1v1h-1zM203 656h1v1h-1zM208 656h1v1h-1zM188 657h1v1h-1zM219 652h1v1h-1zM192 650h1v1h-1zM186 656h1v1h-1zM202 637h1v1h-1zM202 649h1v1h-1zM192 648h1v1h-1zM187 653h1v1h-1zM199 653h1v1h-1zM220 649h1v1h-1zM215 661h1v1h-1zM196 651h1v1h-1zM212 657h1v1h-1zM215 658h1v1h-1zM204 652h1v1h-1zM216 647h1v1h-1zM191 647h1v1h-1zM218 660h1v1h-1zM190 649h1v1h-1zM194 663h1v1h-1zM199 661h1v1h-1zM197 651h1v1h-1zM188 649h1v1h-1zM195 642h1v1h-1zM186 648h1v1h-1zM209 650h1v1h-1zM216 646h1v1h-1zM202 660h1v1h-1zM209 647h1v1h-1zM216 663h1v1h-1zM219 650h1v1h-1zM200 649h1v1h-1zM198 656h1v1h-1zM217 649h1v1h-1zM189 656h1v1h-1zM211 658h1v1h-1zM191 648h1v1h-1zM212 656h1v1h-1zM202 646h1v1h-1zM199 641h1v1h-1zM218 649h1v1h-1zM197 661h1v1h-1zM202 649h1v1h-1zM215 652h1v1h-1zM217 660h1v1h-1zM215 657h1v1h-1zM208 645h1v1h-1zM213 652h1v1h-1zM203 638h1v1h-1zM186 642h1v1h-1zM195 653h1v1h-1zM210 650h1v1h-1zM196 652h1v1h-1zM195 654h1v1h-1zM198 644h1v1h-1zM206 641h1v1h-1zM191 636h1v1h-1zM194 649h1v1h-1zM210 653h1v1h-1zM205 657h1v1h-1zM215 647h1v1h-1zM206 650h1v1h-1zM187 651h1v1h-1zM197 643h1v1h-1zM207 646h1v1h-1zM206 658h1v1h-1zM213 658h1v1h-1zM192 656h1v1h-1zM215 649h1v1h-1zM193 661h1v1h-1zM205 641h1v1h-1zM209 652h1v1h-1zM197 642h1v1h-1zM212 659h1v1h-1zM216 647h1v1h-1zM198 641h1v1h-1zM197 655h1v1h-1zM213 653h1v1h-1zM200 647h1v1h-1zM216 650h1v1h-1zM214 651h1v1h-1zM192 637h1v1h-1zM212 655h1v1h-1zM212 657h1v1h-1zM190 652h1v1h-1zM220 652h1v1h-1zM210 656h1v1h-1zM213 650h1v1h-1zM217 643h1v1h-1zM207 664h1v1h-1zM186 655h1v1h-1zM220 643h1v1h-1zM194 647h1v1h-1zM216 646h1v1h-1zM188 658h1v1h-1zM209 657h1v1h-1zM214 643h1v1h-1zM205 639h1v1h-1zM192 647h1v1h-1zM199 655h1v1h-1zM217 641h1v1h-1zM211 647h1v1h-1zM193 643h1v1h-1zM213 654h1v1h-1zM199 647h1v1h-1zM201 651h1v1h-1zM190 649h1v1h-1zM218 652h1v1h-1zM191 644h1v1h-1zM186 660h1v1h-1zM188 664h1v1h-1zM215 657h1v1h-1zM193 663h1v1h-1zM210 653h1v1h-1zM194 643h1v1h-1zM203 652h1v1h-1zM206 648h1v1h-1zM217 658h1v1h-1zM217 660h1v1h-1zM220 637h1v1h-1zM186 651h1v1h-1zM215 654h1v1h-1zM191 653h1v1h-1zM193 647h1v1h-1zM197 656h1v1h-1zM192 648h1v1h-1zM213 651h1v1h-1zM202 661h1v1h-1zM210 646h1v1h-1zM190 652h1v1h-1zM215 652h1v1h-1zM206 657h1v1h-1zM219 647h1v1h-1zM197 656h1v1h-1zM201 659h1v1h-1zM205 647h1v1h-1zM197 647h1v1h-1zM214 658h1v1h-1zM217 653h1v1h-1zM218 647h1v1h-1zM196 648h1v1h-1zM189 659h1v1h-1zM204 655h1v1h-1zM219 650h1v1h-1zM200 651h1v1h-1zM189 660h1v1h-1zM197 652h1v1h-1zM211 646h1v1h-1zM195 652h1v1h-1zM206 640h1v1h-1zM202 652h1v1h-1zM203 655h1v1h-1zM198 653h1v1h-1zM189 649h1v1h-1zM197 641h1v1h-1zM208 648h1v1h-1zM194 661h1v1h-1zM190 656h1v1h-1zM213 641h1v1h-1zM201 641h1v1h-1zM202 649h1v1h-1zM215 649h1v1h-1zM206 651h1v1h-1zM195 649h1v1h-1zM191 648h1v1h-1zM218 658h1v1h-1zM202 645h1v1h-1zM200 649h1v1h-1zM188 648h1v1h-1zM193 644h1v1h-1zM204 653h1v1h-1zM215 648h1v1h-1zM202 651h1v1h-1zM193 651h1v1h-1zM210 651h1v1h-1zM213 645h1v1h-1zM209 649h1v1h-1zM201 648h1v1h-1zM214 652h1v1h-1zM186 647h1v1h-1zM208 646h1v1h-1zM190 642h1v1h-1zM203 650h1v1h-1zM190 648h1v1h-1zM200 647h1v1h-1zM205 658h1v1h-1zM188 648h1v1h-1zM212 664h1v1h-1zM208 661h1v1h-1zM189 655h1v1h-1zM193 651h1v1h-1zM196 657h1v1h-1zM213 656h1v1h-1zM198 648h1v1h-1zM191 653h1v1h-1zM189 658h1v1h-1zM202 640h1v1h-1zM206 643h1v1h-1zM193 658h1v1h-1zM198 650h1v1h-1zM220 645h1v1h-1zM202 660h1v1h-1zM216 652h1v1h-1zM192 643h1v1h-1zM216 655h1v1h-1zM186 651h1v1h-1zM210 649h1v1h-1zM218 651h1v1h-1zM195 650h1v1h-1zM202 657h1v1h-1zM194 647h1v1h-1zM212 649h1v1h-1zM207 632h1v1h-1zM212 655h1v1h-1zM187 648h1v1h-1zM214 641h1v1h-1zM215 642h1v1h-1zM190 650h1v1h-1zM213 653h1v1h-1zM194 651h1v1h-1zM188 653h1v1h-1zM218 658h1v1h-1zM193 644h1v1h-1zM219 652h1v1h-1zM209 649h1v1h-1zM195 653h1v1h-1zM190 657h1v1h-1zM192 651h1v1h-1zM187 657h1v1h-1zM203 659h1v1h-1zM206 651h1v1h-1zM206 647h1v1h-1zM206 659h1v1h-1zM193 650h1v1h-1zM193 648h1v1h-1zM196 639h1v1h-1zM214 658h1v1h-1zM189 649h1v1h-1zM218 651h1v1h-1zM203 649h1v1h-1zM198 652h1v1h-1zM189 648h1v1h-1zM207 652h1v1h-1zM204 663h1v1h-1zM207 645h1v1h-1zM213 641h1v1h-1zM207 659h1v1h-1zM215 659h1v1h-1zM217 644h1v1h-1zM186 659h1v1h-1zM203 648h1v1h-1zM194 648h1v1h-1zM198 660h1v1h-1zM186 649h1v1h-1zM220 655h1v1h-1zM189 649h1v1h-1zM220 640h1v1h-1zM211 650h1v1h-1zM217 642h1v1h-1zM215 633h1v1h-1zM206 651h1v1h-1zM200 649h1v1h-1zM205 661h1v1h-1zM196 644h1v1h-1zM216 653h1v1h-1zM190 659h1v1h-1zM205 655h1v1h-1zM187 648h1v1h-1zM192 653h1v1h-1zM213 656h1v1h-1zM203 652h1v1h-1zM214 653h1v1h-1zM203 643h1v1h-1zM214 640h1v1h-1zM201 648h1v1h-1zM190 656h1v1h-1zM205 649h1v1h-1zM209 645h1v1h-1zM188 652h1v1h-1zM201 659h1v1h-1zM201 656h1v1h-1zM188 647h1v1h-1zM195 657h1v1h-1zM219 651h1v1h-1zM187 654h1v1h-1zM188 650h1v1h-1zM201 652h1v1h-1zM218 651h1v1h-1zM204 662h1v1h-1zM192 650h1v1h-1zM201 652h1v1h-1zM189 657h1v1h-1zM199 657h1v1h-1zM192 655h1v1h-1zM219 656h1v1h-1zM219 651h1v1h-1zM202 653h1v1h-1zM217 653h1v1h-1zM195 657h1v1h-1zM204 654h1v1h-1zM196 643h1v1h-1zM203 659h1v1h-1zM188 663h1v1h-1zM192 659h1v1h-1zM199 644h1v1h-1zM204 634h1v1h-1zM212 642h1v1h-1zM202 643h1v1h-1zM193 642h1v1h-1zM191 649h1v1h-1zM206 645h1v1h-1zM203 653h1v1h-1zM198 638h1v1h-1zM202 657h1v1h-1zM214 652h1v1h-1zM203 645h1v1h-1zM210 637h1v1h-1zM219 655h1v1h-1zM207 648h1v1h-1zM186 642h1v1h-1zM211 640h1v1h-1zM216 641h1v1h-1zM194 646h1v1h-1zM195 655h1v1h-1zM213 653h1v1h-1zM189 652h1v1h-1zM215 646h1v1h-1zM219 660h1v1h-1zM209 654h1v1h-1zM202 660h1v1h-1zM210 653h1v1h-1zM204 656h1v1h-1zM186 659h1v1h-1zM192 647h1v1h-1zM198 658h1v1h-1zM195 654h1v1h-1zM191 650h1v1h-1zM212 646h1v1h-1zM215 664h1v1h-1zM203 647h1v1h-1zM212 646h1v1h-1zM220 647h1v1h-1zM218 647h1v1h-1zM186 652h1v1h-1zM193 634h1v1h-1zM208 657h1v1h-1zM219 656h1v1h-1zM189 653h1v1h-1zM191 655h1v1h-1zM193 661h1v1h-1zM203 649h1v1h-1zM214 641h1v1h-1zM197 636h1v1h-1zM204 657h1v1h-1zM218 648h1v1h-1zM199 645h1v1h-1zM190 654h1v1h-1zM198 648h1v1h-1zM205 638h1v1h-1zM188 643h1v1h-1zM207 646h1v1h-1zM195 659h1v1h-1zM194 655h1v1h-1zM214 653h1v1h-1zM212 649h1v1h-1zM201 644h1v1h-1zM216 655h1v1h-1zM201 646h1v1h-1zM220 655h1v1h-1zM204 641h1v1h-1zM211 641h1v1h-1zM194 646h1v1h-1zM200 651h1v1h-1zM210 652h1v1h-1zM207 652h1v1h-1zM211 664h1v1h-1zM212 646h1v1h-1zM209 648h1v1h-1zM194 639h1v1h-1zM203 649h1v1h-1zM216 655h1v1h-1zM199 645h1v1h-1zM195 649h1v1h-1zM215 652h1v1h-1zM194 655h1v1h-1zM198 653h1v1h-1zM197 647h1v1h-1zM193 647h1v1h-1zM202 643h1v1h-1zM199 651h1v1h-1zM205 658h1v1h-1zM210 651h1v1h-1zM201 650h1v1h-1zM214 645h1v1h-1zM220 649h1v1h-1zM187 640h1v1h-1zM209 650h1v1h-1zM212 648h1v1h-1zM214 658h1v1h-1zM192 648h1v1h-1zM193 660h1v1h-1zM220 652h1v1h-1zM198 648h1v1h-1zM212 651h1v1h-1zM198 649h1v1h-1zM210 664h1v1h-1zM206 651h1v1h-1zM210 648h1v1h-1zM206 647h1v1h-1zM201 647h1v1h-1zM189 644h1v1h-1zM205 654h1v1h-1zM203 645h1v1h-1zM220 646h1v1h-1zM191 645h1v1h-1zM213 642h1v1h-1zM192 651h1v1h-1zM207 662h1v1h-1zM197 655h1v1h-1zM195 645h1v1h-1zM202 654h1v1h-1zM219 663h1v1h-1zM211 649h1v1h-1zM219 650h1v1h-1zM216 657h1v1h-1zM188 642h1v1h-1zM197 642h1v1h-1zM193 652h1v1h-1zM216 640h1v1h-1zM216 652h1v1h-1zM194 655h1v1h-1zM190 660h1v1h-1zM186 663h1v1h-1zM215 654h1v1h-1zM199 643h1v1h-1zM196 653h1v1h-1zM197 647h1v1h-1zM210 655h1v1h-1zM205 654h1v1h-1zM212 654h1v1h-1zM202 659h1v1h-1zM206 643h1v1h-1zM194 645h1v1h-1zM212 646h1v1h-1zM220 650h1v1h-1zM199 654h1v1h-1zM212 659h1v1h-1zM208 656h1v1h-1zM219 652h1v1h-1zM204 660h1v1h-1zM213 655h1v1h-1zM217 660h1v1h-1zM189 659h1v1h-1zM208 650h1v1h-1zM192 651h1v1h-1zM200 646h1v1h-1zM195 632h1v1h-1zM195 649h1v1h-1zM206 644h1v1h-1zM215 652h1v1h-1zM198 644h1v1h-1zM210 643h1v1h-1zM203 645h1v1h-1zM211 653h1v1h-1zM200 664h1v1h-1zM200 664h1v1h-1zM205 656h1v1h-1zM208 650h1v1h-1zM204 654h1v1h-1zM203 656h1v1h-1zM187 664h1v1h-1zM215 654h1v1h-1zM219 650h1v1h-1zM218 647h1v1h-1zM214 657h1v1h-1zM188 652h1v1h-1zM207 651h1v1h-1zM187 641h1v1h-1zM204 655h1v1h-1zM198 651h1v1h-1zM195 655h1v1h-1zM193 652h1v1h-1zM192 655h1v1h-1zM200 661h1v1h-1zM196 658h1v1h-1zM213 641h1v1h-1zM211 647h1v1h-1zM198 651h1v1h-1zM215 650h1v1h-1zM211 657h1v1h-1zM191 649h1v1h-1zM211 658h1v1h-1zM197 664h1v1h-1zM216 657h1v1h-1zM214 654h1v1h-1zM188 651h1v1h-1zM205 645h1v1h-1zM192 652h1v1h-1zM189 654h1v1h-1zM192 653h1v1h-1zM195 646h1v1h-1zM218 651h1v1h-1zM188 642h1v1h-1zM213 652h1v1h-1zM202 649h1v1h-1zM195 649h1v1h-1zM215 660h1v1h-1zM218 653h1v1h-1zM218 660h1v1h-1zM190 655h1v1h-1zM220 644h1v1h-1zM190 655h1v1h-1zM187 646h1v1h-1zM191 654h1v1h-1zM211 636h1v1h-1zM209 646h1v1h-1zM199 654h1v1h-1zM188 655h1v1h-1zM217 656h1v1h-1zM217 648h1v1h-1zM209 658h1v1h-1zM220 657h1v1h-1zM230 628h1v1h-1zM223 627h1v1h-1zM215 645h1v1h-1zM229 627h1v1h-1zM233 664h1v1h-1zM234 643h1v1h-1zM220 650h1v1h-1zM237 626h1v1h-1zM228 656h1v1h-1zM231 615h1v1h-1zM233 646h1v1h-1zM233 642h1v1h-1zM238 650h1v1h-1zM249 646h1v1h-1zM235 645h1v1h-1zM224 645h1v1h-1zM232 623h1v1h-1zM250 648h1v1h-1zM239 649h1v1h-1zM232 651h1v1h-1zM244 654h1v1h-1zM228 654h1v1h-1zM238 638h1v1h-1zM234 649h1v1h-1zM230 648h1v1h-1zM228 636h1v1h-1zM228 634h1v1h-1zM255 657h1v1h-1zM231 630h1v1h-1zM239 657h1v1h-1zM219 641h1v1h-1zM243 650h1v1h-1zM245 638h1v1h-1zM229 638h1v1h-1zM223 632h1v1h-1zM231 648h1v1h-1zM214 649h1v1h-1zM230 636h1v1h-1zM218 658h1v1h-1zM240 640h1v1h-1zM225 645h1v1h-1zM224 624h1v1h-1zM224 662h1v1h-1zM219 645h1v1h-1zM230 629h1v1h-1zM237 647h1v1h-1zM241 655h1v1h-1zM210 652h1v1h-1zM233 649h1v1h-1zM238 645h1v1h-1zM234 635h1v1h-1zM225 643h1v1h-1zM229 662h1v1h-1zM242 645h1v1h-1zM238 641h1v1h-1zM220 646h1v1h-1zM230 651h1v1h-1zM232 644h1v1h-1zM233 657h1v1h-1zM234 646h1v1h-1zM241 630h1v1h-1zM212 640h1v1h-1zM237 628h1v1h-1zM223 658h1v1h-1zM227 653h1v1h-1zM232 645h1v1h-1zM235 626h1v1h-1zM236 635h1v1h-1zM228 630h1v1h-1zM230 656h1v1h-1zM243 658h1v1h-1zM231 641h1v1h-1zM228 628h1v1h-1zM253 656h1v1h-1zM241 644h1v1h-1zM231 645h1v1h-1zM233 627h1v1h-1zM232 649h1v1h-1zM220 656h1v1h-1zM227 658h1v1h-1zM230 638h1v1h-1zM228 642h1v1h-1zM234 633h1v1h-1zM238 637h1v1h-1zM224 651h1v1h-1zM218 651h1v1h-1zM231 646h1v1h-1zM229 639h1v1h-1zM236 653h1v1h-1zM226 646h1v1h-1zM237 640h1v1h-1zM237 640h1v1h-1zM247 646h1v1h-1zM230 646h1v1h-1zM221 631h1v1h-1zM222 654h1v1h-1zM238 644h1v1h-1zM214 622h1v1h-1zM241 654h1v1h-1zM219 641h1v1h-1zM219 642h1v1h-1zM244 658h1v1h-1zM219 641h1v1h-1zM232 632h1v1h-1zM240 631h1v1h-1zM231 649h1v1h-1zM229 621h1v1h-1zM228 653h1v1h-1zM223 620h1v1h-1zM229 642h1v1h-1zM222 645h1v1h-1zM235 660h1v1h-1zM224 640h1v1h-1zM228 641h1v1h-1zM238 639h1v1h-1zM223 664h1v1h-1zM210 628h1v1h-1zM235 627h1v1h-1zM244 641h1v1h-1zM241 650h1v1h-1zM222 646h1v1h-1zM254 640h1v1h-1zM229 624h1v1h-1zM240 645h1v1h-1zM226 646h1v1h-1zM233 643h1v1h-1zM245 616h1v1h-1zM231 647h1v1h-1zM228 647h1v1h-1zM241 640h1v1h-1zM236 661h1v1h-1zM221 643h1v1h-1zM243 628h1v1h-1zM240 621h1v1h-1zM233 663h1v1h-1zM227 649h1v1h-1zM229 632h1v1h-1zM231 658h1v1h-1zM223 653h1v1h-1zM233 626h1v1h-1zM230 655h1v1h-1zM237 644h1v1h-1zM225 654h1v1h-1zM240 655h1v1h-1zM228 638h1v1h-1zM228 660h1v1h-1zM235 643h1v1h-1zM229 623h1v1h-1zM230 611h1v1h-1zM231 652h1v1h-1zM240 642h1v1h-1zM228 632h1v1h-1zM230 643h1v1h-1zM235 646h1v1h-1zM234 641h1v1h-1zM229 649h1v1h-1zM224 632h1v1h-1zM236 627h1v1h-1zM232 637h1v1h-1zM212 654h1v1h-1zM218 653h1v1h-1zM225 642h1v1h-1zM234 643h1v1h-1zM223 630h1v1h-1zM233 641h1v1h-1zM226 638h1v1h-1zM230 642h1v1h-1zM222 647h1v1h-1zM231 653h1v1h-1zM231 630h1v1h-1zM225 652h1v1h-1zM224 634h1v1h-1zM224 621h1v1h-1zM236 644h1v1h-1zM221 646h1v1h-1zM236 651h1v1h-1zM235 654h1v1h-1zM230 648h1v1h-1zM228 627h1v1h-1zM232 651h1v1h-1zM226 660h1v1h-1zM241 656h1v1h-1zM237 642h1v1h-1zM233 659h1v1h-1zM234 638h1v1h-1zM239 649h1v1h-1zM228 648h1v1h-1zM232 641h1v1h-1zM228 637h1v1h-1zM237 651h1v1h-1zM226 651h1v1h-1zM225 635h1v1h-1zM229 651h1v1h-1zM219 632h1v1h-1zM235 638h1v1h-1zM228 635h1v1h-1zM230 641h1v1h-1zM232 633h1v1h-1zM231 622h1v1h-1zM242 660h1v1h-1zM237 642h1v1h-1zM222 626h1v1h-1zM243 649h1v1h-1zM228 656h1v1h-1zM235 654h1v1h-1zM237 639h1v1h-1zM228 648h1v1h-1zM228 650h1v1h-1zM226 653h1v1h-1zM221 642h1v1h-1zM230 643h1v1h-1zM206 647h1v1h-1zM239 633h1v1h-1zM229 635h1v1h-1zM237 646h1v1h-1zM239 640h1v1h-1zM225 646h1v1h-1zM242 646h1v1h-1zM244 654h1v1h-1zM228 642h1v1h-1zM232 648h1v1h-1zM235 652h1v1h-1zM226 652h1v1h-1zM249 653h1v1h-1zM210 664h1v1h-1zM236 660h1v1h-1zM237 636h1v1h-1zM231 636h1v1h-1zM230 638h1v1h-1zM242 624h1v1h-1zM230 653h1v1h-1zM230 635h1v1h-1zM225 638h1v1h-1zM242 638h1v1h-1zM238 635h1v1h-1zM219 636h1v1h-1zM239 630h1v1h-1zM221 651h1v1h-1zM231 637h1v1h-1zM240 655h1v1h-1zM231 662h1v1h-1zM244 646h1v1h-1zM233 645h1v1h-1zM235 653h1v1h-1zM239 655h1v1h-1zM239 633h1v1h-1zM240 643h1v1h-1zM242 641h1v1h-1zM234 645h1v1h-1zM229 619h1v1h-1zM228 638h1v1h-1zM232 642h1v1h-1zM227 653h1v1h-1zM233 633h1v1h-1zM234 649h1v1h-1zM235 655h1v1h-1zM231 644h1v1h-1zM242 642h1v1h-1zM231 660h1v1h-1zM236 644h1v1h-1zM237 648h1v1h-1zM216 633h1v1h-1zM228 643h1v1h-1zM225 620h1v1h-1zM229 638h1v1h-1zM222 637h1v1h-1zM227 637h1v1h-1zM223 641h1v1h-1zM231 638h1v1h-1zM227 620h1v1h-1zM226 648h1v1h-1zM231 654h1v1h-1zM224 635h1v1h-1zM236 655h1v1h-1zM232 652h1v1h-1zM223 657h1v1h-1zM226 647h1v1h-1zM237 646h1v1h-1zM222 635h1v1h-1zM232 654h1v1h-1zM230 640h1v1h-1zM224 636h1v1h-1zM229 658h1v1h-1zM238 654h1v1h-1zM228 650h1v1h-1zM216 656h1v1h-1zM237 633h1v1h-1zM236 628h1v1h-1zM226 645h1v1h-1zM230 655h1v1h-1zM240 654h1v1h-1zM220 645h1v1h-1zM249 649h1v1h-1zM226 633h1v1h-1zM228 661h1v1h-1zM235 656h1v1h-1zM232 659h1v1h-1zM247 656h1v1h-1zM243 637h1v1h-1zM237 649h1v1h-1zM237 653h1v1h-1zM233 641h1v1h-1zM238 650h1v1h-1zM226 645h1v1h-1zM218 650h1v1h-1zM224 647h1v1h-1zM229 628h1v1h-1zM217 652h1v1h-1zM232 627h1v1h-1zM227 642h1v1h-1zM230 626h1v1h-1zM223 635h1v1h-1zM220 640h1v1h-1zM231 657h1v1h-1zM247 632h1v1h-1zM231 643h1v1h-1zM229 646h1v1h-1zM241 635h1v1h-1zM231 630h1v1h-1zM238 654h1v1h-1zM234 638h1v1h-1zM232 639h1v1h-1zM230 657h1v1h-1zM239 648h1v1h-1zM222 643h1v1h-1zM243 633h1v1h-1zM218 636h1v1h-1zM238 651h1v1h-1zM226 655h1v1h-1zM234 642h1v1h-1zM230 650h1v1h-1zM232 632h1v1h-1zM221 643h1v1h-1zM235 658h1v1h-1zM220 632h1v1h-1zM233 657h1v1h-1zM228 645h1v1h-1zM233 637h1v1h-1zM231 636h1v1h-1zM233 618h1v1h-1zM237 648h1v1h-1zM231 636h1v1h-1zM232 656h1v1h-1zM226 624h1v1h-1zM228 639h1v1h-1zM229 645h1v1h-1zM224 630h1v1h-1zM232 647h1v1h-1zM225 628h1v1h-1zM233 644h1v1h-1zM242 633h1v1h-1zM232 648h1v1h-1zM233 642h1v1h-1zM225 648h1v1h-1zM227 642h1v1h-1zM219 639h1v1h-1zM229 647h1v1h-1zM226 639h1v1h-1zM238 640h1v1h-1zM236 656h1v1h-1zM229 647h1v1h-1zM226 639h1v1h-1zM235 642h1v1h-1zM239 653h1v1h-1zM231 618h1v1h-1zM226 621h1v1h-1zM218 645h1v1h-1zM224 651h1v1h-1zM232 641h1v1h-1zM229 632h1v1h-1zM232 632h1v1h-1zM243 648h1v1h-1zM242 646h1v1h-1zM239 636h1v1h-1zM221 656h1v1h-1zM249 648h1v1h-1zM248 650h1v1h-1zM223 651h1v1h-1zM227 661h1v1h-1zM236 643h1v1h-1zM227 643h1v1h-1zM232 641h1v1h-1zM229 651h1v1h-1zM231 637h1v1h-1zM242 632h1v1h-1zM247 664h1v1h-1zM241 632h1v1h-1zM231 635h1v1h-1zM232 654h1v1h-1zM246 643h1v1h-1zM234 652h1v1h-1zM227 634h1v1h-1zM231 650h1v1h-1zM231 654h1v1h-1zM231 654h1v1h-1zM221 632h1v1h-1zM225 640h1v1h-1zM233 648h1v1h-1zM237 644h1v1h-1zM226 637h1v1h-1zM241 654h1v1h-1zM230 643h1v1h-1zM221 624h1v1h-1zM226 653h1v1h-1zM244 640h1v1h-1zM237 635h1v1h-1zM233 635h1v1h-1zM235 653h1v1h-1zM231 653h1v1h-1zM235 643h1v1h-1zM232 635h1v1h-1zM222 636h1v1h-1zM233 641h1v1h-1zM229 649h1v1h-1zM239 632h1v1h-1zM237 633h1v1h-1zM240 650h1v1h-1zM243 623h1v1h-1zM233 642h1v1h-1zM239 638h1v1h-1zM229 641h1v1h-1zM244 643h1v1h-1zM218 637h1v1h-1zM226 652h1v1h-1zM230 650h1v1h-1zM232 630h1v1h-1zM224 628h1v1h-1zM223 649h1v1h-1zM225 644h1v1h-1zM242 633h1v1h-1zM231 652h1v1h-1zM235 638h1v1h-1zM226 648h1v1h-1zM227 645h1v1h-1zM230 649h1v1h-1zM224 633h1v1h-1zM250 639h1v1h-1zM230 663h1v1h-1zM231 639h1v1h-1zM218 658h1v1h-1zM230 642h1v1h-1zM240 651h1v1h-1zM244 634h1v1h-1zM238 642h1v1h-1zM234 663h1v1h-1zM214 653h1v1h-1zM229 636h1v1h-1zM234 644h1v1h-1zM249 638h1v1h-1zM228 641h1v1h-1zM232 648h1v1h-1zM229 644h1v1h-1zM236 633h1v1h-1zM237 638h1v1h-1zM222 647h1v1h-1zM235 645h1v1h-1zM228 640h1v1h-1zM240 629h1v1h-1zM232 658h1v1h-1zM230 638h1v1h-1zM231 642h1v1h-1zM242 645h1v1h-1zM222 652h1v1h-1zM242 662h1v1h-1zM220 657h1v1h-1zM236 638h1v1h-1zM234 655h1v1h-1zM210 639h1v1h-1zM227 647h1v1h-1zM237 623h1v1h-1zM246 634h1v1h-1zM229 655h1v1h-1zM231 664h1v1h-1zM237 637h1v1h-1zM230 643h1v1h-1zM242 648h1v1h-1zM230 655h1v1h-1zM237 624h1v1h-1zM229 649h1v1h-1zM243 663h1v1h-1zM226 645h1v1h-1zM246 633h1v1h-1zM236 663h1v1h-1zM233 649h1v1h-1zM235 660h1v1h-1zM224 647h1v1h-1zM232 637h1v1h-1zM233 627h1v1h-1zM231 647h1v1h-1zM230 654h1v1h-1zM233 645h1v1h-1zM231 644h1v1h-1zM233 644h1v1h-1zM227 657h1v1h-1zM235 640h1v1h-1zM230 639h1v1h-1zM232 639h1v1h-1zM220 651h1v1h-1zM236 646h1v1h-1zM218 618h1v1h-1zM224 632h1v1h-1zM228 635h1v1h-1zM223 656h1v1h-1zM251 661h1v1h-1zM224 645h1v1h-1zM235 661h1v1h-1zM234 635h1v1h-1zM226 654h1v1h-1zM243 650h1v1h-1zM238 628h1v1h-1zM237 647h1v1h-1zM246 645h1v1h-1zM220 621h1v1h-1zM243 657h1v1h-1zM225 658h1v1h-1zM238 643h1v1h-1zM231 639h1v1h-1zM239 647h1v1h-1zM240 659h1v1h-1zM226 641h1v1h-1zM238 652h1v1h-1zM238 631h1v1h-1zM237 635h1v1h-1zM235 636h1v1h-1zM239 644h1v1h-1zM242 630h1v1h-1zM225 638h1v1h-1zM232 656h1v1h-1zM239 633h1v1h-1zM227 635h1v1h-1zM227 661h1v1h-1zM234 648h1v1h-1zM214 637h1v1h-1zM236 645h1v1h-1zM225 639h1v1h-1zM234 631h1v1h-1zM229 643h1v1h-1zM229 652h1v1h-1zM226 646h1v1h-1zM247 646h1v1h-1zM224 647h1v1h-1zM232 649h1v1h-1zM232 664h1v1h-1zM242 632h1v1h-1zM245 628h1v1h-1zM224 642h1v1h-1zM242 660h1v1h-1zM222 654h1v1h-1zM233 655h1v1h-1zM240 646h1v1h-1zM238 653h1v1h-1zM243 642h1v1h-1zM230 649h1v1h-1zM241 654h1v1h-1zM230 660h1v1h-1zM234 662h1v1h-1zM229 621h1v1h-1zM233 631h1v1h-1zM234 635h1v1h-1zM234 647h1v1h-1zM237 652h1v1h-1zM215 651h1v1h-1zM236 620h1v1h-1zM233 648h1v1h-1zM224 641h1v1h-1zM221 628h1v1h-1zM229 629h1v1h-1zM245 648h1v1h-1zM247 651h1v1h-1zM229 653h1v1h-1zM216 662h1v1h-1zM227 662h1v1h-1zM235 644h1v1h-1zM229 644h1v1h-1zM236 651h1v1h-1zM246 644h1v1h-1zM249 645h1v1h-1zM231 644h1v1h-1zM226 638h1v1h-1zM212 627h1v1h-1zM236 651h1v1h-1zM219 642h1v1h-1zM231 646h1v1h-1zM239 644h1v1h-1zM238 656h1v1h-1zM232 635h1v1h-1zM229 659h1v1h-1zM228 631h1v1h-1zM225 628h1v1h-1zM233 631h1v1h-1zM238 649h1v1h-1zM223 635h1v1h-1zM235 662h1v1h-1zM249 651h1v1h-1zM227 641h1v1h-1zM233 653h1v1h-1zM239 648h1v1h-1zM228 644h1v1h-1zM225 658h1v1h-1zM236 627h1v1h-1zM239 648h1v1h-1zM228 652h1v1h-1zM242 642h1v1h-1zM228 638h1v1h-1zM222 662h1v1h-1zM225 626h1v1h-1zM229 643h1v1h-1zM236 643h1v1h-1zM233 655h1v1h-1zM224 634h1v1h-1zM219 644h1v1h-1zM236 648h1v1h-1zM227 662h1v1h-1zM226 644h1v1h-1zM230 635h1v1h-1zM233 638h1v1h-1zM245 647h1v1h-1zM242 661h1v1h-1zM224 637h1v1h-1zM245 652h1v1h-1zM243 646h1v1h-1zM225 657h1v1h-1zM240 651h1v1h-1zM229 646h1v1h-1zM237 645h1v1h-1zM230 644h1v1h-1zM235 648h1v1h-1zM215 631h1v1h-1zM235 656h1v1h-1zM235 650h1v1h-1zM237 659h1v1h-1zM214 639h1v1h-1zM230 641h1v1h-1zM239 642h1v1h-1zM241 618h1v1h-1zM218 647h1v1h-1zM232 641h1v1h-1zM222 631h1v1h-1zM232 642h1v1h-1zM223 642h1v1h-1zM234 643h1v1h-1zM227 655h1v1h-1zM226 642h1v1h-1zM236 661h1v1h-1zM238 641h1v1h-1zM225 639h1v1h-1zM216 611h1v1h-1zM240 639h1v1h-1zM228 630h1v1h-1zM234 644h1v1h-1zM216 642h1v1h-1zM230 646h1v1h-1zM223 654h1v1h-1zM236 643h1v1h-1zM232 654h1v1h-1zM235 655h1v1h-1zM237 634h1v1h-1zM227 646h1v1h-1zM232 638h1v1h-1zM230 641h1v1h-1zM219 638h1v1h-1zM231 655h1v1h-1zM230 627h1v1h-1zM233 633h1v1h-1zM240 640h1v1h-1zM228 648h1v1h-1zM231 632h1v1h-1zM234 619h1v1h-1zM228 655h1v1h-1zM228 622h1v1h-1zM238 640h1v1h-1zM232 660h1v1h-1zM238 624h1v1h-1zM231 656h1v1h-1zM226 642h1v1h-1zM240 650h1v1h-1zM231 659h1v1h-1zM228 657h1v1h-1zM235 642h1v1h-1zM231 647h1v1h-1zM221 628h1v1h-1zM244 620h1v1h-1zM233 650h1v1h-1zM223 631h1v1h-1zM240 633h1v1h-1zM235 655h1v1h-1zM219 639h1v1h-1zM242 624h1v1h-1zM242 637h1v1h-1zM227 635h1v1h-1zM229 634h1v1h-1zM237 639h1v1h-1zM224 643h1v1h-1zM220 642h1v1h-1zM231 657h1v1h-1zM220 639h1v1h-1zM221 634h1v1h-1zM238 652h1v1h-1zM216 645h1v1h-1zM228 639h1v1h-1zM231 650h1v1h-1zM233 653h1v1h-1zM228 634h1v1h-1zM239 636h1v1h-1zM235 629h1v1h-1zM238 639h1v1h-1zM224 664h1v1h-1zM226 635h1v1h-1zM234 638h1v1h-1zM234 658h1v1h-1zM234 634h1v1h-1zM242 645h1v1h-1zM240 635h1v1h-1zM239 646h1v1h-1zM238 644h1v1h-1zM230 639h1v1h-1zM226 634h1v1h-1zM234 657h1v1h-1zM230 661h1v1h-1zM232 649h1v1h-1zM246 620h1v1h-1zM250 656h1v1h-1zM235 649h1v1h-1zM230 631h1v1h-1zM218 650h1v1h-1zM246 640h1v1h-1zM245 640h1v1h-1zM213 618h1v1h-1zM215 656h1v1h-1zM234 626h1v1h-1zM225 647h1v1h-1zM235 636h1v1h-1zM236 650h1v1h-1zM231 641h1v1h-1zM242 653h1v1h-1zM228 646h1v1h-1zM238 652h1v1h-1zM233 640h1v1h-1zM232 644h1v1h-1zM238 642h1v1h-1zM223 651h1v1h-1zM226 650h1v1h-1zM222 647h1v1h-1zM224 640h1v1h-1zM236 658h1v1h-1zM235 646h1v1h-1zM226 656h1v1h-1zM249 657h1v1h-1zM230 632h1v1h-1zM225 640h1v1h-1zM249 648h1v1h-1zM214 643h1v1h-1zM228 650h1v1h-1zM220 618h1v1h-1zM237 657h1v1h-1zM242 649h1v1h-1zM224 648h1v1h-1zM239 638h1v1h-1zM219 654h1v1h-1zM236 642h1v1h-1zM227 627h1v1h-1zM251 641h1v1h-1zM227 640h1v1h-1zM229 634h1v1h-1zM226 635h1v1h-1zM222 647h1v1h-1zM230 633h1v1h-1zM231 643h1v1h-1zM241 652h1v1h-1zM220 652h1v1h-1zM231 661h1v1h-1zM226 634h1v1h-1zM233 637h1v1h-1zM225 645h1v1h-1zM224 616h1v1h-1zM234 632h1v1h-1zM237 645h1v1h-1zM235 651h1v1h-1zM245 639h1v1h-1zM228 643h1v1h-1zM233 660h1v1h-1zM234 627h1v1h-1zM217 631h1v1h-1zM228 645h1v1h-1zM229 652h1v1h-1zM243 631h1v1h-1zM228 637h1v1h-1zM234 638h1v1h-1zM237 637h1v1h-1zM230 656h1v1h-1zM237 629h1v1h-1zM233 643h1v1h-1zM239 643h1v1h-1zM244 640h1v1h-1zM223 644h1v1h-1zM243 629h1v1h-1zM217 662h1v1h-1zM243 644h1v1h-1zM236 653h1v1h-1zM231 645h1v1h-1zM226 640h1v1h-1zM237 640h1v1h-1zM237 631h1v1h-1zM223 647h1v1h-1zM225 643h1v1h-1zM235 641h1v1h-1zM230 643h1v1h-1zM237 640h1v1h-1zM236 663h1v1h-1zM237 651h1v1h-1zM238 648h1v1h-1zM244 657h1v1h-1zM233 655h1v1h-1zM233 641h1v1h-1zM231 642h1v1h-1zM235 640h1v1h-1zM235 636h1v1h-1zM228 628h1v1h-1zM227 649h1v1h-1zM221 645h1v1h-1zM234 646h1v1h-1zM232 641h1v1h-1zM233 651h1v1h-1zM232 643h1v1h-1zM230 640h1v1h-1zM235 655h1v1h-1zM224 636h1v1h-1zM232 662h1v1h-1zM206 647h1v1h-1zM234 656h1v1h-1zM231 622h1v1h-1zM226 663h1v1h-1zM231 652h1v1h-1zM221 615h1v1h-1zM233 642h1v1h-1zM219 653h1v1h-1zM234 625h1v1h-1zM235 645h1v1h-1zM225 644h1v1h-1zM223 632h1v1h-1zM230 645h1v1h-1zM224 654h1v1h-1zM227 645h1v1h-1zM227 632h1v1h-1zM224 635h1v1h-1zM229 646h1v1h-1zM220 652h1v1h-1zM234 656h1v1h-1zM224 653h1v1h-1zM228 624h1v1h-1zM230 645h1v1h-1zM246 630h1v1h-1zM232 633h1v1h-1zM248 643h1v1h-1zM239 640h1v1h-1zM228 640h1v1h-1zM233 656h1v1h-1zM230 650h1v1h-1zM248 645h1v1h-1zM238 650h1v1h-1zM238 651h1v1h-1zM231 636h1v1h-1zM229 644h1v1h-1zM248 626h1v1h-1zM226 641h1v1h-1zM223 648h1v1h-1zM235 645h1v1h-1zM242 654h1v1h-1zM237 636h1v1h-1zM229 648h1v1h-1zM220 645h1v1h-1zM237 642h1v1h-1zM241 635h1v1h-1zM224 651h1v1h-1zM231 646h1v1h-1zM226 639h1v1h-1zM226 633h1v1h-1zM220 645h1v1h-1zM236 645h1v1h-1zM220 639h1v1h-1zM237 656h1v1h-1zM223 628h1v1h-1zM235 625h1v1h-1zM236 641h1v1h-1zM239 650h1v1h-1zM229 653h1v1h-1zM244 661h1v1h-1zM237 658h1v1h-1zM232 645h1v1h-1zM238 642h1v1h-1zM229 640h1v1h-1zM235 656h1v1h-1zM222 648h1v1h-1zM226 640h1v1h-1zM237 645h1v1h-1zM244 637h1v1h-1zM242 657h1v1h-1zM229 635h1v1h-1zM226 639h1v1h-1zM232 643h1v1h-1zM238 654h1v1h-1zM222 643h1v1h-1zM230 633h1v1h-1zM238 651h1v1h-1zM216 647h1v1h-1zM252 658h1v1h-1zM230 645h1v1h-1zM229 657h1v1h-1zM234 635h1v1h-1zM228 638h1v1h-1zM222 646h1v1h-1zM234 647h1v1h-1zM235 645h1v1h-1zM212 658h1v1h-1zM227 632h1v1h-1zM222 629h1v1h-1zM233 643h1v1h-1zM231 639h1v1h-1zM233 637h1v1h-1zM223 630h1v1h-1zM240 630h1v1h-1zM241 633h1v1h-1zM230 635h1v1h-1zM232 656h1v1h-1zM233 649h1v1h-1zM226 641h1v1h-1zM232 639h1v1h-1zM242 652h1v1h-1zM234 642h1v1h-1zM235 632h1v1h-1zM224 627h1v1h-1zM233 646h1v1h-1zM235 642h1v1h-1zM227 635h1v1h-1zM233 649h1v1h-1zM224 651h1v1h-1zM239 653h1v1h-1zM231 643h1v1h-1zM227 661h1v1h-1zM239 631h1v1h-1zM223 648h1v1h-1zM228 648h1v1h-1zM218 628h1v1h-1zM228 638h1v1h-1zM225 643h1v1h-1zM242 647h1v1h-1zM238 624h1v1h-1zM234 647h1v1h-1zM223 643h1v1h-1zM232 640h1v1h-1zM232 620h1v1h-1zM233 635h1v1h-1zM226 636h1v1h-1zM233 652h1v1h-1zM229 653h1v1h-1zM224 636h1v1h-1zM220 648h1v1h-1zM243 645h1v1h-1zM249 661h1v1h-1zM224 637h1v1h-1zM239 657h1v1h-1zM239 644h1v1h-1zM227 634h1v1h-1zM206 617h1v1h-1zM221 629h1v1h-1zM222 612h1v1h-1zM226 625h1v1h-1zM225 628h1v1h-1zM224 627h1v1h-1zM249 608h1v1h-1zM236 620h1v1h-1zM243 620h1v1h-1zM200 625h1v1h-1zM238 624h1v1h-1zM206 629h1v1h-1zM214 614h1v1h-1zM230 620h1v1h-1zM223 627h1v1h-1zM226 626h1v1h-1zM245 614h1v1h-1zM207 629h1v1h-1zM238 619h1v1h-1zM219 626h1v1h-1zM233 608h1v1h-1zM248 627h1v1h-1zM205 616h1v1h-1zM238 626h1v1h-1zM246 617h1v1h-1zM204 626h1v1h-1zM234 603h1v1h-1zM228 626h1v1h-1zM237 623h1v1h-1zM248 625h1v1h-1zM244 619h1v1h-1zM240 623h1v1h-1zM248 627h1v1h-1zM244 611h1v1h-1zM220 618h1v1h-1zM239 624h1v1h-1zM231 607h1v1h-1zM249 623h1v1h-1zM248 616h1v1h-1zM239 614h1v1h-1zM245 606h1v1h-1zM212 599h1v1h-1zM245 629h1v1h-1zM234 629h1v1h-1zM246 617h1v1h-1zM235 615h1v1h-1zM242 627h1v1h-1zM229 619h1v1h-1zM234 621h1v1h-1zM229 620h1v1h-1zM226 617h1v1h-1zM213 629h1v1h-1zM227 623h1v1h-1zM225 611h1v1h-1zM247 623h1v1h-1zM244 621h1v1h-1zM216 606h1v1h-1zM245 609h1v1h-1zM244 619h1v1h-1zM224 617h1v1h-1zM245 628h1v1h-1zM223 623h1v1h-1zM224 622h1v1h-1zM222 628h1v1h-1zM201 619h1v1h-1zM225 625h1v1h-1zM208 606h1v1h-1zM228 624h1v1h-1zM206 621h1v1h-1zM225 625h1v1h-1zM249 607h1v1h-1zM246 620h1v1h-1zM240 612h1v1h-1zM217 627h1v1h-1zM241 628h1v1h-1zM235 627h1v1h-1zM247 623h1v1h-1zM224 622h1v1h-1zM233 620h1v1h-1zM215 617h1v1h-1zM246 612h1v1h-1zM246 624h1v1h-1zM212 621h1v1h-1zM230 622h1v1h-1zM247 609h1v1h-1zM249 629h1v1h-1zM246 629h1v1h-1zM222 613h1v1h-1zM231 618h1v1h-1zM249 624h1v1h-1zM238 628h1v1h-1zM248 618h1v1h-1zM224 618h1v1h-1zM218 624h1v1h-1zM198 607h1v1h-1zM248 623h1v1h-1zM236 629h1v1h-1zM218 612h1v1h-1zM227 615h1v1h-1zM226 622h1v1h-1zM229 601h1v1h-1zM239 622h1v1h-1zM222 622h1v1h-1zM229 600h1v1h-1zM217 629h1v1h-1zM223 606h1v1h-1zM248 626h1v1h-1zM216 601h1v1h-1zM215 624h1v1h-1zM248 615h1v1h-1zM201 612h1v1h-1zM246 608h1v1h-1zM212 629h1v1h-1zM227 608h1v1h-1zM238 629h1v1h-1zM211 628h1v1h-1zM242 624h1v1h-1zM197 617h1v1h-1zM241 627h1v1h-1zM219 605h1v1h-1zM243 612h1v1h-1zM240 626h1v1h-1zM238 603h1v1h-1zM218 610h1v1h-1zM228 627h1v1h-1zM221 599h1v1h-1zM249 622h1v1h-1zM220 625h1v1h-1zM225 627h1v1h-1zM244 624h1v1h-1zM218 627h1v1h-1zM240 620h1v1h-1zM226 627h1v1h-1zM235 616h1v1h-1zM239 611h1v1h-1zM242 619h1v1h-1zM232 625h1v1h-1zM236 626h1v1h-1zM236 625h1v1h-1zM223 620h1v1h-1zM188 615h1v1h-1zM248 605h1v1h-1zM221 598h1v1h-1zM241 623h1v1h-1zM231 619h1v1h-1zM248 623h1v1h-1zM223 627h1v1h-1zM243 619h1v1h-1zM225 622h1v1h-1zM234 616h1v1h-1zM222 594h1v1h-1zM235 596h1v1h-1zM245 601h1v1h-1zM211 604h1v1h-1zM238 578h1v1h-1zM213 585h1v1h-1zM211 589h1v1h-1zM215 586h1v1h-1zM211 585h1v1h-1zM213 593h1v1h-1zM236 587h1v1h-1zM246 597h1v1h-1zM230 595h1v1h-1zM234 588h1v1h-1zM220 594h1v1h-1zM205 590h1v1h-1zM232 613h1v1h-1zM210 598h1v1h-1zM232 576h1v1h-1zM208 604h1v1h-1zM229 597h1v1h-1zM221 593h1v1h-1zM247 593h1v1h-1zM248 574h1v1h-1zM241 585h1v1h-1zM181 615h1v1h-1zM180 614h1v1h-1zM180 615h1v1h-1zM183 622h1v1h-1zM182 611h1v1h-1zM183 626h1v1h-1zM178 615h1v1h-1zM178 603h1v1h-1zM180 621h1v1h-1zM179 623h1v1h-1zM184 617h1v1h-1zM182 610h1v1h-1zM180 609h1v1h-1zM178 619h1v1h-1zM179 623h1v1h-1zM186 619h1v1h-1zM179 607h1v1h-1zM182 608h1v1h-1zM179 609h1v1h-1zM184 615h1v1h-1zM177 620h1v1h-1zM183 614h1v1h-1zM179 606h1v1h-1zM175 616h1v1h-1zM183 611h1v1h-1zM184 622h1v1h-1zM185 607h1v1h-1zM185 603h1v1h-1zM177 619h1v1h-1zM180 600h1v1h-1z" fill="#000" shape-rendering="crispEdges"/></g><rect x="151.5" y="572.4" width="105.80000000000001" height="93.89999999999998" fill="none" stroke="#000" stroke-width="1"/><path d="M150.0,572.4h2M150.0,574.6h2M150.0,576.8h2M150.0,579.0h2M150.0,581.2h2M150.0,583.4h2M150.0,585.6h2M150.0,587.8h2M150.0,590.0h2M150.0,592.2h2M150.0,594.4h2M150.0,596.6h2M150.0,598.8h2M150.0,601.0h2M150.0,603.2h2M150.0,605.4h2M150.0,607.6h2M150.0,609.8h2M150.0,612.0h2M150.0,614.2h2M150.0,616.4h2M150.0,618.6h2M150.0,620.8h2M150.0,623.0h2M150.0,625.2h2M150.0,627.4h2M150.0,629.6h2M150.0,631.8h2M150.0,634.0h2M150.0,636.2h2M150.0,638.4h2M150.0,640.6h2M150.0,642.8h2M150.0,645.0h2M150.0,647.2h2M150.0,649.4h2M150.0,651.6h2M150.0,653.8h2M150.0,656.0h2M150.0,658.2h2M150.0,660.4h2M150.0,662.6h2M150.0,664.8h2" stroke="#000" stroke-width="0.7"/><path d="M186.6,572.4V666.3M151.5,629.8H257.3" stroke="#000" stroke-width="1.2"/></g>
<g font-family='"Liberation Sans", sans-serif' fill="#000" stroke="#000" stroke-width="0.4">
<text x="29.9" y="679" font-size="9" font-weight="bold" text-anchor="middle">10<tspan font-size="6" dy="-3.5">0</tspan></text>
<text x="56.4" y="679" font-size="9" font-weight="bold" text-anchor="middle">10<tspan font-size="6" dy="-3.5">1</tspan></text>
<text x="82.9" y="679" font-size="9" font-weight="bold" text-anchor="middle">10<tspan font-size="6" dy="-3.5">2</tspan></text>
<text x="107.2" y="679" font-size="9" font-weight="bold" text-anchor="middle">10<tspan font-size="6" dy="-3.5">3</tspan></text>
<text x="133" y="679" font-size="9" font-weight="bold" text-anchor="middle">10<tspan font-size="6" dy="-3.5">4</tspan></text>
<text x="150.2" y="679" font-size="9" font-weight="bold" text-anchor="middle">10<tspan font-size="6" dy="-3.5">0</tspan></text>
<text x="177.9" y="679" font-size="9" font-weight="bold" text-anchor="middle">10<tspan font-size="6" dy="-3.5">1</tspan></text>
<text x="205" y="679" font-size="9" font-weight="bold" text-anchor="middle">10<tspan font-size="6" dy="-3.5">2</tspan></text>
<text x="228.6" y="679" font-size="9" font-weight="bold" text-anchor="middle">10<tspan font-size="6" dy="-3.5">3</tspan></text>
<text x="254.4" y="679" font-size="9" font-weight="bold" text-anchor="middle">10<tspan font-size="6" dy="-3.5">4</tspan></text>
<text transform="translate(22.1,567.2) rotate(-90)" font-size="9" font-weight="bold" stroke-width="0" text-anchor="middle">10</text>
<text transform="translate(27.3,567.7) rotate(-90)" font-size="6" font-weight="bold" stroke-width="0" text-anchor="middle">4</text>
<text transform="translate(22.1,596.0) rotate(-90)" font-size="9" font-weight="bold" stroke-width="0" text-anchor="middle">10</text>
<text transform="translate(21.6,589.7) rotate(-90)" font-size="6" font-weight="bold" stroke-width="0" text-anchor="middle">3</text>
<text transform="translate(21.6,614.0) rotate(-90)" font-size="9" font-weight="bold" stroke-width="0" text-anchor="middle">10</text>
<text transform="translate(26.6,614.0) rotate(-90)" font-size="6" font-weight="bold" stroke-width="0" text-anchor="middle">2</text>
<text transform="translate(23.9,643.3) rotate(-90)" font-size="9" font-weight="bold" stroke-width="0" text-anchor="middle">10</text>
<text transform="translate(20.4,636.3) rotate(-90)" font-size="6" font-weight="bold" stroke-width="0" text-anchor="middle">1</text>
<text transform="translate(22.2,665.0) rotate(-90)" font-size="9" font-weight="bold" stroke-width="0" text-anchor="middle">10</text>
<text transform="translate(26.8,665.3) rotate(-90)" font-size="6" font-weight="bold" stroke-width="0" text-anchor="middle">0</text>
<text transform="translate(11,612.7) rotate(-90) scale(1,1.05)" font-size="16" font-weight="bold" text-anchor="middle">7-AAD</text>
<text x="4" y="706.7" font-size="15.3" font-weight="bold">Fluorescence (arbitrary units, log<tspan font-size="10.5" dy="3.5">10</tspan><tspan dy="-3.5">)</tspan></text>
<text x="133.4" y="724.5" font-size="15.3" font-weight="bold" text-anchor="middle">annexin V-PE</text>
<path d="M152,568.7H170" stroke="#aaa" stroke-width="0.8" stroke-dasharray="1 1.6"/>
<text x="295.5" y="532.5" font-size="25" font-weight="bold" text-anchor="start" >C</text>
<text transform="translate(307.3,602.1) rotate(-90)" font-size="14.9" font-weight="bold" text-anchor="middle">MFI increase (%)</text>
<text x="336.5" y="574.0" font-size="15" font-weight="bold" text-anchor="end">200</text>
<text x="336.5" y="599.2" font-size="15" font-weight="bold" text-anchor="end">150</text>
<text x="336.5" y="624.4" font-size="15" font-weight="bold" text-anchor="end">100</text>
<text x="336.5" y="649.3" font-size="15" font-weight="bold" text-anchor="end">50</text>
<text x="336.5" y="673.2" font-size="15" font-weight="bold" text-anchor="end">0</text>
<text x="371" y="695" font-size="14.3" font-weight="bold" text-anchor="middle">PR3</text>
<text x="412.3" y="695" font-size="14.3" font-weight="bold" text-anchor="middle">CD63</text>
<text x="460.3" y="695" font-size="14.3" font-weight="bold" text-anchor="middle">CD66b</text>
<text x="502" y="695" font-size="14.3" font-weight="bold" text-anchor="middle">CD35</text>
</g>
<path d="M347.3,552V668.5M338.2,568.75H347.3M338.2,594.0H347.3M338.2,619.2H347.3M338.2,644.1H347.3M338.2,668.0H347.3" stroke="#000" stroke-width="1.3" fill="none"/>
<defs><pattern id="diag" width="8" height="8" patternUnits="userSpaceOnUse" patternTransform="rotate(45)"><rect width="8" height="8" fill="#fff"/><rect width="4" height="8" fill="#000"/></pattern></defs>
<rect x="354.8" y="584.8" width="31" height="86.5" fill="#000"/>
<path d="M370.3,563.6V585M368.8,563.8H371.8" stroke="#000" stroke-width="1.3"/>
<path d="M411.7,648.6V659M410.3,648.8H413.1" stroke="#000" stroke-width="1.3"/>
<rect x="396.6" y="659.7" width="30" height="11" fill="url(#diag)" stroke="#000" stroke-width="1.5"/>
<path d="M458.8,654.6V661M457.4,654.8H460.2" stroke="#000" stroke-width="1.3"/>
<rect x="443.3" y="661.5" width="30" height="9.5" fill="#000"/>
<rect x="445" y="665.3" width="27.3" height="3.2" fill="#fff"/>
<path d="M502,653.8V662M500.6,654H503.4" stroke="#000" stroke-width="1.3"/>
<rect x="486.4" y="662.6" width="30.6" height="8.7" fill="#000"/>
<rect x="488.20" y="664.7" width="3.1" height="5.2" fill="#fff"/>
<rect x="494.05" y="664.7" width="3.1" height="5.2" fill="#fff"/>
<rect x="499.90" y="664.7" width="3.1" height="5.2" fill="#fff"/>
<rect x="505.75" y="664.7" width="3.1" height="5.2" fill="#fff"/>
<rect x="511.60" y="664.7" width="3.1" height="5.2" fill="#fff"/>
<path d="M365.50,549.40L365.50,553.80M365.50,549.40L369.31,551.60M365.50,549.40L361.69,551.60M365.50,549.40L365.50,545.00M365.50,549.40L361.69,547.20M365.50,549.40L369.31,547.20" stroke="#000" stroke-width="1.1" stroke-linecap="round"/>
<g fill="#000"><circle cx="365.50" cy="553.10" r="1.3"/><circle cx="368.70" cy="551.25" r="1.3"/><circle cx="362.30" cy="551.25" r="1.3"/><circle cx="365.50" cy="545.70" r="1.3"/><circle cx="362.30" cy="547.55" r="1.3"/><circle cx="368.70" cy="547.55" r="1.3"/></g>
<path d="M377.50,549.40L377.50,553.80M377.50,549.40L381.31,551.60M377.50,549.40L373.69,551.60M377.50,549.40L377.50,545.00M377.50,549.40L373.69,547.20M377.50,549.40L381.31,547.20" stroke="#000" stroke-width="1.1" stroke-linecap="round"/>
<g fill="#000"><circle cx="377.50" cy="553.10" r="1.3"/><circle cx="380.70" cy="551.25" r="1.3"/><circle cx="374.30" cy="551.25" r="1.3"/><circle cx="377.50" cy="545.70" r="1.3"/><circle cx="374.30" cy="547.55" r="1.3"/><circle cx="380.70" cy="547.55" r="1.3"/></g>
</svg>
</body></html>
